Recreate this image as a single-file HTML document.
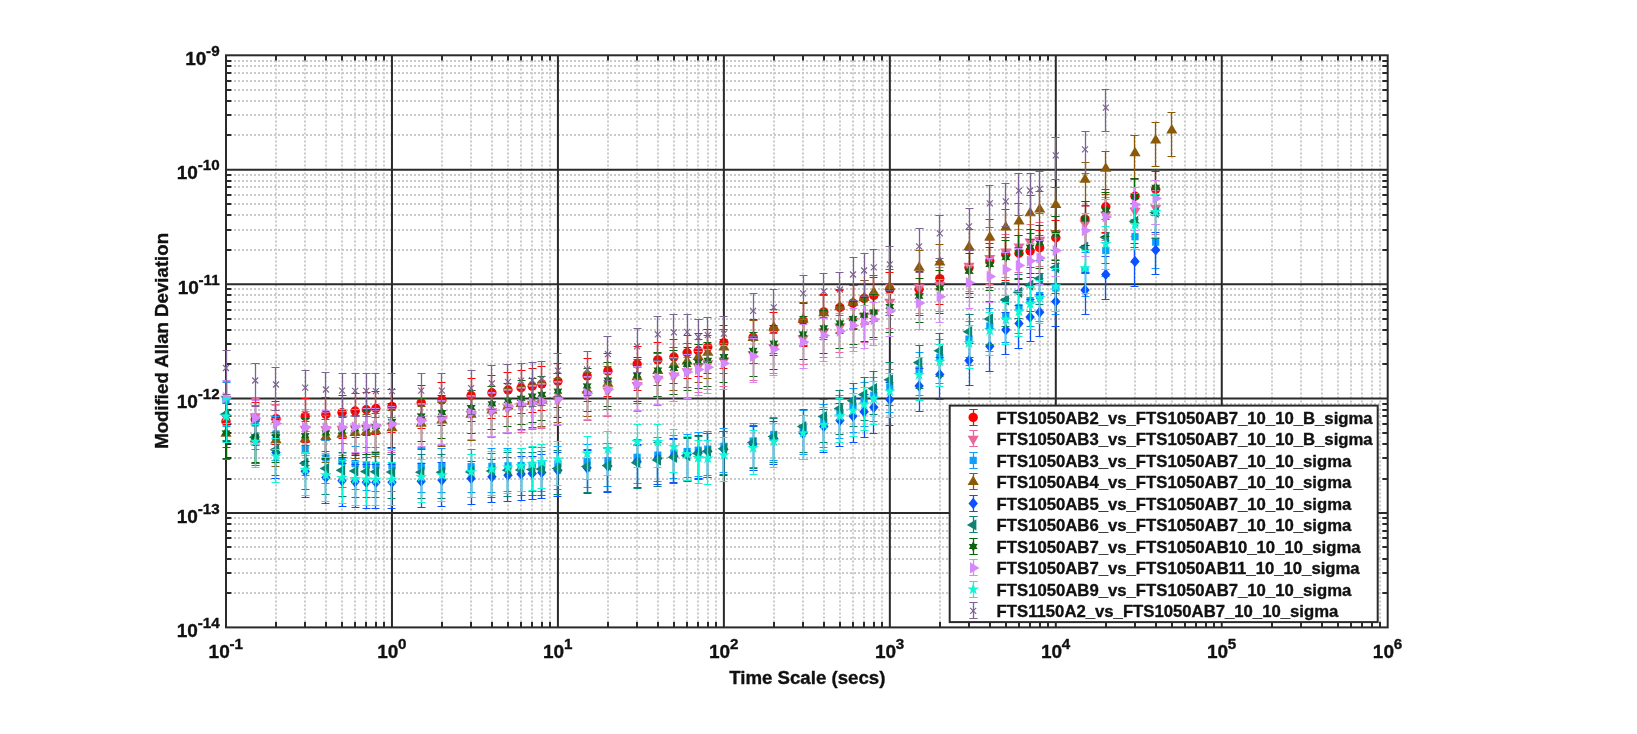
<!DOCTYPE html>
<html><head><meta charset="utf-8"><title>Modified Allan Deviation</title>
<style>html,body{margin:0;padding:0;background:#fff;width:1637px;height:734px;overflow:hidden}
svg text{font-family:"Liberation Sans",sans-serif;stroke:#111;stroke-width:0.35px;stroke-linejoin:round}</style></head>
<body>
<svg width="1637" height="734" viewBox="0 0 1637 734" style="position:absolute;left:0;top:0;will-change:transform">
<rect width="1637" height="734" fill="#fff"/>
<path d="M276.0 626.4V55.3M305.0 626.4V55.3M326.0 626.4V55.3M342.0 626.4V55.3M355.0 626.4V55.3M366.0 626.4V55.3M376.0 626.4V55.3M384.0 626.4V55.3M442.0 626.4V55.3M471.0 626.4V55.3M492.0 626.4V55.3M508.0 626.4V55.3M521.0 626.4V55.3M532.0 626.4V55.3M542.0 626.4V55.3M550.0 626.4V55.3M608.0 626.4V55.3M637.0 626.4V55.3M658.0 626.4V55.3M674.0 626.4V55.3M687.0 626.4V55.3M698.0 626.4V55.3M708.0 626.4V55.3M716.0 626.4V55.3M774.0 626.4V55.3M803.0 626.4V55.3M824.0 626.4V55.3M840.0 626.4V55.3M853.0 626.4V55.3M864.0 626.4V55.3M874.0 626.4V55.3M882.0 626.4V55.3M940.0 626.4V55.3M969.0 626.4V55.3M990.0 626.4V55.3M1006.0 626.4V55.3M1019.0 626.4V55.3M1030.0 626.4V55.3M1040.0 626.4V55.3M1048.0 626.4V55.3M1106.0 626.4V55.3M1135.0 626.4V55.3M1156.0 626.4V55.3M1172.0 626.4V55.3M1185.0 626.4V55.3M1196.0 626.4V55.3M1206.0 626.4V55.3M1214.0 626.4V55.3M1272.0 626.4V55.3M1301.0 626.4V55.3M1322.0 626.4V55.3M1338.0 626.4V55.3M1351.0 626.4V55.3M1362.0 626.4V55.3M1372.0 626.4V55.3M1380.0 626.4V55.3M226.0 593.0H1387.7M226.0 573.0H1387.7M226.0 559.0H1387.7M226.0 547.0H1387.7M226.0 538.0H1387.7M226.0 531.0H1387.7M226.0 524.0H1387.7M226.0 518.0H1387.7M226.0 479.0H1387.7M226.0 458.0H1387.7M226.0 444.0H1387.7M226.0 433.0H1387.7M226.0 424.0H1387.7M226.0 416.0H1387.7M226.0 410.0H1387.7M226.0 404.0H1387.7M226.0 364.0H1387.7M226.0 344.0H1387.7M226.0 330.0H1387.7M226.0 319.0H1387.7M226.0 310.0H1387.7M226.0 302.0H1387.7M226.0 295.0H1387.7M226.0 289.0H1387.7M226.0 250.0H1387.7M226.0 230.0H1387.7M226.0 215.0H1387.7M226.0 204.0H1387.7M226.0 195.0H1387.7M226.0 187.0H1387.7M226.0 181.0H1387.7M226.0 175.0H1387.7M226.0 135.0H1387.7M226.0 115.0H1387.7M226.0 101.0H1387.7M226.0 90.0H1387.7M226.0 81.0H1387.7M226.0 73.0H1387.7M226.0 66.0H1387.7M226.0 61.0H1387.7" stroke="#cacaca" stroke-width="2" stroke-dasharray="2 2" fill="none"/>
<path d="M391.96 55.3V627.4M557.92 55.3V627.4M723.88 55.3V627.4M889.84 55.3V627.4M1055.80 55.3V627.4M1221.76 55.3V627.4M226.0 169.72H1387.7M226.0 284.14H1387.7M226.0 398.56H1387.7M226.0 512.98H1387.7" stroke="#2a2a2a" stroke-width="2" fill="none"/>
<path d="M276.0 55.3v5.3M276.0 627.4v-5.3M305.0 55.3v5.3M305.0 627.4v-5.3M326.0 55.3v5.3M326.0 627.4v-5.3M342.0 55.3v5.3M342.0 627.4v-5.3M355.0 55.3v5.3M355.0 627.4v-5.3M366.0 55.3v5.3M366.0 627.4v-5.3M376.0 55.3v5.3M376.0 627.4v-5.3M384.0 55.3v5.3M384.0 627.4v-5.3M442.0 55.3v5.3M442.0 627.4v-5.3M471.0 55.3v5.3M471.0 627.4v-5.3M492.0 55.3v5.3M492.0 627.4v-5.3M508.0 55.3v5.3M508.0 627.4v-5.3M521.0 55.3v5.3M521.0 627.4v-5.3M532.0 55.3v5.3M532.0 627.4v-5.3M542.0 55.3v5.3M542.0 627.4v-5.3M550.0 55.3v5.3M550.0 627.4v-5.3M608.0 55.3v5.3M608.0 627.4v-5.3M637.0 55.3v5.3M637.0 627.4v-5.3M658.0 55.3v5.3M658.0 627.4v-5.3M674.0 55.3v5.3M674.0 627.4v-5.3M687.0 55.3v5.3M687.0 627.4v-5.3M698.0 55.3v5.3M698.0 627.4v-5.3M708.0 55.3v5.3M708.0 627.4v-5.3M716.0 55.3v5.3M716.0 627.4v-5.3M774.0 55.3v5.3M774.0 627.4v-5.3M803.0 55.3v5.3M803.0 627.4v-5.3M824.0 55.3v5.3M824.0 627.4v-5.3M840.0 55.3v5.3M840.0 627.4v-5.3M853.0 55.3v5.3M853.0 627.4v-5.3M864.0 55.3v5.3M864.0 627.4v-5.3M874.0 55.3v5.3M874.0 627.4v-5.3M882.0 55.3v5.3M882.0 627.4v-5.3M940.0 55.3v5.3M940.0 627.4v-5.3M969.0 55.3v5.3M969.0 627.4v-5.3M990.0 55.3v5.3M990.0 627.4v-5.3M1006.0 55.3v5.3M1006.0 627.4v-5.3M1019.0 55.3v5.3M1019.0 627.4v-5.3M1030.0 55.3v5.3M1030.0 627.4v-5.3M1040.0 55.3v5.3M1040.0 627.4v-5.3M1048.0 55.3v5.3M1048.0 627.4v-5.3M1106.0 55.3v5.3M1106.0 627.4v-5.3M1135.0 55.3v5.3M1135.0 627.4v-5.3M1156.0 55.3v5.3M1156.0 627.4v-5.3M1172.0 55.3v5.3M1172.0 627.4v-5.3M1185.0 55.3v5.3M1185.0 627.4v-5.3M1196.0 55.3v5.3M1196.0 627.4v-5.3M1206.0 55.3v5.3M1206.0 627.4v-5.3M1214.0 55.3v5.3M1214.0 627.4v-5.3M1272.0 55.3v5.3M1272.0 627.4v-5.3M1301.0 55.3v5.3M1301.0 627.4v-5.3M1322.0 55.3v5.3M1322.0 627.4v-5.3M1338.0 55.3v5.3M1338.0 627.4v-5.3M1351.0 55.3v5.3M1351.0 627.4v-5.3M1362.0 55.3v5.3M1362.0 627.4v-5.3M1372.0 55.3v5.3M1372.0 627.4v-5.3M1380.0 55.3v5.3M1380.0 627.4v-5.3M226.0 593.0h5.3M1387.7 593.0h-5.3M226.0 573.0h5.3M1387.7 573.0h-5.3M226.0 559.0h5.3M1387.7 559.0h-5.3M226.0 547.0h5.3M1387.7 547.0h-5.3M226.0 538.0h5.3M1387.7 538.0h-5.3M226.0 531.0h5.3M1387.7 531.0h-5.3M226.0 524.0h5.3M1387.7 524.0h-5.3M226.0 518.0h5.3M1387.7 518.0h-5.3M226.0 479.0h5.3M1387.7 479.0h-5.3M226.0 458.0h5.3M1387.7 458.0h-5.3M226.0 444.0h5.3M1387.7 444.0h-5.3M226.0 433.0h5.3M1387.7 433.0h-5.3M226.0 424.0h5.3M1387.7 424.0h-5.3M226.0 416.0h5.3M1387.7 416.0h-5.3M226.0 410.0h5.3M1387.7 410.0h-5.3M226.0 404.0h5.3M1387.7 404.0h-5.3M226.0 364.0h5.3M1387.7 364.0h-5.3M226.0 344.0h5.3M1387.7 344.0h-5.3M226.0 330.0h5.3M1387.7 330.0h-5.3M226.0 319.0h5.3M1387.7 319.0h-5.3M226.0 310.0h5.3M1387.7 310.0h-5.3M226.0 302.0h5.3M1387.7 302.0h-5.3M226.0 295.0h5.3M1387.7 295.0h-5.3M226.0 289.0h5.3M1387.7 289.0h-5.3M226.0 250.0h5.3M1387.7 250.0h-5.3M226.0 230.0h5.3M1387.7 230.0h-5.3M226.0 215.0h5.3M1387.7 215.0h-5.3M226.0 204.0h5.3M1387.7 204.0h-5.3M226.0 195.0h5.3M1387.7 195.0h-5.3M226.0 187.0h5.3M1387.7 187.0h-5.3M226.0 181.0h5.3M1387.7 181.0h-5.3M226.0 175.0h5.3M1387.7 175.0h-5.3M226.0 135.0h5.3M1387.7 135.0h-5.3M226.0 115.0h5.3M1387.7 115.0h-5.3M226.0 101.0h5.3M1387.7 101.0h-5.3M226.0 90.0h5.3M1387.7 90.0h-5.3M226.0 81.0h5.3M1387.7 81.0h-5.3M226.0 73.0h5.3M1387.7 73.0h-5.3M226.0 66.0h5.3M1387.7 66.0h-5.3M226.0 61.0h5.3M1387.7 61.0h-5.3" stroke="#2a2a2a" stroke-width="2" fill="none"/>
<rect x="226.0" y="55.3" width="1161.7" height="572.1" fill="none" stroke="#2a2a2a" stroke-width="2"/>
<g>
<path d="M226.50 403.0V448.0" stroke="#ff0000" stroke-width="1.3" fill="none"/><path d="M222.50 403.5H230.50M222.50 447.5H230.50" stroke="#ff0000" stroke-width="1.2" fill="none"/>
<path d="M255.50 402.0V446.0" stroke="#ff0000" stroke-width="1.3" fill="none"/><path d="M251.50 402.5H259.50M251.50 445.5H259.50" stroke="#ff0000" stroke-width="1.2" fill="none"/>
<path d="M275.50 401.0V445.0" stroke="#ff0000" stroke-width="1.3" fill="none"/><path d="M271.50 401.5H279.50M271.50 444.5H279.50" stroke="#ff0000" stroke-width="1.2" fill="none"/>
<path d="M305.50 398.0V443.0" stroke="#ff0000" stroke-width="1.3" fill="none"/><path d="M301.50 398.5H309.50M301.50 442.5H309.50" stroke="#ff0000" stroke-width="1.2" fill="none"/>
<path d="M325.50 397.0V441.0" stroke="#ff0000" stroke-width="1.3" fill="none"/><path d="M321.50 397.5H329.50M321.50 440.5H329.50" stroke="#ff0000" stroke-width="1.2" fill="none"/>
<path d="M342.50 395.0V439.0" stroke="#ff0000" stroke-width="1.3" fill="none"/><path d="M338.50 395.5H346.50M338.50 438.5H346.50" stroke="#ff0000" stroke-width="1.2" fill="none"/>
<path d="M355.50 393.0V438.0" stroke="#ff0000" stroke-width="1.3" fill="none"/><path d="M351.50 393.5H359.50M351.50 437.5H359.50" stroke="#ff0000" stroke-width="1.2" fill="none"/>
<path d="M366.50 392.0V436.0" stroke="#ff0000" stroke-width="1.3" fill="none"/><path d="M362.50 392.5H370.50M362.50 435.5H370.50" stroke="#ff0000" stroke-width="1.2" fill="none"/>
<path d="M375.50 391.0V435.0" stroke="#ff0000" stroke-width="1.3" fill="none"/><path d="M371.50 391.5H379.50M371.50 434.5H379.50" stroke="#ff0000" stroke-width="1.2" fill="none"/>
<path d="M391.50 389.0V433.0" stroke="#ff0000" stroke-width="1.3" fill="none"/><path d="M387.50 389.5H395.50M387.50 432.5H395.50" stroke="#ff0000" stroke-width="1.2" fill="none"/>
<path d="M421.50 385.0V429.0" stroke="#ff0000" stroke-width="1.3" fill="none"/><path d="M417.50 385.5H425.50M417.50 428.5H425.50" stroke="#ff0000" stroke-width="1.2" fill="none"/>
<path d="M441.50 382.0V426.0" stroke="#ff0000" stroke-width="1.3" fill="none"/><path d="M437.50 382.5H445.50M437.50 425.5H445.50" stroke="#ff0000" stroke-width="1.2" fill="none"/>
<path d="M471.50 378.0V422.0" stroke="#ff0000" stroke-width="1.3" fill="none"/><path d="M467.50 378.5H475.50M467.50 421.5H475.50" stroke="#ff0000" stroke-width="1.2" fill="none"/>
<path d="M491.50 375.0V419.0" stroke="#ff0000" stroke-width="1.3" fill="none"/><path d="M487.50 375.5H495.50M487.50 418.5H495.50" stroke="#ff0000" stroke-width="1.2" fill="none"/>
<path d="M507.50 372.0V417.0" stroke="#ff0000" stroke-width="1.3" fill="none"/><path d="M503.50 372.5H511.50M503.50 416.5H511.50" stroke="#ff0000" stroke-width="1.2" fill="none"/>
<path d="M521.50 370.0V414.0" stroke="#ff0000" stroke-width="1.3" fill="none"/><path d="M517.50 370.5H525.50M517.50 413.5H525.50" stroke="#ff0000" stroke-width="1.2" fill="none"/>
<path d="M532.50 368.0V413.0" stroke="#ff0000" stroke-width="1.3" fill="none"/><path d="M528.50 368.5H536.50M528.50 412.5H536.50" stroke="#ff0000" stroke-width="1.2" fill="none"/>
<path d="M541.50 366.0V411.0" stroke="#ff0000" stroke-width="1.3" fill="none"/><path d="M537.50 366.5H545.50M537.50 410.5H545.50" stroke="#ff0000" stroke-width="1.2" fill="none"/>
<path d="M557.50 363.0V408.0" stroke="#ff0000" stroke-width="1.3" fill="none"/><path d="M553.50 363.5H561.50M553.50 407.5H561.50" stroke="#ff0000" stroke-width="1.2" fill="none"/>
<path d="M587.50 358.0V402.0" stroke="#ff0000" stroke-width="1.3" fill="none"/><path d="M583.50 358.5H591.50M583.50 401.5H591.50" stroke="#ff0000" stroke-width="1.2" fill="none"/>
<path d="M607.50 353.0V397.0" stroke="#ff0000" stroke-width="1.3" fill="none"/><path d="M603.50 353.5H611.50M603.50 396.5H611.50" stroke="#ff0000" stroke-width="1.2" fill="none"/>
<path d="M637.50 346.0V391.0" stroke="#ff0000" stroke-width="1.3" fill="none"/><path d="M633.50 346.5H641.50M633.50 390.5H641.50" stroke="#ff0000" stroke-width="1.2" fill="none"/>
<path d="M657.50 342.0V386.0" stroke="#ff0000" stroke-width="1.3" fill="none"/><path d="M653.50 342.5H661.50M653.50 385.5H661.50" stroke="#ff0000" stroke-width="1.2" fill="none"/>
<path d="M673.50 339.0V384.0" stroke="#ff0000" stroke-width="1.3" fill="none"/><path d="M669.50 339.5H677.50M669.50 383.5H677.50" stroke="#ff0000" stroke-width="1.2" fill="none"/>
<path d="M687.50 335.0V379.0" stroke="#ff0000" stroke-width="1.3" fill="none"/><path d="M683.50 335.5H691.50M683.50 378.5H691.50" stroke="#ff0000" stroke-width="1.2" fill="none"/>
<path d="M698.50 333.0V377.0" stroke="#ff0000" stroke-width="1.3" fill="none"/><path d="M694.50 333.5H702.50M694.50 376.5H702.50" stroke="#ff0000" stroke-width="1.2" fill="none"/>
<path d="M707.50 329.0V374.0" stroke="#ff0000" stroke-width="1.3" fill="none"/><path d="M703.50 329.5H711.50M703.50 373.5H711.50" stroke="#ff0000" stroke-width="1.2" fill="none"/>
<path d="M723.50 325.0V369.0" stroke="#ff0000" stroke-width="1.3" fill="none"/><path d="M719.50 325.5H727.50M719.50 368.5H727.50" stroke="#ff0000" stroke-width="1.2" fill="none"/>
<path d="M753.50 319.0V364.0" stroke="#ff0000" stroke-width="1.3" fill="none"/><path d="M749.50 319.5H757.50M749.50 363.5H757.50" stroke="#ff0000" stroke-width="1.2" fill="none"/>
<path d="M773.50 312.0V356.0" stroke="#ff0000" stroke-width="1.3" fill="none"/><path d="M769.50 312.5H777.50M769.50 355.5H777.50" stroke="#ff0000" stroke-width="1.2" fill="none"/>
<path d="M803.50 303.0V347.0" stroke="#ff0000" stroke-width="1.3" fill="none"/><path d="M799.50 303.5H807.50M799.50 346.5H807.50" stroke="#ff0000" stroke-width="1.2" fill="none"/>
<path d="M823.50 294.0V338.0" stroke="#ff0000" stroke-width="1.3" fill="none"/><path d="M819.50 294.5H827.50M819.50 337.5H827.50" stroke="#ff0000" stroke-width="1.2" fill="none"/>
<path d="M839.50 290.0V334.0" stroke="#ff0000" stroke-width="1.3" fill="none"/><path d="M835.50 290.5H843.50M835.50 333.5H843.50" stroke="#ff0000" stroke-width="1.2" fill="none"/>
<path d="M853.50 285.0V330.0" stroke="#ff0000" stroke-width="1.3" fill="none"/><path d="M849.50 285.5H857.50M849.50 329.5H857.50" stroke="#ff0000" stroke-width="1.2" fill="none"/>
<path d="M864.50 280.0V325.0" stroke="#ff0000" stroke-width="1.3" fill="none"/><path d="M860.50 280.5H868.50M860.50 324.5H868.50" stroke="#ff0000" stroke-width="1.2" fill="none"/>
<path d="M873.50 277.0V322.0" stroke="#ff0000" stroke-width="1.3" fill="none"/><path d="M869.50 277.5H877.50M869.50 321.5H877.50" stroke="#ff0000" stroke-width="1.2" fill="none"/>
<path d="M889.50 272.0V316.0" stroke="#ff0000" stroke-width="1.3" fill="none"/><path d="M885.50 272.5H893.50M885.50 315.5H893.50" stroke="#ff0000" stroke-width="1.2" fill="none"/>
<path d="M919.50 271.0V316.0" stroke="#ff0000" stroke-width="1.3" fill="none"/><path d="M915.50 271.5H923.50M915.50 315.5H923.50" stroke="#ff0000" stroke-width="1.2" fill="none"/>
<path d="M939.50 261.0V305.0" stroke="#ff0000" stroke-width="1.3" fill="none"/><path d="M935.50 261.5H943.50M935.50 304.5H943.50" stroke="#ff0000" stroke-width="1.2" fill="none"/>
<path d="M969.50 250.0V294.0" stroke="#ff0000" stroke-width="1.3" fill="none"/><path d="M965.50 250.5H973.50M965.50 293.5H973.50" stroke="#ff0000" stroke-width="1.2" fill="none"/>
<path d="M989.50 243.0V288.0" stroke="#ff0000" stroke-width="1.3" fill="none"/><path d="M985.50 243.5H993.50M985.50 287.5H993.50" stroke="#ff0000" stroke-width="1.2" fill="none"/>
<path d="M1005.50 237.0V281.0" stroke="#ff0000" stroke-width="1.3" fill="none"/><path d="M1001.50 237.5H1009.50M1001.50 280.5H1009.50" stroke="#ff0000" stroke-width="1.2" fill="none"/>
<path d="M1018.50 235.0V280.0" stroke="#ff0000" stroke-width="1.3" fill="none"/><path d="M1014.50 235.5H1022.50M1014.50 279.5H1022.50" stroke="#ff0000" stroke-width="1.2" fill="none"/>
<path d="M1030.50 233.0V278.0" stroke="#ff0000" stroke-width="1.3" fill="none"/><path d="M1026.50 233.5H1034.50M1026.50 277.5H1034.50" stroke="#ff0000" stroke-width="1.2" fill="none"/>
<path d="M1039.50 230.0V274.0" stroke="#ff0000" stroke-width="1.3" fill="none"/><path d="M1035.50 230.5H1043.50M1035.50 273.5H1043.50" stroke="#ff0000" stroke-width="1.2" fill="none"/>
<path d="M1055.50 220.0V264.0" stroke="#ff0000" stroke-width="1.3" fill="none"/><path d="M1051.50 220.5H1059.50M1051.50 263.5H1059.50" stroke="#ff0000" stroke-width="1.2" fill="none"/>
<path d="M1085.50 201.0V246.0" stroke="#ff0000" stroke-width="1.3" fill="none"/><path d="M1081.50 201.5H1089.50M1081.50 245.5H1089.50" stroke="#ff0000" stroke-width="1.2" fill="none"/>
<path d="M1105.50 189.0V233.0" stroke="#ff0000" stroke-width="1.3" fill="none"/><path d="M1101.50 189.5H1109.50M1101.50 232.5H1109.50" stroke="#ff0000" stroke-width="1.2" fill="none"/>
<path d="M1134.50 178.0V223.0" stroke="#ff0000" stroke-width="1.3" fill="none"/><path d="M1130.50 178.5H1138.50M1130.50 222.5H1138.50" stroke="#ff0000" stroke-width="1.2" fill="none"/>
<path d="M1155.50 171.0V216.0" stroke="#ff0000" stroke-width="1.3" fill="none"/><path d="M1151.50 171.5H1159.50M1151.50 215.5H1159.50" stroke="#ff0000" stroke-width="1.2" fill="none"/>
<circle cx="226.0" cy="421.4" r="4.7" fill="#ff0000"/>
<circle cx="255.2" cy="419.5" r="4.7" fill="#ff0000"/>
<circle cx="276.0" cy="418.6" r="4.7" fill="#ff0000"/>
<circle cx="305.2" cy="416.4" r="4.7" fill="#ff0000"/>
<circle cx="325.9" cy="414.5" r="4.7" fill="#ff0000"/>
<circle cx="342.0" cy="412.6" r="4.7" fill="#ff0000"/>
<circle cx="355.1" cy="411.0" r="4.7" fill="#ff0000"/>
<circle cx="366.3" cy="409.7" r="4.7" fill="#ff0000"/>
<circle cx="375.9" cy="408.5" r="4.7" fill="#ff0000"/>
<circle cx="392.0" cy="406.5" r="4.7" fill="#ff0000"/>
<circle cx="421.2" cy="402.7" r="4.7" fill="#ff0000"/>
<circle cx="441.9" cy="399.9" r="4.7" fill="#ff0000"/>
<circle cx="471.1" cy="395.5" r="4.7" fill="#ff0000"/>
<circle cx="491.9" cy="392.8" r="4.7" fill="#ff0000"/>
<circle cx="508.0" cy="390.0" r="4.7" fill="#ff0000"/>
<circle cx="521.1" cy="387.8" r="4.7" fill="#ff0000"/>
<circle cx="532.2" cy="386.2" r="4.7" fill="#ff0000"/>
<circle cx="541.8" cy="384.0" r="4.7" fill="#ff0000"/>
<circle cx="557.9" cy="381.3" r="4.7" fill="#ff0000"/>
<circle cx="587.1" cy="375.9" r="4.7" fill="#ff0000"/>
<circle cx="607.9" cy="370.9" r="4.7" fill="#ff0000"/>
<circle cx="637.1" cy="364.0" r="4.7" fill="#ff0000"/>
<circle cx="657.8" cy="359.9" r="4.7" fill="#ff0000"/>
<circle cx="673.9" cy="357.0" r="4.7" fill="#ff0000"/>
<circle cx="687.1" cy="352.8" r="4.7" fill="#ff0000"/>
<circle cx="698.2" cy="350.8" r="4.7" fill="#ff0000"/>
<circle cx="707.8" cy="347.1" r="4.7" fill="#ff0000"/>
<circle cx="723.9" cy="342.7" r="4.7" fill="#ff0000"/>
<circle cx="753.1" cy="337.2" r="4.7" fill="#ff0000"/>
<circle cx="773.8" cy="329.5" r="4.7" fill="#ff0000"/>
<circle cx="803.1" cy="320.7" r="4.7" fill="#ff0000"/>
<circle cx="823.8" cy="311.9" r="4.7" fill="#ff0000"/>
<circle cx="839.9" cy="307.5" r="4.7" fill="#ff0000"/>
<circle cx="853.0" cy="303.1" r="4.7" fill="#ff0000"/>
<circle cx="864.1" cy="298.4" r="4.7" fill="#ff0000"/>
<circle cx="873.8" cy="295.4" r="4.7" fill="#ff0000"/>
<circle cx="889.8" cy="289.5" r="4.7" fill="#ff0000"/>
<circle cx="919.1" cy="289.3" r="4.7" fill="#ff0000"/>
<circle cx="939.8" cy="278.6" r="4.7" fill="#ff0000"/>
<circle cx="969.0" cy="267.6" r="4.7" fill="#ff0000"/>
<circle cx="989.8" cy="261.0" r="4.7" fill="#ff0000"/>
<circle cx="1005.8" cy="254.5" r="4.7" fill="#ff0000"/>
<circle cx="1019.0" cy="253.2" r="4.7" fill="#ff0000"/>
<circle cx="1030.1" cy="251.0" r="4.7" fill="#ff0000"/>
<circle cx="1039.7" cy="247.7" r="4.7" fill="#ff0000"/>
<circle cx="1055.8" cy="237.8" r="4.7" fill="#ff0000"/>
<circle cx="1085.0" cy="219.1" r="4.7" fill="#ff0000"/>
<circle cx="1105.8" cy="206.7" r="4.7" fill="#ff0000"/>
<circle cx="1135.0" cy="196.2" r="4.7" fill="#ff0000"/>
<circle cx="1155.7" cy="189.2" r="4.7" fill="#ff0000"/>
</g>
<g>
<path d="M226.50 381.0V426.0" stroke="#e8689c" stroke-width="1.3" fill="none"/><path d="M222.50 381.5H230.50M222.50 425.5H230.50" stroke="#e8689c" stroke-width="1.2" fill="none"/>
<path d="M255.50 398.0V443.0" stroke="#e8689c" stroke-width="1.3" fill="none"/><path d="M251.50 398.5H259.50M251.50 442.5H259.50" stroke="#e8689c" stroke-width="1.2" fill="none"/>
<path d="M275.50 404.0V449.0" stroke="#e8689c" stroke-width="1.3" fill="none"/><path d="M271.50 404.5H279.50M271.50 448.5H279.50" stroke="#e8689c" stroke-width="1.2" fill="none"/>
<path d="M305.50 411.0V456.0" stroke="#e8689c" stroke-width="1.3" fill="none"/><path d="M301.50 411.5H309.50M301.50 455.5H309.50" stroke="#e8689c" stroke-width="1.2" fill="none"/>
<path d="M325.50 412.0V456.0" stroke="#e8689c" stroke-width="1.3" fill="none"/><path d="M321.50 412.5H329.50M321.50 455.5H329.50" stroke="#e8689c" stroke-width="1.2" fill="none"/>
<path d="M342.50 411.0V456.0" stroke="#e8689c" stroke-width="1.3" fill="none"/><path d="M338.50 411.5H346.50M338.50 455.5H346.50" stroke="#e8689c" stroke-width="1.2" fill="none"/>
<path d="M355.50 411.0V455.0" stroke="#e8689c" stroke-width="1.3" fill="none"/><path d="M351.50 411.5H359.50M351.50 454.5H359.50" stroke="#e8689c" stroke-width="1.2" fill="none"/>
<path d="M366.50 410.0V455.0" stroke="#e8689c" stroke-width="1.3" fill="none"/><path d="M362.50 410.5H370.50M362.50 454.5H370.50" stroke="#e8689c" stroke-width="1.2" fill="none"/>
<path d="M375.50 410.0V454.0" stroke="#e8689c" stroke-width="1.3" fill="none"/><path d="M371.50 410.5H379.50M371.50 453.5H379.50" stroke="#e8689c" stroke-width="1.2" fill="none"/>
<path d="M391.50 408.0V453.0" stroke="#e8689c" stroke-width="1.3" fill="none"/><path d="M387.50 408.5H395.50M387.50 452.5H395.50" stroke="#e8689c" stroke-width="1.2" fill="none"/>
<path d="M421.50 404.0V448.0" stroke="#e8689c" stroke-width="1.3" fill="none"/><path d="M417.50 404.5H425.50M417.50 447.5H425.50" stroke="#e8689c" stroke-width="1.2" fill="none"/>
<path d="M441.50 401.0V446.0" stroke="#e8689c" stroke-width="1.3" fill="none"/><path d="M437.50 401.5H445.50M437.50 445.5H445.50" stroke="#e8689c" stroke-width="1.2" fill="none"/>
<path d="M471.50 396.0V441.0" stroke="#e8689c" stroke-width="1.3" fill="none"/><path d="M467.50 396.5H475.50M467.50 440.5H475.50" stroke="#e8689c" stroke-width="1.2" fill="none"/>
<path d="M491.50 393.0V438.0" stroke="#e8689c" stroke-width="1.3" fill="none"/><path d="M487.50 393.5H495.50M487.50 437.5H495.50" stroke="#e8689c" stroke-width="1.2" fill="none"/>
<path d="M507.50 390.0V434.0" stroke="#e8689c" stroke-width="1.3" fill="none"/><path d="M503.50 390.5H511.50M503.50 433.5H511.50" stroke="#e8689c" stroke-width="1.2" fill="none"/>
<path d="M521.50 388.0V433.0" stroke="#e8689c" stroke-width="1.3" fill="none"/><path d="M517.50 388.5H525.50M517.50 432.5H525.50" stroke="#e8689c" stroke-width="1.2" fill="none"/>
<path d="M532.50 386.0V430.0" stroke="#e8689c" stroke-width="1.3" fill="none"/><path d="M528.50 386.5H536.50M528.50 429.5H536.50" stroke="#e8689c" stroke-width="1.2" fill="none"/>
<path d="M541.50 384.0V429.0" stroke="#e8689c" stroke-width="1.3" fill="none"/><path d="M537.50 384.5H545.50M537.50 428.5H545.50" stroke="#e8689c" stroke-width="1.2" fill="none"/>
<path d="M557.50 382.0V426.0" stroke="#e8689c" stroke-width="1.3" fill="none"/><path d="M553.50 382.5H561.50M553.50 425.5H561.50" stroke="#e8689c" stroke-width="1.2" fill="none"/>
<path d="M587.50 377.0V421.0" stroke="#e8689c" stroke-width="1.3" fill="none"/><path d="M583.50 377.5H591.50M583.50 420.5H591.50" stroke="#e8689c" stroke-width="1.2" fill="none"/>
<path d="M607.50 373.0V417.0" stroke="#e8689c" stroke-width="1.3" fill="none"/><path d="M603.50 373.5H611.50M603.50 416.5H611.50" stroke="#e8689c" stroke-width="1.2" fill="none"/>
<path d="M637.50 367.0V412.0" stroke="#e8689c" stroke-width="1.3" fill="none"/><path d="M633.50 367.5H641.50M633.50 411.5H641.50" stroke="#e8689c" stroke-width="1.2" fill="none"/>
<path d="M657.50 361.0V406.0" stroke="#e8689c" stroke-width="1.3" fill="none"/><path d="M653.50 361.5H661.50M653.50 405.5H661.50" stroke="#e8689c" stroke-width="1.2" fill="none"/>
<path d="M673.50 358.0V402.0" stroke="#e8689c" stroke-width="1.3" fill="none"/><path d="M669.50 358.5H677.50M669.50 401.5H677.50" stroke="#e8689c" stroke-width="1.2" fill="none"/>
<path d="M687.50 354.0V398.0" stroke="#e8689c" stroke-width="1.3" fill="none"/><path d="M683.50 354.5H691.50M683.50 397.5H691.50" stroke="#e8689c" stroke-width="1.2" fill="none"/>
<path d="M698.50 348.0V393.0" stroke="#e8689c" stroke-width="1.3" fill="none"/><path d="M694.50 348.5H702.50M694.50 392.5H702.50" stroke="#e8689c" stroke-width="1.2" fill="none"/>
<path d="M707.50 345.0V390.0" stroke="#e8689c" stroke-width="1.3" fill="none"/><path d="M703.50 345.5H711.50M703.50 389.5H711.50" stroke="#e8689c" stroke-width="1.2" fill="none"/>
<path d="M723.50 343.0V387.0" stroke="#e8689c" stroke-width="1.3" fill="none"/><path d="M719.50 343.5H727.50M719.50 386.5H727.50" stroke="#e8689c" stroke-width="1.2" fill="none"/>
<path d="M753.50 336.0V381.0" stroke="#e8689c" stroke-width="1.3" fill="none"/><path d="M749.50 336.5H757.50M749.50 380.5H757.50" stroke="#e8689c" stroke-width="1.2" fill="none"/>
<path d="M773.50 329.0V374.0" stroke="#e8689c" stroke-width="1.3" fill="none"/><path d="M769.50 329.5H777.50M769.50 373.5H777.50" stroke="#e8689c" stroke-width="1.2" fill="none"/>
<path d="M803.50 320.0V365.0" stroke="#e8689c" stroke-width="1.3" fill="none"/><path d="M799.50 320.5H807.50M799.50 364.5H807.50" stroke="#e8689c" stroke-width="1.2" fill="none"/>
<path d="M823.50 314.0V358.0" stroke="#e8689c" stroke-width="1.3" fill="none"/><path d="M819.50 314.5H827.50M819.50 357.5H827.50" stroke="#e8689c" stroke-width="1.2" fill="none"/>
<path d="M839.50 309.0V353.0" stroke="#e8689c" stroke-width="1.3" fill="none"/><path d="M835.50 309.5H843.50M835.50 352.5H843.50" stroke="#e8689c" stroke-width="1.2" fill="none"/>
<path d="M853.50 303.0V348.0" stroke="#e8689c" stroke-width="1.3" fill="none"/><path d="M849.50 303.5H857.50M849.50 347.5H857.50" stroke="#e8689c" stroke-width="1.2" fill="none"/>
<path d="M864.50 298.0V343.0" stroke="#e8689c" stroke-width="1.3" fill="none"/><path d="M860.50 298.5H868.50M860.50 342.5H868.50" stroke="#e8689c" stroke-width="1.2" fill="none"/>
<path d="M873.50 295.0V340.0" stroke="#e8689c" stroke-width="1.3" fill="none"/><path d="M869.50 295.5H877.50M869.50 339.5H877.50" stroke="#e8689c" stroke-width="1.2" fill="none"/>
<path d="M889.50 284.0V329.0" stroke="#e8689c" stroke-width="1.3" fill="none"/><path d="M885.50 284.5H893.50M885.50 328.5H893.50" stroke="#e8689c" stroke-width="1.2" fill="none"/>
<path d="M919.50 269.0V314.0" stroke="#e8689c" stroke-width="1.3" fill="none"/><path d="M915.50 269.5H923.50M915.50 313.5H923.50" stroke="#e8689c" stroke-width="1.2" fill="none"/>
<path d="M939.50 267.0V312.0" stroke="#e8689c" stroke-width="1.3" fill="none"/><path d="M935.50 267.5H943.50M935.50 311.5H943.50" stroke="#e8689c" stroke-width="1.2" fill="none"/>
<path d="M969.50 248.0V292.0" stroke="#e8689c" stroke-width="1.3" fill="none"/><path d="M965.50 248.5H973.50M965.50 291.5H973.50" stroke="#e8689c" stroke-width="1.2" fill="none"/>
<path d="M989.50 240.0V285.0" stroke="#e8689c" stroke-width="1.3" fill="none"/><path d="M985.50 240.5H993.50M985.50 284.5H993.50" stroke="#e8689c" stroke-width="1.2" fill="none"/>
<path d="M1005.50 234.0V278.0" stroke="#e8689c" stroke-width="1.3" fill="none"/><path d="M1001.50 234.5H1009.50M1001.50 277.5H1009.50" stroke="#e8689c" stroke-width="1.2" fill="none"/>
<path d="M1018.50 229.0V273.0" stroke="#e8689c" stroke-width="1.3" fill="none"/><path d="M1014.50 229.5H1022.50M1014.50 272.5H1022.50" stroke="#e8689c" stroke-width="1.2" fill="none"/>
<path d="M1030.50 224.0V268.0" stroke="#e8689c" stroke-width="1.3" fill="none"/><path d="M1026.50 224.5H1034.50M1026.50 267.5H1034.50" stroke="#e8689c" stroke-width="1.2" fill="none"/>
<path d="M1039.50 222.0V267.0" stroke="#e8689c" stroke-width="1.3" fill="none"/><path d="M1035.50 222.5H1043.50M1035.50 266.5H1043.50" stroke="#e8689c" stroke-width="1.2" fill="none"/>
<path d="M1055.50 216.0V260.0" stroke="#e8689c" stroke-width="1.3" fill="none"/><path d="M1051.50 216.5H1059.50M1051.50 259.5H1059.50" stroke="#e8689c" stroke-width="1.2" fill="none"/>
<path d="M1085.50 206.0V250.0" stroke="#e8689c" stroke-width="1.3" fill="none"/><path d="M1081.50 206.5H1089.50M1081.50 249.5H1089.50" stroke="#e8689c" stroke-width="1.2" fill="none"/>
<path d="M1105.50 197.0V241.0" stroke="#e8689c" stroke-width="1.3" fill="none"/><path d="M1101.50 197.5H1109.50M1101.50 240.5H1109.50" stroke="#e8689c" stroke-width="1.2" fill="none"/>
<path d="M1134.50 193.0V237.0" stroke="#e8689c" stroke-width="1.3" fill="none"/><path d="M1130.50 193.5H1138.50M1130.50 236.5H1138.50" stroke="#e8689c" stroke-width="1.2" fill="none"/>
<path d="M1155.50 190.0V235.0" stroke="#e8689c" stroke-width="1.3" fill="none"/><path d="M1151.50 190.5H1159.50M1151.50 234.5H1159.50" stroke="#e8689c" stroke-width="1.2" fill="none"/>
<polygon points="220.4,395.8 231.6,395.8 226.0,405.3" fill="#e8689c"/>
<polygon points="249.6,413.2 260.8,413.2 255.2,422.7" fill="#e8689c"/>
<polygon points="270.4,418.8 281.6,418.8 276.0,428.3" fill="#e8689c"/>
<polygon points="299.6,425.8 310.8,425.8 305.2,435.3" fill="#e8689c"/>
<polygon points="320.3,426.3 331.5,426.3 325.9,435.8" fill="#e8689c"/>
<polygon points="336.4,425.8 347.6,425.8 342.0,435.3" fill="#e8689c"/>
<polygon points="349.5,425.3 360.7,425.3 355.1,434.8" fill="#e8689c"/>
<polygon points="360.7,424.8 371.9,424.8 366.3,434.3" fill="#e8689c"/>
<polygon points="370.3,424.3 381.5,424.3 375.9,433.8" fill="#e8689c"/>
<polygon points="386.4,422.8 397.6,422.8 392.0,432.3" fill="#e8689c"/>
<polygon points="415.6,418.6 426.8,418.6 421.2,428.1" fill="#e8689c"/>
<polygon points="436.3,415.9 447.5,415.9 441.9,425.4" fill="#e8689c"/>
<polygon points="465.5,410.9 476.7,410.9 471.1,420.4" fill="#e8689c"/>
<polygon points="486.3,408.2 497.5,408.2 491.9,417.7" fill="#e8689c"/>
<polygon points="502.4,404.6 513.6,404.6 508.0,414.1" fill="#e8689c"/>
<polygon points="515.5,402.8 526.7,402.8 521.1,412.3" fill="#e8689c"/>
<polygon points="526.6,400.7 537.8,400.7 532.2,410.2" fill="#e8689c"/>
<polygon points="536.2,399.1 547.4,399.1 541.8,408.6" fill="#e8689c"/>
<polygon points="552.3,396.7 563.5,396.7 557.9,406.2" fill="#e8689c"/>
<polygon points="581.5,391.3 592.7,391.3 587.1,400.8" fill="#e8689c"/>
<polygon points="602.3,387.4 613.5,387.4 607.9,396.9" fill="#e8689c"/>
<polygon points="631.5,381.9 642.7,381.9 637.1,391.4" fill="#e8689c"/>
<polygon points="652.2,375.8 663.4,375.8 657.8,385.3" fill="#e8689c"/>
<polygon points="668.3,372.4 679.5,372.4 673.9,381.9" fill="#e8689c"/>
<polygon points="681.5,368.3 692.7,368.3 687.1,377.8" fill="#e8689c"/>
<polygon points="692.6,363.2 703.8,363.2 698.2,372.7" fill="#e8689c"/>
<polygon points="702.2,360.2 713.4,360.2 707.8,369.7" fill="#e8689c"/>
<polygon points="718.3,357.4 729.5,357.4 723.9,366.9" fill="#e8689c"/>
<polygon points="747.5,351.1 758.7,351.1 753.1,360.6" fill="#e8689c"/>
<polygon points="768.2,344.2 779.4,344.2 773.8,353.7" fill="#e8689c"/>
<polygon points="797.5,335.2 808.7,335.2 803.1,344.7" fill="#e8689c"/>
<polygon points="818.2,328.3 829.4,328.3 823.8,337.8" fill="#e8689c"/>
<polygon points="834.3,323.3 845.5,323.3 839.9,332.8" fill="#e8689c"/>
<polygon points="847.4,317.8 858.6,317.8 853.0,327.3" fill="#e8689c"/>
<polygon points="858.5,312.9 869.7,312.9 864.1,322.4" fill="#e8689c"/>
<polygon points="868.2,310.2 879.4,310.2 873.8,319.7" fill="#e8689c"/>
<polygon points="884.2,298.8 895.4,298.8 889.8,308.3" fill="#e8689c"/>
<polygon points="913.5,284.2 924.7,284.2 919.1,293.7" fill="#e8689c"/>
<polygon points="934.2,281.8 945.4,281.8 939.8,291.3" fill="#e8689c"/>
<polygon points="963.4,262.7 974.6,262.7 969.0,272.2" fill="#e8689c"/>
<polygon points="984.2,255.0 995.4,255.0 989.8,264.5" fill="#e8689c"/>
<polygon points="1000.2,248.4 1011.4,248.4 1005.8,257.9" fill="#e8689c"/>
<polygon points="1013.4,243.4 1024.6,243.4 1019.0,252.9" fill="#e8689c"/>
<polygon points="1024.5,238.5 1035.7,238.5 1030.1,248.0" fill="#e8689c"/>
<polygon points="1034.1,236.8 1045.3,236.8 1039.7,246.3" fill="#e8689c"/>
<polygon points="1050.2,230.5 1061.4,230.5 1055.8,240.0" fill="#e8689c"/>
<polygon points="1079.4,220.3 1090.6,220.3 1085.0,229.8" fill="#e8689c"/>
<polygon points="1100.2,211.5 1111.4,211.5 1105.8,221.0" fill="#e8689c"/>
<polygon points="1129.4,207.7 1140.6,207.7 1135.0,217.2" fill="#e8689c"/>
<polygon points="1150.1,204.8 1161.3,204.8 1155.7,214.3" fill="#e8689c"/>
</g>
<g>
<path d="M226.50 382.0V427.0" stroke="#0d9eff" stroke-width="1.3" fill="none"/><path d="M222.50 382.5H230.50M222.50 426.5H230.50" stroke="#0d9eff" stroke-width="1.2" fill="none"/>
<path d="M255.50 405.0V450.0" stroke="#0d9eff" stroke-width="1.3" fill="none"/><path d="M251.50 405.5H259.50M251.50 449.5H259.50" stroke="#0d9eff" stroke-width="1.2" fill="none"/>
<path d="M275.50 416.0V461.0" stroke="#0d9eff" stroke-width="1.3" fill="none"/><path d="M271.50 416.5H279.50M271.50 460.5H279.50" stroke="#0d9eff" stroke-width="1.2" fill="none"/>
<path d="M305.50 431.0V476.0" stroke="#0d9eff" stroke-width="1.3" fill="none"/><path d="M301.50 431.5H309.50M301.50 475.5H309.50" stroke="#0d9eff" stroke-width="1.2" fill="none"/>
<path d="M325.50 440.0V484.0" stroke="#0d9eff" stroke-width="1.3" fill="none"/><path d="M321.50 440.5H329.50M321.50 483.5H329.50" stroke="#0d9eff" stroke-width="1.2" fill="none"/>
<path d="M342.50 443.0V488.0" stroke="#0d9eff" stroke-width="1.3" fill="none"/><path d="M338.50 443.5H346.50M338.50 487.5H346.50" stroke="#0d9eff" stroke-width="1.2" fill="none"/>
<path d="M355.50 446.0V490.0" stroke="#0d9eff" stroke-width="1.3" fill="none"/><path d="M351.50 446.5H359.50M351.50 489.5H359.50" stroke="#0d9eff" stroke-width="1.2" fill="none"/>
<path d="M366.50 447.0V491.0" stroke="#0d9eff" stroke-width="1.3" fill="none"/><path d="M362.50 447.5H370.50M362.50 490.5H370.50" stroke="#0d9eff" stroke-width="1.2" fill="none"/>
<path d="M375.50 447.0V492.0" stroke="#0d9eff" stroke-width="1.3" fill="none"/><path d="M371.50 447.5H379.50M371.50 491.5H379.50" stroke="#0d9eff" stroke-width="1.2" fill="none"/>
<path d="M391.50 448.0V492.0" stroke="#0d9eff" stroke-width="1.3" fill="none"/><path d="M387.50 448.5H395.50M387.50 491.5H395.50" stroke="#0d9eff" stroke-width="1.2" fill="none"/>
<path d="M421.50 448.0V493.0" stroke="#0d9eff" stroke-width="1.3" fill="none"/><path d="M417.50 448.5H425.50M417.50 492.5H425.50" stroke="#0d9eff" stroke-width="1.2" fill="none"/>
<path d="M441.50 448.0V493.0" stroke="#0d9eff" stroke-width="1.3" fill="none"/><path d="M437.50 448.5H445.50M437.50 492.5H445.50" stroke="#0d9eff" stroke-width="1.2" fill="none"/>
<path d="M471.50 449.0V493.0" stroke="#0d9eff" stroke-width="1.3" fill="none"/><path d="M467.50 449.5H475.50M467.50 492.5H475.50" stroke="#0d9eff" stroke-width="1.2" fill="none"/>
<path d="M491.50 448.0V493.0" stroke="#0d9eff" stroke-width="1.3" fill="none"/><path d="M487.50 448.5H495.50M487.50 492.5H495.50" stroke="#0d9eff" stroke-width="1.2" fill="none"/>
<path d="M507.50 448.0V492.0" stroke="#0d9eff" stroke-width="1.3" fill="none"/><path d="M503.50 448.5H511.50M503.50 491.5H511.50" stroke="#0d9eff" stroke-width="1.2" fill="none"/>
<path d="M521.50 448.0V492.0" stroke="#0d9eff" stroke-width="1.3" fill="none"/><path d="M517.50 448.5H525.50M517.50 491.5H525.50" stroke="#0d9eff" stroke-width="1.2" fill="none"/>
<path d="M532.50 447.0V492.0" stroke="#0d9eff" stroke-width="1.3" fill="none"/><path d="M528.50 447.5H536.50M528.50 491.5H536.50" stroke="#0d9eff" stroke-width="1.2" fill="none"/>
<path d="M541.50 447.0V492.0" stroke="#0d9eff" stroke-width="1.3" fill="none"/><path d="M537.50 447.5H545.50M537.50 491.5H545.50" stroke="#0d9eff" stroke-width="1.2" fill="none"/>
<path d="M557.50 446.0V490.0" stroke="#0d9eff" stroke-width="1.3" fill="none"/><path d="M553.50 446.5H561.50M553.50 489.5H561.50" stroke="#0d9eff" stroke-width="1.2" fill="none"/>
<path d="M587.50 444.0V488.0" stroke="#0d9eff" stroke-width="1.3" fill="none"/><path d="M583.50 444.5H591.50M583.50 487.5H591.50" stroke="#0d9eff" stroke-width="1.2" fill="none"/>
<path d="M607.50 443.0V487.0" stroke="#0d9eff" stroke-width="1.3" fill="none"/><path d="M603.50 443.5H611.50M603.50 486.5H611.50" stroke="#0d9eff" stroke-width="1.2" fill="none"/>
<path d="M637.50 439.0V484.0" stroke="#0d9eff" stroke-width="1.3" fill="none"/><path d="M633.50 439.5H641.50M633.50 483.5H641.50" stroke="#0d9eff" stroke-width="1.2" fill="none"/>
<path d="M657.50 437.0V482.0" stroke="#0d9eff" stroke-width="1.3" fill="none"/><path d="M653.50 437.5H661.50M653.50 481.5H661.50" stroke="#0d9eff" stroke-width="1.2" fill="none"/>
<path d="M673.50 435.0V479.0" stroke="#0d9eff" stroke-width="1.3" fill="none"/><path d="M669.50 435.5H677.50M669.50 478.5H677.50" stroke="#0d9eff" stroke-width="1.2" fill="none"/>
<path d="M687.50 434.0V478.0" stroke="#0d9eff" stroke-width="1.3" fill="none"/><path d="M683.50 434.5H691.50M683.50 477.5H691.50" stroke="#0d9eff" stroke-width="1.2" fill="none"/>
<path d="M698.50 432.0V477.0" stroke="#0d9eff" stroke-width="1.3" fill="none"/><path d="M694.50 432.5H702.50M694.50 476.5H702.50" stroke="#0d9eff" stroke-width="1.2" fill="none"/>
<path d="M707.50 431.0V476.0" stroke="#0d9eff" stroke-width="1.3" fill="none"/><path d="M703.50 431.5H711.50M703.50 475.5H711.50" stroke="#0d9eff" stroke-width="1.2" fill="none"/>
<path d="M723.50 428.0V473.0" stroke="#0d9eff" stroke-width="1.3" fill="none"/><path d="M719.50 428.5H727.50M719.50 472.5H727.50" stroke="#0d9eff" stroke-width="1.2" fill="none"/>
<path d="M753.50 423.0V468.0" stroke="#0d9eff" stroke-width="1.3" fill="none"/><path d="M749.50 423.5H757.50M749.50 467.5H757.50" stroke="#0d9eff" stroke-width="1.2" fill="none"/>
<path d="M773.50 417.0V461.0" stroke="#0d9eff" stroke-width="1.3" fill="none"/><path d="M769.50 417.5H777.50M769.50 460.5H777.50" stroke="#0d9eff" stroke-width="1.2" fill="none"/>
<path d="M803.50 410.0V455.0" stroke="#0d9eff" stroke-width="1.3" fill="none"/><path d="M799.50 410.5H807.50M799.50 454.5H807.50" stroke="#0d9eff" stroke-width="1.2" fill="none"/>
<path d="M823.50 404.0V448.0" stroke="#0d9eff" stroke-width="1.3" fill="none"/><path d="M819.50 404.5H827.50M819.50 447.5H827.50" stroke="#0d9eff" stroke-width="1.2" fill="none"/>
<path d="M839.50 395.0V439.0" stroke="#0d9eff" stroke-width="1.3" fill="none"/><path d="M835.50 395.5H843.50M835.50 438.5H843.50" stroke="#0d9eff" stroke-width="1.2" fill="none"/>
<path d="M853.50 388.0V433.0" stroke="#0d9eff" stroke-width="1.3" fill="none"/><path d="M849.50 388.5H857.50M849.50 432.5H857.50" stroke="#0d9eff" stroke-width="1.2" fill="none"/>
<path d="M864.50 382.0V427.0" stroke="#0d9eff" stroke-width="1.3" fill="none"/><path d="M860.50 382.5H868.50M860.50 426.5H868.50" stroke="#0d9eff" stroke-width="1.2" fill="none"/>
<path d="M873.50 377.0V422.0" stroke="#0d9eff" stroke-width="1.3" fill="none"/><path d="M869.50 377.5H877.50M869.50 421.5H877.50" stroke="#0d9eff" stroke-width="1.2" fill="none"/>
<path d="M889.50 369.0V413.0" stroke="#0d9eff" stroke-width="1.3" fill="none"/><path d="M885.50 369.5H893.50M885.50 412.5H893.50" stroke="#0d9eff" stroke-width="1.2" fill="none"/>
<path d="M919.50 352.0V396.0" stroke="#0d9eff" stroke-width="1.3" fill="none"/><path d="M915.50 352.5H923.50M915.50 395.5H923.50" stroke="#0d9eff" stroke-width="1.2" fill="none"/>
<path d="M939.50 339.0V384.0" stroke="#0d9eff" stroke-width="1.3" fill="none"/><path d="M935.50 339.5H943.50M935.50 383.5H943.50" stroke="#0d9eff" stroke-width="1.2" fill="none"/>
<path d="M969.50 321.0V366.0" stroke="#0d9eff" stroke-width="1.3" fill="none"/><path d="M965.50 321.5H973.50M965.50 365.5H973.50" stroke="#0d9eff" stroke-width="1.2" fill="none"/>
<path d="M989.50 308.0V352.0" stroke="#0d9eff" stroke-width="1.3" fill="none"/><path d="M985.50 308.5H993.50M985.50 351.5H993.50" stroke="#0d9eff" stroke-width="1.2" fill="none"/>
<path d="M1005.50 298.0V343.0" stroke="#0d9eff" stroke-width="1.3" fill="none"/><path d="M1001.50 298.5H1009.50M1001.50 342.5H1009.50" stroke="#0d9eff" stroke-width="1.2" fill="none"/>
<path d="M1018.50 290.0V334.0" stroke="#0d9eff" stroke-width="1.3" fill="none"/><path d="M1014.50 290.5H1022.50M1014.50 333.5H1022.50" stroke="#0d9eff" stroke-width="1.2" fill="none"/>
<path d="M1030.50 283.0V327.0" stroke="#0d9eff" stroke-width="1.3" fill="none"/><path d="M1026.50 283.5H1034.50M1026.50 326.5H1034.50" stroke="#0d9eff" stroke-width="1.2" fill="none"/>
<path d="M1039.50 278.0V322.0" stroke="#0d9eff" stroke-width="1.3" fill="none"/><path d="M1035.50 278.5H1043.50M1035.50 321.5H1043.50" stroke="#0d9eff" stroke-width="1.2" fill="none"/>
<path d="M1055.50 270.0V315.0" stroke="#0d9eff" stroke-width="1.3" fill="none"/><path d="M1051.50 270.5H1059.50M1051.50 314.5H1059.50" stroke="#0d9eff" stroke-width="1.2" fill="none"/>
<path d="M1085.50 252.0V297.0" stroke="#0d9eff" stroke-width="1.3" fill="none"/><path d="M1081.50 252.5H1089.50M1081.50 296.5H1089.50" stroke="#0d9eff" stroke-width="1.2" fill="none"/>
<path d="M1105.50 233.0V277.0" stroke="#0d9eff" stroke-width="1.3" fill="none"/><path d="M1101.50 233.5H1109.50M1101.50 276.5H1109.50" stroke="#0d9eff" stroke-width="1.2" fill="none"/>
<path d="M1134.50 219.0V263.0" stroke="#0d9eff" stroke-width="1.3" fill="none"/><path d="M1130.50 219.5H1138.50M1130.50 262.5H1138.50" stroke="#0d9eff" stroke-width="1.2" fill="none"/>
<path d="M1155.50 224.0V269.0" stroke="#0d9eff" stroke-width="1.3" fill="none"/><path d="M1151.50 224.5H1159.50M1151.50 268.5H1159.50" stroke="#0d9eff" stroke-width="1.2" fill="none"/>
<rect x="222.4" y="396.4" width="7.2" height="7.2" fill="#0d9eff"/>
<rect x="251.6" y="419.4" width="7.2" height="7.2" fill="#0d9eff"/>
<rect x="272.4" y="430.4" width="7.2" height="7.2" fill="#0d9eff"/>
<rect x="301.6" y="445.8" width="7.2" height="7.2" fill="#0d9eff"/>
<rect x="322.3" y="454.3" width="7.2" height="7.2" fill="#0d9eff"/>
<rect x="338.4" y="457.8" width="7.2" height="7.2" fill="#0d9eff"/>
<rect x="351.5" y="460.0" width="7.2" height="7.2" fill="#0d9eff"/>
<rect x="362.7" y="461.1" width="7.2" height="7.2" fill="#0d9eff"/>
<rect x="372.3" y="461.7" width="7.2" height="7.2" fill="#0d9eff"/>
<rect x="388.4" y="462.2" width="7.2" height="7.2" fill="#0d9eff"/>
<rect x="417.6" y="462.6" width="7.2" height="7.2" fill="#0d9eff"/>
<rect x="438.3" y="462.8" width="7.2" height="7.2" fill="#0d9eff"/>
<rect x="467.5" y="463.1" width="7.2" height="7.2" fill="#0d9eff"/>
<rect x="488.3" y="462.8" width="7.2" height="7.2" fill="#0d9eff"/>
<rect x="504.4" y="462.2" width="7.2" height="7.2" fill="#0d9eff"/>
<rect x="517.5" y="461.9" width="7.2" height="7.2" fill="#0d9eff"/>
<rect x="528.6" y="461.7" width="7.2" height="7.2" fill="#0d9eff"/>
<rect x="538.2" y="461.4" width="7.2" height="7.2" fill="#0d9eff"/>
<rect x="554.3" y="460.2" width="7.2" height="7.2" fill="#0d9eff"/>
<rect x="583.5" y="458.1" width="7.2" height="7.2" fill="#0d9eff"/>
<rect x="604.3" y="457.0" width="7.2" height="7.2" fill="#0d9eff"/>
<rect x="633.5" y="453.7" width="7.2" height="7.2" fill="#0d9eff"/>
<rect x="654.2" y="451.5" width="7.2" height="7.2" fill="#0d9eff"/>
<rect x="670.3" y="449.3" width="7.2" height="7.2" fill="#0d9eff"/>
<rect x="683.5" y="447.9" width="7.2" height="7.2" fill="#0d9eff"/>
<rect x="694.6" y="446.6" width="7.2" height="7.2" fill="#0d9eff"/>
<rect x="704.2" y="445.5" width="7.2" height="7.2" fill="#0d9eff"/>
<rect x="720.3" y="442.7" width="7.2" height="7.2" fill="#0d9eff"/>
<rect x="749.5" y="437.4" width="7.2" height="7.2" fill="#0d9eff"/>
<rect x="770.2" y="430.9" width="7.2" height="7.2" fill="#0d9eff"/>
<rect x="799.5" y="424.4" width="7.2" height="7.2" fill="#0d9eff"/>
<rect x="820.2" y="418.0" width="7.2" height="7.2" fill="#0d9eff"/>
<rect x="836.3" y="409.2" width="7.2" height="7.2" fill="#0d9eff"/>
<rect x="849.4" y="402.6" width="7.2" height="7.2" fill="#0d9eff"/>
<rect x="860.5" y="396.5" width="7.2" height="7.2" fill="#0d9eff"/>
<rect x="870.2" y="391.6" width="7.2" height="7.2" fill="#0d9eff"/>
<rect x="886.2" y="383.3" width="7.2" height="7.2" fill="#0d9eff"/>
<rect x="915.5" y="366.3" width="7.2" height="7.2" fill="#0d9eff"/>
<rect x="936.2" y="353.7" width="7.2" height="7.2" fill="#0d9eff"/>
<rect x="965.4" y="335.5" width="7.2" height="7.2" fill="#0d9eff"/>
<rect x="986.2" y="322.3" width="7.2" height="7.2" fill="#0d9eff"/>
<rect x="1002.2" y="312.4" width="7.2" height="7.2" fill="#0d9eff"/>
<rect x="1015.4" y="304.1" width="7.2" height="7.2" fill="#0d9eff"/>
<rect x="1026.5" y="297.0" width="7.2" height="7.2" fill="#0d9eff"/>
<rect x="1036.1" y="292.0" width="7.2" height="7.2" fill="#0d9eff"/>
<rect x="1052.2" y="284.4" width="7.2" height="7.2" fill="#0d9eff"/>
<rect x="1081.4" y="266.7" width="7.2" height="7.2" fill="#0d9eff"/>
<rect x="1102.2" y="246.9" width="7.2" height="7.2" fill="#0d9eff"/>
<rect x="1131.4" y="233.1" width="7.2" height="7.2" fill="#0d9eff"/>
<rect x="1152.1" y="238.6" width="7.2" height="7.2" fill="#0d9eff"/>
</g>
<g>
<path d="M226.50 416.0V460.0" stroke="#8b5a09" stroke-width="1.3" fill="none"/><path d="M222.50 416.5H230.50M222.50 459.5H230.50" stroke="#8b5a09" stroke-width="1.2" fill="none"/>
<path d="M255.50 421.0V466.0" stroke="#8b5a09" stroke-width="1.3" fill="none"/><path d="M251.50 421.5H259.50M251.50 465.5H259.50" stroke="#8b5a09" stroke-width="1.2" fill="none"/>
<path d="M275.50 422.0V467.0" stroke="#8b5a09" stroke-width="1.3" fill="none"/><path d="M271.50 422.5H279.50M271.50 466.5H279.50" stroke="#8b5a09" stroke-width="1.2" fill="none"/>
<path d="M305.50 421.0V466.0" stroke="#8b5a09" stroke-width="1.3" fill="none"/><path d="M301.50 421.5H309.50M301.50 465.5H309.50" stroke="#8b5a09" stroke-width="1.2" fill="none"/>
<path d="M325.50 419.0V463.0" stroke="#8b5a09" stroke-width="1.3" fill="none"/><path d="M321.50 419.5H329.50M321.50 462.5H329.50" stroke="#8b5a09" stroke-width="1.2" fill="none"/>
<path d="M342.50 417.0V461.0" stroke="#8b5a09" stroke-width="1.3" fill="none"/><path d="M338.50 417.5H346.50M338.50 460.5H346.50" stroke="#8b5a09" stroke-width="1.2" fill="none"/>
<path d="M355.50 415.0V459.0" stroke="#8b5a09" stroke-width="1.3" fill="none"/><path d="M351.50 415.5H359.50M351.50 458.5H359.50" stroke="#8b5a09" stroke-width="1.2" fill="none"/>
<path d="M366.50 414.0V458.0" stroke="#8b5a09" stroke-width="1.3" fill="none"/><path d="M362.50 414.5H370.50M362.50 457.5H370.50" stroke="#8b5a09" stroke-width="1.2" fill="none"/>
<path d="M375.50 413.0V457.0" stroke="#8b5a09" stroke-width="1.3" fill="none"/><path d="M371.50 413.5H379.50M371.50 456.5H379.50" stroke="#8b5a09" stroke-width="1.2" fill="none"/>
<path d="M391.50 410.0V455.0" stroke="#8b5a09" stroke-width="1.3" fill="none"/><path d="M387.50 410.5H395.50M387.50 454.5H395.50" stroke="#8b5a09" stroke-width="1.2" fill="none"/>
<path d="M421.50 406.0V450.0" stroke="#8b5a09" stroke-width="1.3" fill="none"/><path d="M417.50 406.5H425.50M417.50 449.5H425.50" stroke="#8b5a09" stroke-width="1.2" fill="none"/>
<path d="M441.50 402.0V447.0" stroke="#8b5a09" stroke-width="1.3" fill="none"/><path d="M437.50 402.5H445.50M437.50 446.5H445.50" stroke="#8b5a09" stroke-width="1.2" fill="none"/>
<path d="M471.50 397.0V441.0" stroke="#8b5a09" stroke-width="1.3" fill="none"/><path d="M467.50 397.5H475.50M467.50 440.5H475.50" stroke="#8b5a09" stroke-width="1.2" fill="none"/>
<path d="M491.50 392.0V437.0" stroke="#8b5a09" stroke-width="1.3" fill="none"/><path d="M487.50 392.5H495.50M487.50 436.5H495.50" stroke="#8b5a09" stroke-width="1.2" fill="none"/>
<path d="M507.50 388.0V433.0" stroke="#8b5a09" stroke-width="1.3" fill="none"/><path d="M503.50 388.5H511.50M503.50 432.5H511.50" stroke="#8b5a09" stroke-width="1.2" fill="none"/>
<path d="M521.50 386.0V430.0" stroke="#8b5a09" stroke-width="1.3" fill="none"/><path d="M517.50 386.5H525.50M517.50 429.5H525.50" stroke="#8b5a09" stroke-width="1.2" fill="none"/>
<path d="M532.50 384.0V428.0" stroke="#8b5a09" stroke-width="1.3" fill="none"/><path d="M528.50 384.5H536.50M528.50 427.5H536.50" stroke="#8b5a09" stroke-width="1.2" fill="none"/>
<path d="M541.50 382.0V427.0" stroke="#8b5a09" stroke-width="1.3" fill="none"/><path d="M537.50 382.5H545.50M537.50 426.5H545.50" stroke="#8b5a09" stroke-width="1.2" fill="none"/>
<path d="M557.50 378.0V423.0" stroke="#8b5a09" stroke-width="1.3" fill="none"/><path d="M553.50 378.5H561.50M553.50 422.5H561.50" stroke="#8b5a09" stroke-width="1.2" fill="none"/>
<path d="M587.50 372.0V417.0" stroke="#8b5a09" stroke-width="1.3" fill="none"/><path d="M583.50 372.5H591.50M583.50 416.5H591.50" stroke="#8b5a09" stroke-width="1.2" fill="none"/>
<path d="M607.50 366.0V410.0" stroke="#8b5a09" stroke-width="1.3" fill="none"/><path d="M603.50 366.5H611.50M603.50 409.5H611.50" stroke="#8b5a09" stroke-width="1.2" fill="none"/>
<path d="M637.50 359.0V404.0" stroke="#8b5a09" stroke-width="1.3" fill="none"/><path d="M633.50 359.5H641.50M633.50 403.5H641.50" stroke="#8b5a09" stroke-width="1.2" fill="none"/>
<path d="M657.50 353.0V397.0" stroke="#8b5a09" stroke-width="1.3" fill="none"/><path d="M653.50 353.5H661.50M653.50 396.5H661.50" stroke="#8b5a09" stroke-width="1.2" fill="none"/>
<path d="M673.50 347.0V391.0" stroke="#8b5a09" stroke-width="1.3" fill="none"/><path d="M669.50 347.5H677.50M669.50 390.5H677.50" stroke="#8b5a09" stroke-width="1.2" fill="none"/>
<path d="M687.50 343.0V388.0" stroke="#8b5a09" stroke-width="1.3" fill="none"/><path d="M683.50 343.5H691.50M683.50 387.5H691.50" stroke="#8b5a09" stroke-width="1.2" fill="none"/>
<path d="M698.50 339.0V383.0" stroke="#8b5a09" stroke-width="1.3" fill="none"/><path d="M694.50 339.5H702.50M694.50 382.5H702.50" stroke="#8b5a09" stroke-width="1.2" fill="none"/>
<path d="M707.50 335.0V379.0" stroke="#8b5a09" stroke-width="1.3" fill="none"/><path d="M703.50 335.5H711.50M703.50 378.5H711.50" stroke="#8b5a09" stroke-width="1.2" fill="none"/>
<path d="M723.50 329.0V374.0" stroke="#8b5a09" stroke-width="1.3" fill="none"/><path d="M719.50 329.5H727.50M719.50 373.5H727.50" stroke="#8b5a09" stroke-width="1.2" fill="none"/>
<path d="M753.50 320.0V364.0" stroke="#8b5a09" stroke-width="1.3" fill="none"/><path d="M749.50 320.5H757.50M749.50 363.5H757.50" stroke="#8b5a09" stroke-width="1.2" fill="none"/>
<path d="M773.50 309.0V354.0" stroke="#8b5a09" stroke-width="1.3" fill="none"/><path d="M769.50 309.5H777.50M769.50 353.5H777.50" stroke="#8b5a09" stroke-width="1.2" fill="none"/>
<path d="M803.50 302.0V346.0" stroke="#8b5a09" stroke-width="1.3" fill="none"/><path d="M799.50 302.5H807.50M799.50 345.5H807.50" stroke="#8b5a09" stroke-width="1.2" fill="none"/>
<path d="M823.50 295.0V340.0" stroke="#8b5a09" stroke-width="1.3" fill="none"/><path d="M819.50 295.5H827.50M819.50 339.5H827.50" stroke="#8b5a09" stroke-width="1.2" fill="none"/>
<path d="M839.50 289.0V333.0" stroke="#8b5a09" stroke-width="1.3" fill="none"/><path d="M835.50 289.5H843.50M835.50 332.5H843.50" stroke="#8b5a09" stroke-width="1.2" fill="none"/>
<path d="M853.50 285.0V329.0" stroke="#8b5a09" stroke-width="1.3" fill="none"/><path d="M849.50 285.5H857.50M849.50 328.5H857.50" stroke="#8b5a09" stroke-width="1.2" fill="none"/>
<path d="M864.50 280.0V324.0" stroke="#8b5a09" stroke-width="1.3" fill="none"/><path d="M860.50 280.5H868.50M860.50 323.5H868.50" stroke="#8b5a09" stroke-width="1.2" fill="none"/>
<path d="M873.50 275.0V319.0" stroke="#8b5a09" stroke-width="1.3" fill="none"/><path d="M869.50 275.5H877.50M869.50 318.5H877.50" stroke="#8b5a09" stroke-width="1.2" fill="none"/>
<path d="M889.50 269.0V313.0" stroke="#8b5a09" stroke-width="1.3" fill="none"/><path d="M885.50 269.5H893.50M885.50 312.5H893.50" stroke="#8b5a09" stroke-width="1.2" fill="none"/>
<path d="M919.50 250.0V294.0" stroke="#8b5a09" stroke-width="1.3" fill="none"/><path d="M915.50 250.5H923.50M915.50 293.5H923.50" stroke="#8b5a09" stroke-width="1.2" fill="none"/>
<path d="M939.50 244.0V289.0" stroke="#8b5a09" stroke-width="1.3" fill="none"/><path d="M935.50 244.5H943.50M935.50 288.5H943.50" stroke="#8b5a09" stroke-width="1.2" fill="none"/>
<path d="M969.50 229.0V274.0" stroke="#8b5a09" stroke-width="1.3" fill="none"/><path d="M965.50 229.5H973.50M965.50 273.5H973.50" stroke="#8b5a09" stroke-width="1.2" fill="none"/>
<path d="M989.50 219.0V264.0" stroke="#8b5a09" stroke-width="1.3" fill="none"/><path d="M985.50 219.5H993.50M985.50 263.5H993.50" stroke="#8b5a09" stroke-width="1.2" fill="none"/>
<path d="M1005.50 209.0V254.0" stroke="#8b5a09" stroke-width="1.3" fill="none"/><path d="M1001.50 209.5H1009.50M1001.50 253.5H1009.50" stroke="#8b5a09" stroke-width="1.2" fill="none"/>
<path d="M1018.50 203.0V248.0" stroke="#8b5a09" stroke-width="1.3" fill="none"/><path d="M1014.50 203.5H1022.50M1014.50 247.5H1022.50" stroke="#8b5a09" stroke-width="1.2" fill="none"/>
<path d="M1030.50 195.0V240.0" stroke="#8b5a09" stroke-width="1.3" fill="none"/><path d="M1026.50 195.5H1034.50M1026.50 239.5H1034.50" stroke="#8b5a09" stroke-width="1.2" fill="none"/>
<path d="M1039.50 191.0V236.0" stroke="#8b5a09" stroke-width="1.3" fill="none"/><path d="M1035.50 191.5H1043.50M1035.50 235.5H1043.50" stroke="#8b5a09" stroke-width="1.2" fill="none"/>
<path d="M1055.50 187.0V231.0" stroke="#8b5a09" stroke-width="1.3" fill="none"/><path d="M1051.50 187.5H1059.50M1051.50 230.5H1059.50" stroke="#8b5a09" stroke-width="1.2" fill="none"/>
<path d="M1085.50 162.0V206.0" stroke="#8b5a09" stroke-width="1.3" fill="none"/><path d="M1081.50 162.5H1089.50M1081.50 205.5H1089.50" stroke="#8b5a09" stroke-width="1.2" fill="none"/>
<path d="M1105.50 151.0V195.0" stroke="#8b5a09" stroke-width="1.3" fill="none"/><path d="M1101.50 151.5H1109.50M1101.50 194.5H1109.50" stroke="#8b5a09" stroke-width="1.2" fill="none"/>
<path d="M1134.50 135.0V180.0" stroke="#8b5a09" stroke-width="1.3" fill="none"/><path d="M1130.50 135.5H1138.50M1130.50 179.5H1138.50" stroke="#8b5a09" stroke-width="1.2" fill="none"/>
<path d="M1155.50 122.0V167.0" stroke="#8b5a09" stroke-width="1.3" fill="none"/><path d="M1151.50 122.5H1159.50M1151.50 166.5H1159.50" stroke="#8b5a09" stroke-width="1.2" fill="none"/>
<path d="M1171.50 112.0V157.0" stroke="#8b5a09" stroke-width="1.3" fill="none"/><path d="M1167.50 112.5H1175.50M1167.50 156.5H1175.50" stroke="#8b5a09" stroke-width="1.2" fill="none"/>
<polygon points="220.4,436.7 231.6,436.7 226.0,427.2" fill="#8b5a09"/>
<polygon points="249.6,442.2 260.8,442.2 255.2,432.7" fill="#8b5a09"/>
<polygon points="270.4,443.2 281.6,443.2 276.0,433.7" fill="#8b5a09"/>
<polygon points="299.6,442.2 310.8,442.2 305.2,432.7" fill="#8b5a09"/>
<polygon points="320.3,440.0 331.5,440.0 325.9,430.5" fill="#8b5a09"/>
<polygon points="336.4,437.8 347.6,437.8 342.0,428.3" fill="#8b5a09"/>
<polygon points="349.5,436.1 360.7,436.1 355.1,426.6" fill="#8b5a09"/>
<polygon points="360.7,435.0 371.9,435.0 366.3,425.5" fill="#8b5a09"/>
<polygon points="370.3,433.9 381.5,433.9 375.9,424.4" fill="#8b5a09"/>
<polygon points="386.4,431.2 397.6,431.2 392.0,421.7" fill="#8b5a09"/>
<polygon points="415.6,426.8 426.8,426.8 421.2,417.3" fill="#8b5a09"/>
<polygon points="436.3,423.5 447.5,423.5 441.9,414.0" fill="#8b5a09"/>
<polygon points="465.5,417.7 476.7,417.7 471.1,408.2" fill="#8b5a09"/>
<polygon points="486.3,413.6 497.5,413.6 491.9,404.1" fill="#8b5a09"/>
<polygon points="502.4,409.5 513.6,409.5 508.0,400.0" fill="#8b5a09"/>
<polygon points="515.5,407.0 526.7,407.0 521.1,397.5" fill="#8b5a09"/>
<polygon points="526.6,404.7 537.8,404.7 532.2,395.2" fill="#8b5a09"/>
<polygon points="536.2,403.4 547.4,403.4 541.8,393.9" fill="#8b5a09"/>
<polygon points="552.3,399.4 563.5,399.4 557.9,389.9" fill="#8b5a09"/>
<polygon points="581.5,393.4 592.7,393.4 587.1,383.9" fill="#8b5a09"/>
<polygon points="602.3,386.8 613.5,386.8 607.9,377.3" fill="#8b5a09"/>
<polygon points="631.5,380.2 642.7,380.2 637.1,370.7" fill="#8b5a09"/>
<polygon points="652.2,373.9 663.4,373.9 657.8,364.4" fill="#8b5a09"/>
<polygon points="668.3,368.1 679.5,368.1 673.9,358.6" fill="#8b5a09"/>
<polygon points="681.5,364.4 692.7,364.4 687.1,354.9" fill="#8b5a09"/>
<polygon points="692.6,360.1 703.8,360.1 698.2,350.6" fill="#8b5a09"/>
<polygon points="702.2,355.8 713.4,355.8 707.8,346.3" fill="#8b5a09"/>
<polygon points="718.3,350.4 729.5,350.4 723.9,340.9" fill="#8b5a09"/>
<polygon points="747.5,340.9 758.7,340.9 753.1,331.4" fill="#8b5a09"/>
<polygon points="768.2,330.5 779.4,330.5 773.8,321.0" fill="#8b5a09"/>
<polygon points="797.5,322.8 808.7,322.8 803.1,313.3" fill="#8b5a09"/>
<polygon points="818.2,316.2 829.4,316.2 823.8,306.7" fill="#8b5a09"/>
<polygon points="834.3,309.9 845.5,309.9 839.9,300.4" fill="#8b5a09"/>
<polygon points="847.4,305.7 858.6,305.7 853.0,296.2" fill="#8b5a09"/>
<polygon points="858.5,301.1 869.7,301.1 864.1,291.6" fill="#8b5a09"/>
<polygon points="868.2,295.8 879.4,295.8 873.8,286.3" fill="#8b5a09"/>
<polygon points="884.2,289.7 895.4,289.7 889.8,280.2" fill="#8b5a09"/>
<polygon points="913.5,270.7 924.7,270.7 919.1,261.2" fill="#8b5a09"/>
<polygon points="934.2,265.5 945.4,265.5 939.8,256.0" fill="#8b5a09"/>
<polygon points="963.4,250.3 974.6,250.3 969.0,240.8" fill="#8b5a09"/>
<polygon points="984.2,240.5 995.4,240.5 989.8,231.0" fill="#8b5a09"/>
<polygon points="1000.2,230.6 1011.4,230.6 1005.8,221.1" fill="#8b5a09"/>
<polygon points="1013.4,224.5 1024.6,224.5 1019.0,215.0" fill="#8b5a09"/>
<polygon points="1024.5,216.3 1035.7,216.3 1030.1,206.8" fill="#8b5a09"/>
<polygon points="1034.1,212.4 1045.3,212.4 1039.7,202.9" fill="#8b5a09"/>
<polygon points="1050.2,208.0 1061.4,208.0 1055.8,198.5" fill="#8b5a09"/>
<polygon points="1079.4,182.7 1090.6,182.7 1085.0,173.2" fill="#8b5a09"/>
<polygon points="1100.2,171.7 1111.4,171.7 1105.8,162.2" fill="#8b5a09"/>
<polygon points="1129.4,156.3 1140.6,156.3 1135.0,146.8" fill="#8b5a09"/>
<polygon points="1150.1,143.6 1161.3,143.6 1155.7,134.1" fill="#8b5a09"/>
<polygon points="1166.2,133.4 1177.4,133.4 1171.8,123.9" fill="#8b5a09"/>
</g>
<g>
<path d="M226.50 397.0V442.0" stroke="#0d50ff" stroke-width="1.3" fill="none"/><path d="M222.50 397.5H230.50M222.50 441.5H230.50" stroke="#0d50ff" stroke-width="1.2" fill="none"/>
<path d="M255.50 419.0V464.0" stroke="#0d50ff" stroke-width="1.3" fill="none"/><path d="M251.50 419.5H259.50M251.50 463.5H259.50" stroke="#0d50ff" stroke-width="1.2" fill="none"/>
<path d="M275.50 435.0V479.0" stroke="#0d50ff" stroke-width="1.3" fill="none"/><path d="M271.50 435.5H279.50M271.50 478.5H279.50" stroke="#0d50ff" stroke-width="1.2" fill="none"/>
<path d="M305.50 453.0V498.0" stroke="#0d50ff" stroke-width="1.3" fill="none"/><path d="M301.50 453.5H309.50M301.50 497.5H309.50" stroke="#0d50ff" stroke-width="1.2" fill="none"/>
<path d="M325.50 459.0V504.0" stroke="#0d50ff" stroke-width="1.3" fill="none"/><path d="M321.50 459.5H329.50M321.50 503.5H329.50" stroke="#0d50ff" stroke-width="1.2" fill="none"/>
<path d="M342.50 463.0V507.0" stroke="#0d50ff" stroke-width="1.3" fill="none"/><path d="M338.50 463.5H346.50M338.50 506.5H346.50" stroke="#0d50ff" stroke-width="1.2" fill="none"/>
<path d="M355.50 464.0V508.0" stroke="#0d50ff" stroke-width="1.3" fill="none"/><path d="M351.50 464.5H359.50M351.50 507.5H359.50" stroke="#0d50ff" stroke-width="1.2" fill="none"/>
<path d="M366.50 464.0V509.0" stroke="#0d50ff" stroke-width="1.3" fill="none"/><path d="M362.50 464.5H370.50M362.50 508.5H370.50" stroke="#0d50ff" stroke-width="1.2" fill="none"/>
<path d="M375.50 464.0V509.0" stroke="#0d50ff" stroke-width="1.3" fill="none"/><path d="M371.50 464.5H379.50M371.50 508.5H379.50" stroke="#0d50ff" stroke-width="1.2" fill="none"/>
<path d="M391.50 464.0V509.0" stroke="#0d50ff" stroke-width="1.3" fill="none"/><path d="M387.50 464.5H395.50M387.50 508.5H395.50" stroke="#0d50ff" stroke-width="1.2" fill="none"/>
<path d="M421.50 463.0V508.0" stroke="#0d50ff" stroke-width="1.3" fill="none"/><path d="M417.50 463.5H425.50M417.50 507.5H425.50" stroke="#0d50ff" stroke-width="1.2" fill="none"/>
<path d="M441.50 462.0V507.0" stroke="#0d50ff" stroke-width="1.3" fill="none"/><path d="M437.50 462.5H445.50M437.50 506.5H445.50" stroke="#0d50ff" stroke-width="1.2" fill="none"/>
<path d="M471.50 461.0V505.0" stroke="#0d50ff" stroke-width="1.3" fill="none"/><path d="M467.50 461.5H475.50M467.50 504.5H475.50" stroke="#0d50ff" stroke-width="1.2" fill="none"/>
<path d="M491.50 459.0V503.0" stroke="#0d50ff" stroke-width="1.3" fill="none"/><path d="M487.50 459.5H495.50M487.50 502.5H495.50" stroke="#0d50ff" stroke-width="1.2" fill="none"/>
<path d="M507.50 457.0V502.0" stroke="#0d50ff" stroke-width="1.3" fill="none"/><path d="M503.50 457.5H511.50M503.50 501.5H511.50" stroke="#0d50ff" stroke-width="1.2" fill="none"/>
<path d="M521.50 456.0V501.0" stroke="#0d50ff" stroke-width="1.3" fill="none"/><path d="M517.50 456.5H525.50M517.50 500.5H525.50" stroke="#0d50ff" stroke-width="1.2" fill="none"/>
<path d="M532.50 456.0V500.0" stroke="#0d50ff" stroke-width="1.3" fill="none"/><path d="M528.50 456.5H536.50M528.50 499.5H536.50" stroke="#0d50ff" stroke-width="1.2" fill="none"/>
<path d="M541.50 454.0V499.0" stroke="#0d50ff" stroke-width="1.3" fill="none"/><path d="M537.50 454.5H545.50M537.50 498.5H545.50" stroke="#0d50ff" stroke-width="1.2" fill="none"/>
<path d="M557.50 452.0V497.0" stroke="#0d50ff" stroke-width="1.3" fill="none"/><path d="M553.50 452.5H561.50M553.50 496.5H561.50" stroke="#0d50ff" stroke-width="1.2" fill="none"/>
<path d="M587.50 450.0V494.0" stroke="#0d50ff" stroke-width="1.3" fill="none"/><path d="M583.50 450.5H591.50M583.50 493.5H591.50" stroke="#0d50ff" stroke-width="1.2" fill="none"/>
<path d="M607.50 448.0V493.0" stroke="#0d50ff" stroke-width="1.3" fill="none"/><path d="M603.50 448.5H611.50M603.50 492.5H611.50" stroke="#0d50ff" stroke-width="1.2" fill="none"/>
<path d="M637.50 444.0V488.0" stroke="#0d50ff" stroke-width="1.3" fill="none"/><path d="M633.50 444.5H641.50M633.50 487.5H641.50" stroke="#0d50ff" stroke-width="1.2" fill="none"/>
<path d="M657.50 440.0V485.0" stroke="#0d50ff" stroke-width="1.3" fill="none"/><path d="M653.50 440.5H661.50M653.50 484.5H661.50" stroke="#0d50ff" stroke-width="1.2" fill="none"/>
<path d="M673.50 438.0V483.0" stroke="#0d50ff" stroke-width="1.3" fill="none"/><path d="M669.50 438.5H677.50M669.50 482.5H677.50" stroke="#0d50ff" stroke-width="1.2" fill="none"/>
<path d="M687.50 437.0V481.0" stroke="#0d50ff" stroke-width="1.3" fill="none"/><path d="M683.50 437.5H691.50M683.50 480.5H691.50" stroke="#0d50ff" stroke-width="1.2" fill="none"/>
<path d="M698.50 435.0V479.0" stroke="#0d50ff" stroke-width="1.3" fill="none"/><path d="M694.50 435.5H702.50M694.50 478.5H702.50" stroke="#0d50ff" stroke-width="1.2" fill="none"/>
<path d="M707.50 433.0V478.0" stroke="#0d50ff" stroke-width="1.3" fill="none"/><path d="M703.50 433.5H711.50M703.50 477.5H711.50" stroke="#0d50ff" stroke-width="1.2" fill="none"/>
<path d="M723.50 431.0V476.0" stroke="#0d50ff" stroke-width="1.3" fill="none"/><path d="M719.50 431.5H727.50M719.50 475.5H727.50" stroke="#0d50ff" stroke-width="1.2" fill="none"/>
<path d="M753.50 426.0V471.0" stroke="#0d50ff" stroke-width="1.3" fill="none"/><path d="M749.50 426.5H757.50M749.50 470.5H757.50" stroke="#0d50ff" stroke-width="1.2" fill="none"/>
<path d="M773.50 421.0V465.0" stroke="#0d50ff" stroke-width="1.3" fill="none"/><path d="M769.50 421.5H777.50M769.50 464.5H777.50" stroke="#0d50ff" stroke-width="1.2" fill="none"/>
<path d="M803.50 415.0V460.0" stroke="#0d50ff" stroke-width="1.3" fill="none"/><path d="M799.50 415.5H807.50M799.50 459.5H807.50" stroke="#0d50ff" stroke-width="1.2" fill="none"/>
<path d="M823.50 409.0V453.0" stroke="#0d50ff" stroke-width="1.3" fill="none"/><path d="M819.50 409.5H827.50M819.50 452.5H827.50" stroke="#0d50ff" stroke-width="1.2" fill="none"/>
<path d="M839.50 403.0V447.0" stroke="#0d50ff" stroke-width="1.3" fill="none"/><path d="M835.50 403.5H843.50M835.50 446.5H843.50" stroke="#0d50ff" stroke-width="1.2" fill="none"/>
<path d="M853.50 398.0V443.0" stroke="#0d50ff" stroke-width="1.3" fill="none"/><path d="M849.50 398.5H857.50M849.50 442.5H857.50" stroke="#0d50ff" stroke-width="1.2" fill="none"/>
<path d="M864.50 394.0V438.0" stroke="#0d50ff" stroke-width="1.3" fill="none"/><path d="M860.50 394.5H868.50M860.50 437.5H868.50" stroke="#0d50ff" stroke-width="1.2" fill="none"/>
<path d="M873.50 389.0V434.0" stroke="#0d50ff" stroke-width="1.3" fill="none"/><path d="M869.50 389.5H877.50M869.50 433.5H877.50" stroke="#0d50ff" stroke-width="1.2" fill="none"/>
<path d="M889.50 382.0V426.0" stroke="#0d50ff" stroke-width="1.3" fill="none"/><path d="M885.50 382.5H893.50M885.50 425.5H893.50" stroke="#0d50ff" stroke-width="1.2" fill="none"/>
<path d="M919.50 368.0V412.0" stroke="#0d50ff" stroke-width="1.3" fill="none"/><path d="M915.50 368.5H923.50M915.50 411.5H923.50" stroke="#0d50ff" stroke-width="1.2" fill="none"/>
<path d="M939.50 357.0V400.0" stroke="#0d50ff" stroke-width="1.3" fill="none"/><path d="M935.50 357.5H943.50M935.50 399.5H943.50" stroke="#0d50ff" stroke-width="1.2" fill="none"/>
<path d="M969.50 343.0V386.0" stroke="#0d50ff" stroke-width="1.3" fill="none"/><path d="M965.50 343.5H973.50M965.50 385.5H973.50" stroke="#0d50ff" stroke-width="1.2" fill="none"/>
<path d="M989.50 328.0V372.0" stroke="#0d50ff" stroke-width="1.3" fill="none"/><path d="M985.50 328.5H993.50M985.50 371.5H993.50" stroke="#0d50ff" stroke-width="1.2" fill="none"/>
<path d="M1005.50 312.0V355.0" stroke="#0d50ff" stroke-width="1.3" fill="none"/><path d="M1001.50 312.5H1009.50M1001.50 354.5H1009.50" stroke="#0d50ff" stroke-width="1.2" fill="none"/>
<path d="M1018.50 305.0V349.0" stroke="#0d50ff" stroke-width="1.3" fill="none"/><path d="M1014.50 305.5H1022.50M1014.50 348.5H1022.50" stroke="#0d50ff" stroke-width="1.2" fill="none"/>
<path d="M1030.50 299.0V342.0" stroke="#0d50ff" stroke-width="1.3" fill="none"/><path d="M1026.50 299.5H1034.50M1026.50 341.5H1034.50" stroke="#0d50ff" stroke-width="1.2" fill="none"/>
<path d="M1039.50 294.0V337.0" stroke="#0d50ff" stroke-width="1.3" fill="none"/><path d="M1035.50 294.5H1043.50M1035.50 336.5H1043.50" stroke="#0d50ff" stroke-width="1.2" fill="none"/>
<path d="M1055.50 284.0V327.0" stroke="#0d50ff" stroke-width="1.3" fill="none"/><path d="M1051.50 284.5H1059.50M1051.50 326.5H1059.50" stroke="#0d50ff" stroke-width="1.2" fill="none"/>
<path d="M1085.50 272.0V315.0" stroke="#0d50ff" stroke-width="1.3" fill="none"/><path d="M1081.50 272.5H1089.50M1081.50 314.5H1089.50" stroke="#0d50ff" stroke-width="1.2" fill="none"/>
<path d="M1105.50 256.0V300.0" stroke="#0d50ff" stroke-width="1.3" fill="none"/><path d="M1101.50 256.5H1109.50M1101.50 299.5H1109.50" stroke="#0d50ff" stroke-width="1.2" fill="none"/>
<path d="M1134.50 243.0V287.0" stroke="#0d50ff" stroke-width="1.3" fill="none"/><path d="M1130.50 243.5H1138.50M1130.50 286.5H1138.50" stroke="#0d50ff" stroke-width="1.2" fill="none"/>
<path d="M1155.50 232.0V275.0" stroke="#0d50ff" stroke-width="1.3" fill="none"/><path d="M1151.50 232.5H1159.50M1151.50 274.5H1159.50" stroke="#0d50ff" stroke-width="1.2" fill="none"/>
<polygon points="226.0,409.4 230.7,415.0 226.0,420.6 221.3,415.0" fill="#0d50ff"/>
<polygon points="255.2,431.4 259.9,437.0 255.2,442.6 250.5,437.0" fill="#0d50ff"/>
<polygon points="276.0,447.0 280.7,452.6 276.0,458.2 271.3,452.6" fill="#0d50ff"/>
<polygon points="305.2,465.7 309.9,471.3 305.2,476.9 300.5,471.3" fill="#0d50ff"/>
<polygon points="325.9,471.8 330.6,477.4 325.9,483.0 321.2,477.4" fill="#0d50ff"/>
<polygon points="342.0,475.1 346.7,480.7 342.0,486.3 337.3,480.7" fill="#0d50ff"/>
<polygon points="355.1,476.2 359.8,481.8 355.1,487.4 350.4,481.8" fill="#0d50ff"/>
<polygon points="366.3,476.7 371.0,482.3 366.3,487.9 361.6,482.3" fill="#0d50ff"/>
<polygon points="375.9,476.7 380.6,482.3 375.9,487.9 371.2,482.3" fill="#0d50ff"/>
<polygon points="392.0,476.7 396.7,482.3 392.0,487.9 387.3,482.3" fill="#0d50ff"/>
<polygon points="421.2,475.6 425.9,481.2 421.2,486.8 416.5,481.2" fill="#0d50ff"/>
<polygon points="441.9,474.5 446.6,480.1 441.9,485.7 437.2,480.1" fill="#0d50ff"/>
<polygon points="471.1,472.9 475.8,478.5 471.1,484.1 466.4,478.5" fill="#0d50ff"/>
<polygon points="491.9,471.2 496.6,476.8 491.9,482.4 487.2,476.8" fill="#0d50ff"/>
<polygon points="508.0,469.6 512.7,475.2 508.0,480.8 503.3,475.2" fill="#0d50ff"/>
<polygon points="521.1,468.5 525.8,474.1 521.1,479.7 516.4,474.1" fill="#0d50ff"/>
<polygon points="532.2,467.9 536.9,473.5 532.2,479.1 527.5,473.5" fill="#0d50ff"/>
<polygon points="541.8,466.8 546.5,472.4 541.8,478.0 537.1,472.4" fill="#0d50ff"/>
<polygon points="557.9,464.7 562.6,470.3 557.9,475.9 553.2,470.3" fill="#0d50ff"/>
<polygon points="587.1,462.2 591.8,467.8 587.1,473.4 582.4,467.8" fill="#0d50ff"/>
<polygon points="607.9,460.5 612.6,466.1 607.9,471.7 603.2,466.1" fill="#0d50ff"/>
<polygon points="637.1,456.1 641.8,461.7 637.1,467.3 632.4,461.7" fill="#0d50ff"/>
<polygon points="657.8,452.8 662.5,458.4 657.8,464.0 653.1,458.4" fill="#0d50ff"/>
<polygon points="673.9,450.6 678.6,456.2 673.9,461.8 669.2,456.2" fill="#0d50ff"/>
<polygon points="687.1,449.0 691.8,454.6 687.1,460.2 682.4,454.6" fill="#0d50ff"/>
<polygon points="698.2,447.3 702.9,452.9 698.2,458.5 693.5,452.9" fill="#0d50ff"/>
<polygon points="707.8,445.7 712.5,451.3 707.8,456.9 703.1,451.3" fill="#0d50ff"/>
<polygon points="723.9,443.7 728.6,449.3 723.9,454.9 719.2,449.3" fill="#0d50ff"/>
<polygon points="753.1,438.5 757.8,444.1 753.1,449.7 748.4,444.1" fill="#0d50ff"/>
<polygon points="773.8,433.0 778.5,438.6 773.8,444.2 769.1,438.6" fill="#0d50ff"/>
<polygon points="803.1,427.5 807.8,433.1 803.1,438.7 798.4,433.1" fill="#0d50ff"/>
<polygon points="823.8,420.9 828.5,426.5 823.8,432.1 819.1,426.5" fill="#0d50ff"/>
<polygon points="839.9,414.9 844.6,420.5 839.9,426.1 835.2,420.5" fill="#0d50ff"/>
<polygon points="853.0,410.5 857.7,416.1 853.0,421.7 848.3,416.1" fill="#0d50ff"/>
<polygon points="864.1,406.1 868.8,411.7 864.1,417.3 859.4,411.7" fill="#0d50ff"/>
<polygon points="873.8,401.7 878.5,407.3 873.8,412.9 869.1,407.3" fill="#0d50ff"/>
<polygon points="889.8,394.0 894.5,399.6 889.8,405.2 885.1,399.6" fill="#0d50ff"/>
<polygon points="919.1,380.3 923.8,385.9 919.1,391.5 914.4,385.9" fill="#0d50ff"/>
<polygon points="939.8,368.9 944.5,374.5 939.8,380.1 935.1,374.5" fill="#0d50ff"/>
<polygon points="969.0,355.0 973.7,360.6 969.0,366.2 964.3,360.6" fill="#0d50ff"/>
<polygon points="989.8,340.7 994.5,346.3 989.8,351.9 985.1,346.3" fill="#0d50ff"/>
<polygon points="1005.8,324.2 1010.5,329.8 1005.8,335.4 1001.1,329.8" fill="#0d50ff"/>
<polygon points="1019.0,317.8 1023.7,323.4 1019.0,329.0 1014.3,323.4" fill="#0d50ff"/>
<polygon points="1030.1,311.5 1034.8,317.1 1030.1,322.7 1025.4,317.1" fill="#0d50ff"/>
<polygon points="1039.7,306.6 1044.4,312.2 1039.7,317.8 1035.0,312.2" fill="#0d50ff"/>
<polygon points="1055.8,295.9 1060.5,301.5 1055.8,307.1 1051.1,301.5" fill="#0d50ff"/>
<polygon points="1085.0,284.5 1089.7,290.1 1085.0,295.7 1080.3,290.1" fill="#0d50ff"/>
<polygon points="1105.8,268.8 1110.5,274.4 1105.8,280.0 1101.1,274.4" fill="#0d50ff"/>
<polygon points="1135.0,255.8 1139.7,261.4 1135.0,267.0 1130.3,261.4" fill="#0d50ff"/>
<polygon points="1155.7,244.4 1160.4,250.0 1155.7,255.6 1151.0,250.0" fill="#0d50ff"/>
</g>
<g>
<path d="M226.50 396.0V441.0" stroke="#0f8273" stroke-width="1.3" fill="none"/><path d="M222.50 396.5H230.50M222.50 440.5H230.50" stroke="#0f8273" stroke-width="1.2" fill="none"/>
<path d="M255.50 419.0V464.0" stroke="#0f8273" stroke-width="1.3" fill="none"/><path d="M251.50 419.5H259.50M251.50 463.5H259.50" stroke="#0f8273" stroke-width="1.2" fill="none"/>
<path d="M275.50 432.0V476.0" stroke="#0f8273" stroke-width="1.3" fill="none"/><path d="M271.50 432.5H279.50M271.50 475.5H279.50" stroke="#0f8273" stroke-width="1.2" fill="none"/>
<path d="M305.50 445.0V490.0" stroke="#0f8273" stroke-width="1.3" fill="none"/><path d="M301.50 445.5H309.50M301.50 489.5H309.50" stroke="#0f8273" stroke-width="1.2" fill="none"/>
<path d="M325.50 451.0V495.0" stroke="#0f8273" stroke-width="1.3" fill="none"/><path d="M321.50 451.5H329.50M321.50 494.5H329.50" stroke="#0f8273" stroke-width="1.2" fill="none"/>
<path d="M342.50 452.0V497.0" stroke="#0f8273" stroke-width="1.3" fill="none"/><path d="M338.50 452.5H346.50M338.50 496.5H346.50" stroke="#0f8273" stroke-width="1.2" fill="none"/>
<path d="M355.50 453.0V498.0" stroke="#0f8273" stroke-width="1.3" fill="none"/><path d="M351.50 453.5H359.50M351.50 497.5H359.50" stroke="#0f8273" stroke-width="1.2" fill="none"/>
<path d="M366.50 454.0V498.0" stroke="#0f8273" stroke-width="1.3" fill="none"/><path d="M362.50 454.5H370.50M362.50 497.5H370.50" stroke="#0f8273" stroke-width="1.2" fill="none"/>
<path d="M375.50 454.0V498.0" stroke="#0f8273" stroke-width="1.3" fill="none"/><path d="M371.50 454.5H379.50M371.50 497.5H379.50" stroke="#0f8273" stroke-width="1.2" fill="none"/>
<path d="M391.50 454.0V499.0" stroke="#0f8273" stroke-width="1.3" fill="none"/><path d="M387.50 454.5H395.50M387.50 498.5H395.50" stroke="#0f8273" stroke-width="1.2" fill="none"/>
<path d="M421.50 454.0V499.0" stroke="#0f8273" stroke-width="1.3" fill="none"/><path d="M417.50 454.5H425.50M417.50 498.5H425.50" stroke="#0f8273" stroke-width="1.2" fill="none"/>
<path d="M441.50 454.0V499.0" stroke="#0f8273" stroke-width="1.3" fill="none"/><path d="M437.50 454.5H445.50M437.50 498.5H445.50" stroke="#0f8273" stroke-width="1.2" fill="none"/>
<path d="M471.50 454.0V498.0" stroke="#0f8273" stroke-width="1.3" fill="none"/><path d="M467.50 454.5H475.50M467.50 497.5H475.50" stroke="#0f8273" stroke-width="1.2" fill="none"/>
<path d="M491.50 453.0V498.0" stroke="#0f8273" stroke-width="1.3" fill="none"/><path d="M487.50 453.5H495.50M487.50 497.5H495.50" stroke="#0f8273" stroke-width="1.2" fill="none"/>
<path d="M507.50 452.0V497.0" stroke="#0f8273" stroke-width="1.3" fill="none"/><path d="M503.50 452.5H511.50M503.50 496.5H511.50" stroke="#0f8273" stroke-width="1.2" fill="none"/>
<path d="M521.50 452.0V496.0" stroke="#0f8273" stroke-width="1.3" fill="none"/><path d="M517.50 452.5H525.50M517.50 495.5H525.50" stroke="#0f8273" stroke-width="1.2" fill="none"/>
<path d="M532.50 452.0V496.0" stroke="#0f8273" stroke-width="1.3" fill="none"/><path d="M528.50 452.5H536.50M528.50 495.5H536.50" stroke="#0f8273" stroke-width="1.2" fill="none"/>
<path d="M541.50 451.0V496.0" stroke="#0f8273" stroke-width="1.3" fill="none"/><path d="M537.50 451.5H545.50M537.50 495.5H545.50" stroke="#0f8273" stroke-width="1.2" fill="none"/>
<path d="M557.50 450.0V495.0" stroke="#0f8273" stroke-width="1.3" fill="none"/><path d="M553.50 450.5H561.50M553.50 494.5H561.50" stroke="#0f8273" stroke-width="1.2" fill="none"/>
<path d="M587.50 449.0V493.0" stroke="#0f8273" stroke-width="1.3" fill="none"/><path d="M583.50 449.5H591.50M583.50 492.5H591.50" stroke="#0f8273" stroke-width="1.2" fill="none"/>
<path d="M607.50 447.0V492.0" stroke="#0f8273" stroke-width="1.3" fill="none"/><path d="M603.50 447.5H611.50M603.50 491.5H611.50" stroke="#0f8273" stroke-width="1.2" fill="none"/>
<path d="M637.50 445.0V489.0" stroke="#0f8273" stroke-width="1.3" fill="none"/><path d="M633.50 445.5H641.50M633.50 488.5H641.50" stroke="#0f8273" stroke-width="1.2" fill="none"/>
<path d="M657.50 442.0V487.0" stroke="#0f8273" stroke-width="1.3" fill="none"/><path d="M653.50 442.5H661.50M653.50 486.5H661.50" stroke="#0f8273" stroke-width="1.2" fill="none"/>
<path d="M673.50 439.0V484.0" stroke="#0f8273" stroke-width="1.3" fill="none"/><path d="M669.50 439.5H677.50M669.50 483.5H677.50" stroke="#0f8273" stroke-width="1.2" fill="none"/>
<path d="M687.50 438.0V482.0" stroke="#0f8273" stroke-width="1.3" fill="none"/><path d="M683.50 438.5H691.50M683.50 481.5H691.50" stroke="#0f8273" stroke-width="1.2" fill="none"/>
<path d="M698.50 436.0V480.0" stroke="#0f8273" stroke-width="1.3" fill="none"/><path d="M694.50 436.5H702.50M694.50 479.5H702.50" stroke="#0f8273" stroke-width="1.2" fill="none"/>
<path d="M707.50 433.0V478.0" stroke="#0f8273" stroke-width="1.3" fill="none"/><path d="M703.50 433.5H711.50M703.50 477.5H711.50" stroke="#0f8273" stroke-width="1.2" fill="none"/>
<path d="M723.50 431.0V475.0" stroke="#0f8273" stroke-width="1.3" fill="none"/><path d="M719.50 431.5H727.50M719.50 474.5H727.50" stroke="#0f8273" stroke-width="1.2" fill="none"/>
<path d="M753.50 425.0V469.0" stroke="#0f8273" stroke-width="1.3" fill="none"/><path d="M749.50 425.5H757.50M749.50 468.5H757.50" stroke="#0f8273" stroke-width="1.2" fill="none"/>
<path d="M773.50 418.0V463.0" stroke="#0f8273" stroke-width="1.3" fill="none"/><path d="M769.50 418.5H777.50M769.50 462.5H777.50" stroke="#0f8273" stroke-width="1.2" fill="none"/>
<path d="M803.50 409.0V453.0" stroke="#0f8273" stroke-width="1.3" fill="none"/><path d="M799.50 409.5H807.50M799.50 452.5H807.50" stroke="#0f8273" stroke-width="1.2" fill="none"/>
<path d="M823.50 399.0V443.0" stroke="#0f8273" stroke-width="1.3" fill="none"/><path d="M819.50 399.5H827.50M819.50 442.5H827.50" stroke="#0f8273" stroke-width="1.2" fill="none"/>
<path d="M839.50 390.0V435.0" stroke="#0f8273" stroke-width="1.3" fill="none"/><path d="M835.50 390.5H843.50M835.50 434.5H843.50" stroke="#0f8273" stroke-width="1.2" fill="none"/>
<path d="M853.50 383.0V427.0" stroke="#0f8273" stroke-width="1.3" fill="none"/><path d="M849.50 383.5H857.50M849.50 426.5H857.50" stroke="#0f8273" stroke-width="1.2" fill="none"/>
<path d="M864.50 377.0V421.0" stroke="#0f8273" stroke-width="1.3" fill="none"/><path d="M860.50 377.5H868.50M860.50 420.5H868.50" stroke="#0f8273" stroke-width="1.2" fill="none"/>
<path d="M873.50 371.0V415.0" stroke="#0f8273" stroke-width="1.3" fill="none"/><path d="M869.50 371.5H877.50M869.50 414.5H877.50" stroke="#0f8273" stroke-width="1.2" fill="none"/>
<path d="M889.50 362.0V406.0" stroke="#0f8273" stroke-width="1.3" fill="none"/><path d="M885.50 362.5H893.50M885.50 405.5H893.50" stroke="#0f8273" stroke-width="1.2" fill="none"/>
<path d="M919.50 345.0V389.0" stroke="#0f8273" stroke-width="1.3" fill="none"/><path d="M915.50 345.5H923.50M915.50 388.5H923.50" stroke="#0f8273" stroke-width="1.2" fill="none"/>
<path d="M939.50 333.0V377.0" stroke="#0f8273" stroke-width="1.3" fill="none"/><path d="M935.50 333.5H943.50M935.50 376.5H943.50" stroke="#0f8273" stroke-width="1.2" fill="none"/>
<path d="M969.50 314.0V358.0" stroke="#0f8273" stroke-width="1.3" fill="none"/><path d="M965.50 314.5H973.50M965.50 357.5H973.50" stroke="#0f8273" stroke-width="1.2" fill="none"/>
<path d="M989.50 301.0V345.0" stroke="#0f8273" stroke-width="1.3" fill="none"/><path d="M985.50 301.5H993.50M985.50 344.5H993.50" stroke="#0f8273" stroke-width="1.2" fill="none"/>
<path d="M1005.50 282.0V327.0" stroke="#0f8273" stroke-width="1.3" fill="none"/><path d="M1001.50 282.5H1009.50M1001.50 326.5H1009.50" stroke="#0f8273" stroke-width="1.2" fill="none"/>
<path d="M1018.50 274.0V319.0" stroke="#0f8273" stroke-width="1.3" fill="none"/><path d="M1014.50 274.5H1022.50M1014.50 318.5H1022.50" stroke="#0f8273" stroke-width="1.2" fill="none"/>
<path d="M1030.50 267.0V312.0" stroke="#0f8273" stroke-width="1.3" fill="none"/><path d="M1026.50 267.5H1034.50M1026.50 311.5H1034.50" stroke="#0f8273" stroke-width="1.2" fill="none"/>
<path d="M1039.50 260.0V305.0" stroke="#0f8273" stroke-width="1.3" fill="none"/><path d="M1035.50 260.5H1043.50M1035.50 304.5H1043.50" stroke="#0f8273" stroke-width="1.2" fill="none"/>
<path d="M1055.50 250.0V294.0" stroke="#0f8273" stroke-width="1.3" fill="none"/><path d="M1051.50 250.5H1059.50M1051.50 293.5H1059.50" stroke="#0f8273" stroke-width="1.2" fill="none"/>
<path d="M1085.50 229.0V274.0" stroke="#0f8273" stroke-width="1.3" fill="none"/><path d="M1081.50 229.5H1089.50M1081.50 273.5H1089.50" stroke="#0f8273" stroke-width="1.2" fill="none"/>
<path d="M1105.50 219.0V264.0" stroke="#0f8273" stroke-width="1.3" fill="none"/><path d="M1101.50 219.5H1109.50M1101.50 263.5H1109.50" stroke="#0f8273" stroke-width="1.2" fill="none"/>
<path d="M1134.50 203.0V248.0" stroke="#0f8273" stroke-width="1.3" fill="none"/><path d="M1130.50 203.5H1138.50M1130.50 247.5H1138.50" stroke="#0f8273" stroke-width="1.2" fill="none"/>
<path d="M1155.50 195.0V239.0" stroke="#0f8273" stroke-width="1.3" fill="none"/><path d="M1151.50 195.5H1159.50M1151.50 238.5H1159.50" stroke="#0f8273" stroke-width="1.2" fill="none"/>
<polygon points="229.2,408.6 229.2,419.8 219.7,414.2" fill="#0f8273"/>
<polygon points="258.4,431.7 258.4,442.9 248.9,437.3" fill="#0f8273"/>
<polygon points="279.2,444.1 279.2,455.3 269.7,449.7" fill="#0f8273"/>
<polygon points="308.4,457.6 308.4,468.8 298.9,463.2" fill="#0f8273"/>
<polygon points="329.1,462.9 329.1,474.1 319.6,468.5" fill="#0f8273"/>
<polygon points="345.2,464.7 345.2,475.9 335.7,470.3" fill="#0f8273"/>
<polygon points="358.3,465.4 358.3,476.6 348.8,471.0" fill="#0f8273"/>
<polygon points="369.5,465.9 369.5,477.1 360.0,471.5" fill="#0f8273"/>
<polygon points="379.1,466.2 379.1,477.4 369.6,471.8" fill="#0f8273"/>
<polygon points="395.2,466.5 395.2,477.7 385.7,472.1" fill="#0f8273"/>
<polygon points="424.4,466.6 424.4,477.8 414.9,472.2" fill="#0f8273"/>
<polygon points="445.1,466.6 445.1,477.8 435.6,472.2" fill="#0f8273"/>
<polygon points="474.3,466.3 474.3,477.5 464.8,471.9" fill="#0f8273"/>
<polygon points="495.1,465.5 495.1,476.7 485.6,471.1" fill="#0f8273"/>
<polygon points="511.2,464.6 511.2,475.8 501.7,470.2" fill="#0f8273"/>
<polygon points="524.3,464.3 524.3,475.5 514.8,469.9" fill="#0f8273"/>
<polygon points="535.4,463.9 535.4,475.1 525.9,469.5" fill="#0f8273"/>
<polygon points="545.0,463.5 545.0,474.7 535.5,469.1" fill="#0f8273"/>
<polygon points="561.1,462.8 561.1,474.0 551.6,468.4" fill="#0f8273"/>
<polygon points="590.3,460.9 590.3,472.1 580.8,466.5" fill="#0f8273"/>
<polygon points="611.1,459.8 611.1,471.0 601.6,465.4" fill="#0f8273"/>
<polygon points="640.3,457.2 640.3,468.4 630.8,462.8" fill="#0f8273"/>
<polygon points="661.0,454.5 661.0,465.7 651.5,460.1" fill="#0f8273"/>
<polygon points="677.1,451.7 677.1,462.9 667.6,457.3" fill="#0f8273"/>
<polygon points="690.3,450.1 690.3,461.3 680.8,455.7" fill="#0f8273"/>
<polygon points="701.4,447.9 701.4,459.1 691.9,453.5" fill="#0f8273"/>
<polygon points="711.0,445.7 711.0,456.9 701.5,451.3" fill="#0f8273"/>
<polygon points="727.1,443.1 727.1,454.3 717.6,448.7" fill="#0f8273"/>
<polygon points="756.3,436.9 756.3,448.1 746.8,442.5" fill="#0f8273"/>
<polygon points="777.0,430.8 777.0,442.0 767.5,436.4" fill="#0f8273"/>
<polygon points="806.3,420.9 806.3,432.1 796.8,426.5" fill="#0f8273"/>
<polygon points="827.0,411.0 827.0,422.2 817.5,416.6" fill="#0f8273"/>
<polygon points="843.1,402.8 843.1,414.0 833.6,408.4" fill="#0f8273"/>
<polygon points="856.2,395.1 856.2,406.3 846.7,400.7" fill="#0f8273"/>
<polygon points="867.3,389.0 867.3,400.2 857.8,394.6" fill="#0f8273"/>
<polygon points="877.0,383.0 877.0,394.2 867.5,388.6" fill="#0f8273"/>
<polygon points="893.0,374.2 893.0,385.4 883.5,379.8" fill="#0f8273"/>
<polygon points="922.3,357.0 922.3,368.2 912.8,362.6" fill="#0f8273"/>
<polygon points="943.0,345.1 943.0,356.3 933.5,350.7" fill="#0f8273"/>
<polygon points="972.2,326.1 972.2,337.3 962.7,331.7" fill="#0f8273"/>
<polygon points="993.0,313.3 993.0,324.5 983.5,318.9" fill="#0f8273"/>
<polygon points="1009.0,294.4 1009.0,305.6 999.5,300.0" fill="#0f8273"/>
<polygon points="1022.2,286.7 1022.2,297.9 1012.7,292.3" fill="#0f8273"/>
<polygon points="1033.3,279.6 1033.3,290.8 1023.8,285.2" fill="#0f8273"/>
<polygon points="1042.9,272.8 1042.9,284.0 1033.4,278.4" fill="#0f8273"/>
<polygon points="1059.0,262.0 1059.0,273.2 1049.5,267.6" fill="#0f8273"/>
<polygon points="1088.2,241.6 1088.2,252.8 1078.7,247.2" fill="#0f8273"/>
<polygon points="1109.0,231.7 1109.0,242.9 1099.5,237.3" fill="#0f8273"/>
<polygon points="1138.2,215.7 1138.2,226.9 1128.7,221.3" fill="#0f8273"/>
<polygon points="1158.9,206.9 1158.9,218.1 1149.4,212.5" fill="#0f8273"/>
</g>
<g>
<path d="M226.50 415.0V459.0" stroke="#0a640a" stroke-width="1.3" fill="none"/><path d="M222.50 415.5H230.50M222.50 458.5H230.50" stroke="#0a640a" stroke-width="1.2" fill="none"/>
<path d="M255.50 419.0V463.0" stroke="#0a640a" stroke-width="1.3" fill="none"/><path d="M251.50 419.5H259.50M251.50 462.5H259.50" stroke="#0a640a" stroke-width="1.2" fill="none"/>
<path d="M275.50 419.0V463.0" stroke="#0a640a" stroke-width="1.3" fill="none"/><path d="M271.50 419.5H279.50M271.50 462.5H279.50" stroke="#0a640a" stroke-width="1.2" fill="none"/>
<path d="M305.50 418.0V462.0" stroke="#0a640a" stroke-width="1.3" fill="none"/><path d="M301.50 418.5H309.50M301.50 461.5H309.50" stroke="#0a640a" stroke-width="1.2" fill="none"/>
<path d="M325.50 415.0V459.0" stroke="#0a640a" stroke-width="1.3" fill="none"/><path d="M321.50 415.5H329.50M321.50 458.5H329.50" stroke="#0a640a" stroke-width="1.2" fill="none"/>
<path d="M342.50 413.0V458.0" stroke="#0a640a" stroke-width="1.3" fill="none"/><path d="M338.50 413.5H346.50M338.50 457.5H346.50" stroke="#0a640a" stroke-width="1.2" fill="none"/>
<path d="M355.50 411.0V456.0" stroke="#0a640a" stroke-width="1.3" fill="none"/><path d="M351.50 411.5H359.50M351.50 455.5H359.50" stroke="#0a640a" stroke-width="1.2" fill="none"/>
<path d="M366.50 410.0V455.0" stroke="#0a640a" stroke-width="1.3" fill="none"/><path d="M362.50 410.5H370.50M362.50 454.5H370.50" stroke="#0a640a" stroke-width="1.2" fill="none"/>
<path d="M375.50 409.0V453.0" stroke="#0a640a" stroke-width="1.3" fill="none"/><path d="M371.50 409.5H379.50M371.50 452.5H379.50" stroke="#0a640a" stroke-width="1.2" fill="none"/>
<path d="M391.50 403.0V448.0" stroke="#0a640a" stroke-width="1.3" fill="none"/><path d="M387.50 403.5H395.50M387.50 447.5H395.50" stroke="#0a640a" stroke-width="1.2" fill="none"/>
<path d="M421.50 398.0V442.0" stroke="#0a640a" stroke-width="1.3" fill="none"/><path d="M417.50 398.5H425.50M417.50 441.5H425.50" stroke="#0a640a" stroke-width="1.2" fill="none"/>
<path d="M441.50 395.0V439.0" stroke="#0a640a" stroke-width="1.3" fill="none"/><path d="M437.50 395.5H445.50M437.50 438.5H445.50" stroke="#0a640a" stroke-width="1.2" fill="none"/>
<path d="M471.50 390.0V434.0" stroke="#0a640a" stroke-width="1.3" fill="none"/><path d="M467.50 390.5H475.50M467.50 433.5H475.50" stroke="#0a640a" stroke-width="1.2" fill="none"/>
<path d="M491.50 386.0V430.0" stroke="#0a640a" stroke-width="1.3" fill="none"/><path d="M487.50 386.5H495.50M487.50 429.5H495.50" stroke="#0a640a" stroke-width="1.2" fill="none"/>
<path d="M507.50 383.0V427.0" stroke="#0a640a" stroke-width="1.3" fill="none"/><path d="M503.50 383.5H511.50M503.50 426.5H511.50" stroke="#0a640a" stroke-width="1.2" fill="none"/>
<path d="M521.50 380.0V425.0" stroke="#0a640a" stroke-width="1.3" fill="none"/><path d="M517.50 380.5H525.50M517.50 424.5H525.50" stroke="#0a640a" stroke-width="1.2" fill="none"/>
<path d="M532.50 378.0V423.0" stroke="#0a640a" stroke-width="1.3" fill="none"/><path d="M528.50 378.5H536.50M528.50 422.5H536.50" stroke="#0a640a" stroke-width="1.2" fill="none"/>
<path d="M541.50 376.0V421.0" stroke="#0a640a" stroke-width="1.3" fill="none"/><path d="M537.50 376.5H545.50M537.50 420.5H545.50" stroke="#0a640a" stroke-width="1.2" fill="none"/>
<path d="M557.50 373.0V418.0" stroke="#0a640a" stroke-width="1.3" fill="none"/><path d="M553.50 373.5H561.50M553.50 417.5H561.50" stroke="#0a640a" stroke-width="1.2" fill="none"/>
<path d="M587.50 368.0V412.0" stroke="#0a640a" stroke-width="1.3" fill="none"/><path d="M583.50 368.5H591.50M583.50 411.5H591.50" stroke="#0a640a" stroke-width="1.2" fill="none"/>
<path d="M607.50 362.0V407.0" stroke="#0a640a" stroke-width="1.3" fill="none"/><path d="M603.50 362.5H611.50M603.50 406.5H611.50" stroke="#0a640a" stroke-width="1.2" fill="none"/>
<path d="M637.50 357.0V402.0" stroke="#0a640a" stroke-width="1.3" fill="none"/><path d="M633.50 357.5H641.50M633.50 401.5H641.50" stroke="#0a640a" stroke-width="1.2" fill="none"/>
<path d="M657.50 352.0V397.0" stroke="#0a640a" stroke-width="1.3" fill="none"/><path d="M653.50 352.5H661.50M653.50 396.5H661.50" stroke="#0a640a" stroke-width="1.2" fill="none"/>
<path d="M673.50 350.0V395.0" stroke="#0a640a" stroke-width="1.3" fill="none"/><path d="M669.50 350.5H677.50M669.50 394.5H677.50" stroke="#0a640a" stroke-width="1.2" fill="none"/>
<path d="M687.50 347.0V391.0" stroke="#0a640a" stroke-width="1.3" fill="none"/><path d="M683.50 347.5H691.50M683.50 390.5H691.50" stroke="#0a640a" stroke-width="1.2" fill="none"/>
<path d="M698.50 344.0V389.0" stroke="#0a640a" stroke-width="1.3" fill="none"/><path d="M694.50 344.5H702.50M694.50 388.5H702.50" stroke="#0a640a" stroke-width="1.2" fill="none"/>
<path d="M707.50 342.0V387.0" stroke="#0a640a" stroke-width="1.3" fill="none"/><path d="M703.50 342.5H711.50M703.50 386.5H711.50" stroke="#0a640a" stroke-width="1.2" fill="none"/>
<path d="M723.50 339.0V383.0" stroke="#0a640a" stroke-width="1.3" fill="none"/><path d="M719.50 339.5H727.50M719.50 382.5H727.50" stroke="#0a640a" stroke-width="1.2" fill="none"/>
<path d="M753.50 332.0V377.0" stroke="#0a640a" stroke-width="1.3" fill="none"/><path d="M749.50 332.5H757.50M749.50 376.5H757.50" stroke="#0a640a" stroke-width="1.2" fill="none"/>
<path d="M773.50 325.0V370.0" stroke="#0a640a" stroke-width="1.3" fill="none"/><path d="M769.50 325.5H777.50M769.50 369.5H777.50" stroke="#0a640a" stroke-width="1.2" fill="none"/>
<path d="M803.50 316.0V360.0" stroke="#0a640a" stroke-width="1.3" fill="none"/><path d="M799.50 316.5H807.50M799.50 359.5H807.50" stroke="#0a640a" stroke-width="1.2" fill="none"/>
<path d="M823.50 310.0V354.0" stroke="#0a640a" stroke-width="1.3" fill="none"/><path d="M819.50 310.5H827.50M819.50 353.5H827.50" stroke="#0a640a" stroke-width="1.2" fill="none"/>
<path d="M839.50 305.0V349.0" stroke="#0a640a" stroke-width="1.3" fill="none"/><path d="M835.50 305.5H843.50M835.50 348.5H843.50" stroke="#0a640a" stroke-width="1.2" fill="none"/>
<path d="M853.50 301.0V345.0" stroke="#0a640a" stroke-width="1.3" fill="none"/><path d="M849.50 301.5H857.50M849.50 344.5H857.50" stroke="#0a640a" stroke-width="1.2" fill="none"/>
<path d="M864.50 297.0V342.0" stroke="#0a640a" stroke-width="1.3" fill="none"/><path d="M860.50 297.5H868.50M860.50 341.5H868.50" stroke="#0a640a" stroke-width="1.2" fill="none"/>
<path d="M873.50 294.0V338.0" stroke="#0a640a" stroke-width="1.3" fill="none"/><path d="M869.50 294.5H877.50M869.50 337.5H877.50" stroke="#0a640a" stroke-width="1.2" fill="none"/>
<path d="M889.50 289.0V333.0" stroke="#0a640a" stroke-width="1.3" fill="none"/><path d="M885.50 289.5H893.50M885.50 332.5H893.50" stroke="#0a640a" stroke-width="1.2" fill="none"/>
<path d="M919.50 278.0V323.0" stroke="#0a640a" stroke-width="1.3" fill="none"/><path d="M915.50 278.5H923.50M915.50 322.5H923.50" stroke="#0a640a" stroke-width="1.2" fill="none"/>
<path d="M939.50 270.0V314.0" stroke="#0a640a" stroke-width="1.3" fill="none"/><path d="M935.50 270.5H943.50M935.50 313.5H943.50" stroke="#0a640a" stroke-width="1.2" fill="none"/>
<path d="M969.50 253.0V298.0" stroke="#0a640a" stroke-width="1.3" fill="none"/><path d="M965.50 253.5H973.50M965.50 297.5H973.50" stroke="#0a640a" stroke-width="1.2" fill="none"/>
<path d="M989.50 247.0V291.0" stroke="#0a640a" stroke-width="1.3" fill="none"/><path d="M985.50 247.5H993.50M985.50 290.5H993.50" stroke="#0a640a" stroke-width="1.2" fill="none"/>
<path d="M1005.50 240.0V284.0" stroke="#0a640a" stroke-width="1.3" fill="none"/><path d="M1001.50 240.5H1009.50M1001.50 283.5H1009.50" stroke="#0a640a" stroke-width="1.2" fill="none"/>
<path d="M1018.50 235.0V279.0" stroke="#0a640a" stroke-width="1.3" fill="none"/><path d="M1014.50 235.5H1022.50M1014.50 278.5H1022.50" stroke="#0a640a" stroke-width="1.2" fill="none"/>
<path d="M1030.50 229.0V274.0" stroke="#0a640a" stroke-width="1.3" fill="none"/><path d="M1026.50 229.5H1034.50M1026.50 273.5H1034.50" stroke="#0a640a" stroke-width="1.2" fill="none"/>
<path d="M1039.50 225.0V269.0" stroke="#0a640a" stroke-width="1.3" fill="none"/><path d="M1035.50 225.5H1043.50M1035.50 268.5H1043.50" stroke="#0a640a" stroke-width="1.2" fill="none"/>
<path d="M1055.50 216.0V261.0" stroke="#0a640a" stroke-width="1.3" fill="none"/><path d="M1051.50 216.5H1059.50M1051.50 260.5H1059.50" stroke="#0a640a" stroke-width="1.2" fill="none"/>
<path d="M1085.50 201.0V246.0" stroke="#0a640a" stroke-width="1.3" fill="none"/><path d="M1081.50 201.5H1089.50M1081.50 245.5H1089.50" stroke="#0a640a" stroke-width="1.2" fill="none"/>
<path d="M1105.50 192.0V237.0" stroke="#0a640a" stroke-width="1.3" fill="none"/><path d="M1101.50 192.5H1109.50M1101.50 236.5H1109.50" stroke="#0a640a" stroke-width="1.2" fill="none"/>
<path d="M1134.50 178.0V223.0" stroke="#0a640a" stroke-width="1.3" fill="none"/><path d="M1130.50 178.5H1138.50M1130.50 222.5H1138.50" stroke="#0a640a" stroke-width="1.2" fill="none"/>
<path d="M1155.50 169.0V214.0" stroke="#0a640a" stroke-width="1.3" fill="none"/><path d="M1151.50 169.5H1159.50M1151.50 213.5H1159.50" stroke="#0a640a" stroke-width="1.2" fill="none"/>
<polygon points="226.0,427.8 227.4,430.4 230.4,430.3 228.9,432.9 230.4,435.4 227.4,435.4 226.0,438.0 224.6,435.4 221.6,435.4 223.1,432.9 221.6,430.3 224.6,430.4" fill="#0a640a"/>
<polygon points="255.2,431.7 256.7,434.3 259.6,434.2 258.1,436.8 259.6,439.4 256.7,439.3 255.2,441.9 253.8,439.3 250.8,439.4 252.3,436.8 250.8,434.2 253.8,434.3" fill="#0a640a"/>
<polygon points="276.0,431.7 277.4,434.3 280.4,434.2 278.9,436.8 280.4,439.4 277.4,439.3 276.0,441.9 274.5,439.3 271.5,439.4 273.1,436.8 271.5,434.2 274.5,434.3" fill="#0a640a"/>
<polygon points="305.2,430.6 306.6,433.2 309.6,433.1 308.1,435.7 309.6,438.2 306.6,438.2 305.2,440.8 303.7,438.2 300.8,438.2 302.3,435.7 300.8,433.1 303.7,433.2" fill="#0a640a"/>
<polygon points="325.9,427.8 327.4,430.4 330.3,430.3 328.8,432.9 330.3,435.4 327.4,435.4 325.9,438.0 324.5,435.4 321.5,435.4 323.0,432.9 321.5,430.3 324.5,430.4" fill="#0a640a"/>
<polygon points="342.0,426.2 343.5,428.8 346.4,428.8 344.9,431.3 346.4,433.9 343.5,433.8 342.0,436.4 340.6,433.8 337.6,433.9 339.1,431.3 337.6,428.8 340.6,428.8" fill="#0a640a"/>
<polygon points="355.1,423.9 356.6,426.5 359.6,426.4 358.0,429.0 359.6,431.6 356.6,431.5 355.1,434.1 353.7,431.5 350.7,431.6 352.2,429.0 350.7,426.4 353.7,426.5" fill="#0a640a"/>
<polygon points="366.3,422.9 367.7,425.5 370.7,425.4 369.2,428.0 370.7,430.6 367.7,430.5 366.3,433.1 364.8,430.5 361.8,430.6 363.4,428.0 361.8,425.4 364.8,425.5" fill="#0a640a"/>
<polygon points="375.9,421.4 377.3,424.0 380.3,423.9 378.8,426.5 380.3,429.1 377.3,429.0 375.9,431.6 374.4,429.0 371.5,429.1 373.0,426.5 371.5,423.9 374.4,424.0" fill="#0a640a"/>
<polygon points="392.0,416.3 393.4,418.9 396.4,418.8 394.9,421.4 396.4,423.9 393.4,423.9 392.0,426.5 390.5,423.9 387.5,423.9 389.1,421.4 387.5,418.8 390.5,418.9" fill="#0a640a"/>
<polygon points="421.2,410.8 422.6,413.4 425.6,413.3 424.1,415.9 425.6,418.4 422.6,418.4 421.2,421.0 419.7,418.4 416.8,418.4 418.3,415.9 416.8,413.3 419.7,413.4" fill="#0a640a"/>
<polygon points="441.9,407.5 443.4,410.1 446.3,410.1 444.8,412.6 446.3,415.2 443.4,415.1 441.9,417.7 440.5,415.1 437.5,415.2 439.0,412.6 437.5,410.1 440.5,410.1" fill="#0a640a"/>
<polygon points="471.1,402.5 472.6,405.1 475.6,405.1 474.0,407.6 475.6,410.2 472.6,410.1 471.1,412.7 469.7,410.1 466.7,410.2 468.2,407.6 466.7,405.1 469.7,405.1" fill="#0a640a"/>
<polygon points="491.9,398.7 493.3,401.3 496.3,401.2 494.8,403.8 496.3,406.4 493.3,406.3 491.9,408.9 490.4,406.3 487.5,406.4 489.0,403.8 487.5,401.2 490.4,401.3" fill="#0a640a"/>
<polygon points="508.0,395.6 509.4,398.2 512.4,398.1 510.9,400.7 512.4,403.2 509.4,403.2 508.0,405.8 506.5,403.2 503.5,403.2 505.1,400.7 503.5,398.1 506.5,398.2" fill="#0a640a"/>
<polygon points="521.1,393.2 522.6,395.8 525.5,395.8 524.0,398.3 525.5,400.9 522.6,400.8 521.1,403.4 519.7,400.8 516.7,400.9 518.2,398.3 516.7,395.8 519.7,395.8" fill="#0a640a"/>
<polygon points="532.2,391.0 533.7,393.6 536.6,393.6 535.1,396.1 536.6,398.7 533.7,398.6 532.2,401.2 530.8,398.6 527.8,398.7 529.3,396.1 527.8,393.6 530.8,393.6" fill="#0a640a"/>
<polygon points="541.8,389.3 543.3,391.9 546.3,391.8 544.7,394.4 546.3,396.9 543.3,396.9 541.8,399.5 540.4,396.9 537.4,396.9 538.9,394.4 537.4,391.8 540.4,391.9" fill="#0a640a"/>
<polygon points="557.9,386.1 559.4,388.7 562.3,388.6 560.8,391.2 562.3,393.8 559.4,393.7 557.9,396.3 556.5,393.7 553.5,393.8 555.0,391.2 553.5,388.6 556.5,388.7" fill="#0a640a"/>
<polygon points="587.1,380.8 588.6,383.4 591.6,383.3 590.0,385.9 591.6,388.4 588.6,388.4 587.1,391.0 585.7,388.4 582.7,388.4 584.2,385.9 582.7,383.3 585.7,383.4" fill="#0a640a"/>
<polygon points="607.9,374.9 609.3,377.5 612.3,377.4 610.8,380.0 612.3,382.6 609.3,382.5 607.9,385.1 606.4,382.5 603.5,382.6 605.0,380.0 603.5,377.4 606.4,377.5" fill="#0a640a"/>
<polygon points="637.1,370.1 638.6,372.7 641.5,372.6 640.0,375.2 641.5,377.8 638.6,377.7 637.1,380.3 635.7,377.7 632.7,377.8 634.2,375.2 632.7,372.6 635.7,372.7" fill="#0a640a"/>
<polygon points="657.8,364.9 659.3,367.5 662.3,367.4 660.7,370.0 662.3,372.6 659.3,372.5 657.8,375.1 656.4,372.5 653.4,372.6 654.9,370.0 653.4,367.4 656.4,367.5" fill="#0a640a"/>
<polygon points="673.9,363.3 675.4,365.9 678.3,365.8 676.8,368.4 678.3,370.9 675.4,370.9 673.9,373.5 672.5,370.9 669.5,370.9 671.0,368.4 669.5,365.8 672.5,365.9" fill="#0a640a"/>
<polygon points="687.1,359.4 688.5,362.0 691.5,361.9 690.0,364.5 691.5,367.1 688.5,367.0 687.1,369.6 685.6,367.0 682.6,367.1 684.2,364.5 682.6,361.9 685.6,362.0" fill="#0a640a"/>
<polygon points="698.2,356.9 699.6,359.5 702.6,359.4 701.1,362.0 702.6,364.6 699.6,364.5 698.2,367.1 696.7,364.5 693.8,364.6 695.3,362.0 693.8,359.4 696.7,359.5" fill="#0a640a"/>
<polygon points="707.8,355.2 709.2,357.8 712.2,357.8 710.7,360.3 712.2,362.9 709.2,362.8 707.8,365.4 706.3,362.8 703.4,362.9 704.9,360.3 703.4,357.8 706.3,357.8" fill="#0a640a"/>
<polygon points="723.9,351.5 725.3,354.1 728.3,354.1 726.8,356.6 728.3,359.2 725.3,359.1 723.9,361.7 722.4,359.1 719.5,359.2 721.0,356.6 719.5,354.1 722.4,354.1" fill="#0a640a"/>
<polygon points="753.1,345.3 754.6,347.9 757.5,347.8 756.0,350.4 757.5,352.9 754.6,352.9 753.1,355.5 751.7,352.9 748.7,352.9 750.2,350.4 748.7,347.8 751.7,347.9" fill="#0a640a"/>
<polygon points="773.8,338.1 775.3,340.7 778.3,340.6 776.7,343.2 778.3,345.8 775.3,345.7 773.8,348.3 772.4,345.7 769.4,345.8 770.9,343.2 769.4,340.6 772.4,340.7" fill="#0a640a"/>
<polygon points="803.1,328.8 804.5,331.4 807.5,331.3 806.0,333.9 807.5,336.4 804.5,336.4 803.1,339.0 801.6,336.4 798.6,336.4 800.2,333.9 798.6,331.3 801.6,331.4" fill="#0a640a"/>
<polygon points="823.8,322.7 825.2,325.3 828.2,325.2 826.7,327.8 828.2,330.4 825.2,330.3 823.8,332.9 822.3,330.3 819.4,330.4 820.9,327.8 819.4,325.2 822.3,325.3" fill="#0a640a"/>
<polygon points="839.9,317.8 841.3,320.4 844.3,320.3 842.8,322.9 844.3,325.4 841.3,325.4 839.9,328.0 838.4,325.4 835.5,325.4 837.0,322.9 835.5,320.3 838.4,320.4" fill="#0a640a"/>
<polygon points="853.0,313.4 854.5,316.0 857.4,315.9 855.9,318.5 857.4,321.1 854.5,321.0 853.0,323.6 851.6,321.0 848.6,321.1 850.1,318.5 848.6,315.9 851.6,316.0" fill="#0a640a"/>
<polygon points="864.1,310.1 865.6,312.7 868.5,312.6 867.0,315.2 868.5,317.8 865.6,317.7 864.1,320.3 862.7,317.7 859.7,317.8 861.2,315.2 859.7,312.6 862.7,312.7" fill="#0a640a"/>
<polygon points="873.8,306.8 875.2,309.4 878.2,309.3 876.7,311.9 878.2,314.4 875.2,314.4 873.8,317.0 872.3,314.4 869.3,314.4 870.9,311.9 869.3,309.3 872.3,309.4" fill="#0a640a"/>
<polygon points="889.8,301.4 891.3,304.0 894.3,303.9 892.7,306.5 894.3,309.1 891.3,309.0 889.8,311.6 888.4,309.0 885.4,309.1 886.9,306.5 885.4,303.9 888.4,304.0" fill="#0a640a"/>
<polygon points="919.1,291.1 920.5,293.7 923.5,293.6 922.0,296.2 923.5,298.8 920.5,298.7 919.1,301.3 917.6,298.7 914.6,298.8 916.2,296.2 914.6,293.6 917.6,293.7" fill="#0a640a"/>
<polygon points="939.8,282.8 941.2,285.4 944.2,285.3 942.7,287.9 944.2,290.4 941.2,290.4 939.8,293.0 938.3,290.4 935.4,290.4 936.9,287.9 935.4,285.3 938.3,285.4" fill="#0a640a"/>
<polygon points="969.0,265.9 970.5,268.5 973.4,268.4 971.9,271.0 973.4,273.6 970.5,273.5 969.0,276.1 967.6,273.5 964.6,273.6 966.1,271.0 964.6,268.4 967.6,268.5" fill="#0a640a"/>
<polygon points="989.8,259.4 991.2,262.0 994.2,261.9 992.7,264.5 994.2,267.1 991.2,267.0 989.8,269.6 988.3,267.0 985.3,267.1 986.9,264.5 985.3,261.9 988.3,262.0" fill="#0a640a"/>
<polygon points="1005.8,252.5 1007.3,255.1 1010.3,255.1 1008.7,257.6 1010.3,260.2 1007.3,260.1 1005.8,262.7 1004.4,260.1 1001.4,260.2 1002.9,257.6 1001.4,255.1 1004.4,255.1" fill="#0a640a"/>
<polygon points="1019.0,247.6 1020.4,250.2 1023.4,250.1 1021.9,252.7 1023.4,255.2 1020.4,255.2 1019.0,257.8 1017.5,255.2 1014.6,255.2 1016.1,252.7 1014.6,250.1 1017.5,250.2" fill="#0a640a"/>
<polygon points="1030.1,242.1 1031.5,244.7 1034.5,244.6 1033.0,247.2 1034.5,249.8 1031.5,249.7 1030.1,252.3 1028.6,249.7 1025.7,249.8 1027.2,247.2 1025.7,244.6 1028.6,244.7" fill="#0a640a"/>
<polygon points="1039.7,237.7 1041.2,240.3 1044.1,240.2 1042.6,242.8 1044.1,245.4 1041.2,245.3 1039.7,247.9 1038.3,245.3 1035.3,245.4 1036.8,242.8 1035.3,240.2 1038.3,240.3" fill="#0a640a"/>
<polygon points="1055.8,229.1 1057.3,231.7 1060.2,231.6 1058.7,234.2 1060.2,236.8 1057.3,236.7 1055.8,239.3 1054.4,236.7 1051.4,236.8 1052.9,234.2 1051.4,231.6 1054.4,231.7" fill="#0a640a"/>
<polygon points="1085.0,214.0 1086.5,216.6 1089.4,216.5 1087.9,219.1 1089.4,221.7 1086.5,221.6 1085.0,224.2 1083.6,221.6 1080.6,221.7 1082.1,219.1 1080.6,216.5 1083.6,216.6" fill="#0a640a"/>
<polygon points="1105.8,204.9 1107.2,207.5 1110.2,207.4 1108.7,210.0 1110.2,212.6 1107.2,212.5 1105.8,215.1 1104.3,212.5 1101.3,212.6 1102.9,210.0 1101.3,207.4 1104.3,207.5" fill="#0a640a"/>
<polygon points="1135.0,191.3 1136.4,193.9 1139.4,193.8 1137.9,196.4 1139.4,199.0 1136.4,198.9 1135.0,201.5 1133.5,198.9 1130.6,199.0 1132.1,196.4 1130.6,193.8 1133.5,193.9" fill="#0a640a"/>
<polygon points="1155.7,182.2 1157.2,184.8 1160.1,184.8 1158.6,187.3 1160.1,189.9 1157.2,189.8 1155.7,192.4 1154.3,189.8 1151.3,189.9 1152.8,187.3 1151.3,184.8 1154.3,184.8" fill="#0a640a"/>
</g>
<g>
<path d="M226.50 380.0V424.0" stroke="#d488fb" stroke-width="1.3" fill="none"/><path d="M222.50 380.5H230.50M222.50 423.5H230.50" stroke="#d488fb" stroke-width="1.2" fill="none"/>
<path d="M255.50 400.0V445.0" stroke="#d488fb" stroke-width="1.3" fill="none"/><path d="M251.50 400.5H259.50M251.50 444.5H259.50" stroke="#d488fb" stroke-width="1.2" fill="none"/>
<path d="M275.50 405.0V450.0" stroke="#d488fb" stroke-width="1.3" fill="none"/><path d="M271.50 405.5H279.50M271.50 449.5H279.50" stroke="#d488fb" stroke-width="1.2" fill="none"/>
<path d="M305.50 409.0V454.0" stroke="#d488fb" stroke-width="1.3" fill="none"/><path d="M301.50 409.5H309.50M301.50 453.5H309.50" stroke="#d488fb" stroke-width="1.2" fill="none"/>
<path d="M325.50 410.0V454.0" stroke="#d488fb" stroke-width="1.3" fill="none"/><path d="M321.50 410.5H329.50M321.50 453.5H329.50" stroke="#d488fb" stroke-width="1.2" fill="none"/>
<path d="M342.50 409.0V454.0" stroke="#d488fb" stroke-width="1.3" fill="none"/><path d="M338.50 409.5H346.50M338.50 453.5H346.50" stroke="#d488fb" stroke-width="1.2" fill="none"/>
<path d="M355.50 409.0V453.0" stroke="#d488fb" stroke-width="1.3" fill="none"/><path d="M351.50 409.5H359.50M351.50 452.5H359.50" stroke="#d488fb" stroke-width="1.2" fill="none"/>
<path d="M366.50 408.0V453.0" stroke="#d488fb" stroke-width="1.3" fill="none"/><path d="M362.50 408.5H370.50M362.50 452.5H370.50" stroke="#d488fb" stroke-width="1.2" fill="none"/>
<path d="M375.50 408.0V452.0" stroke="#d488fb" stroke-width="1.3" fill="none"/><path d="M371.50 408.5H379.50M371.50 451.5H379.50" stroke="#d488fb" stroke-width="1.2" fill="none"/>
<path d="M391.50 406.0V451.0" stroke="#d488fb" stroke-width="1.3" fill="none"/><path d="M387.50 406.5H395.50M387.50 450.5H395.50" stroke="#d488fb" stroke-width="1.2" fill="none"/>
<path d="M421.50 403.0V447.0" stroke="#d488fb" stroke-width="1.3" fill="none"/><path d="M417.50 403.5H425.50M417.50 446.5H425.50" stroke="#d488fb" stroke-width="1.2" fill="none"/>
<path d="M441.50 400.0V445.0" stroke="#d488fb" stroke-width="1.3" fill="none"/><path d="M437.50 400.5H445.50M437.50 444.5H445.50" stroke="#d488fb" stroke-width="1.2" fill="none"/>
<path d="M471.50 395.0V440.0" stroke="#d488fb" stroke-width="1.3" fill="none"/><path d="M467.50 395.5H475.50M467.50 439.5H475.50" stroke="#d488fb" stroke-width="1.2" fill="none"/>
<path d="M491.50 392.0V437.0" stroke="#d488fb" stroke-width="1.3" fill="none"/><path d="M487.50 392.5H495.50M487.50 436.5H495.50" stroke="#d488fb" stroke-width="1.2" fill="none"/>
<path d="M507.50 389.0V433.0" stroke="#d488fb" stroke-width="1.3" fill="none"/><path d="M503.50 389.5H511.50M503.50 432.5H511.50" stroke="#d488fb" stroke-width="1.2" fill="none"/>
<path d="M521.50 387.0V431.0" stroke="#d488fb" stroke-width="1.3" fill="none"/><path d="M517.50 387.5H525.50M517.50 430.5H525.50" stroke="#d488fb" stroke-width="1.2" fill="none"/>
<path d="M532.50 385.0V429.0" stroke="#d488fb" stroke-width="1.3" fill="none"/><path d="M528.50 385.5H536.50M528.50 428.5H536.50" stroke="#d488fb" stroke-width="1.2" fill="none"/>
<path d="M541.50 383.0V428.0" stroke="#d488fb" stroke-width="1.3" fill="none"/><path d="M537.50 383.5H545.50M537.50 427.5H545.50" stroke="#d488fb" stroke-width="1.2" fill="none"/>
<path d="M557.50 381.0V425.0" stroke="#d488fb" stroke-width="1.3" fill="none"/><path d="M553.50 381.5H561.50M553.50 424.5H561.50" stroke="#d488fb" stroke-width="1.2" fill="none"/>
<path d="M587.50 376.0V420.0" stroke="#d488fb" stroke-width="1.3" fill="none"/><path d="M583.50 376.5H591.50M583.50 419.5H591.50" stroke="#d488fb" stroke-width="1.2" fill="none"/>
<path d="M607.50 372.0V416.0" stroke="#d488fb" stroke-width="1.3" fill="none"/><path d="M603.50 372.5H611.50M603.50 415.5H611.50" stroke="#d488fb" stroke-width="1.2" fill="none"/>
<path d="M637.50 366.0V411.0" stroke="#d488fb" stroke-width="1.3" fill="none"/><path d="M633.50 366.5H641.50M633.50 410.5H641.50" stroke="#d488fb" stroke-width="1.2" fill="none"/>
<path d="M657.50 360.0V405.0" stroke="#d488fb" stroke-width="1.3" fill="none"/><path d="M653.50 360.5H661.50M653.50 404.5H661.50" stroke="#d488fb" stroke-width="1.2" fill="none"/>
<path d="M673.50 357.0V402.0" stroke="#d488fb" stroke-width="1.3" fill="none"/><path d="M669.50 357.5H677.50M669.50 401.5H677.50" stroke="#d488fb" stroke-width="1.2" fill="none"/>
<path d="M687.50 354.0V399.0" stroke="#d488fb" stroke-width="1.3" fill="none"/><path d="M683.50 354.5H691.50M683.50 398.5H691.50" stroke="#d488fb" stroke-width="1.2" fill="none"/>
<path d="M698.50 351.0V396.0" stroke="#d488fb" stroke-width="1.3" fill="none"/><path d="M694.50 351.5H702.50M694.50 395.5H702.50" stroke="#d488fb" stroke-width="1.2" fill="none"/>
<path d="M707.50 349.0V394.0" stroke="#d488fb" stroke-width="1.3" fill="none"/><path d="M703.50 349.5H711.50M703.50 393.5H711.50" stroke="#d488fb" stroke-width="1.2" fill="none"/>
<path d="M723.50 345.0V390.0" stroke="#d488fb" stroke-width="1.3" fill="none"/><path d="M719.50 345.5H727.50M719.50 389.5H727.50" stroke="#d488fb" stroke-width="1.2" fill="none"/>
<path d="M753.50 338.0V383.0" stroke="#d488fb" stroke-width="1.3" fill="none"/><path d="M749.50 338.5H757.50M749.50 382.5H757.50" stroke="#d488fb" stroke-width="1.2" fill="none"/>
<path d="M773.50 331.0V376.0" stroke="#d488fb" stroke-width="1.3" fill="none"/><path d="M769.50 331.5H777.50M769.50 375.5H777.50" stroke="#d488fb" stroke-width="1.2" fill="none"/>
<path d="M803.50 324.0V369.0" stroke="#d488fb" stroke-width="1.3" fill="none"/><path d="M799.50 324.5H807.50M799.50 368.5H807.50" stroke="#d488fb" stroke-width="1.2" fill="none"/>
<path d="M823.50 318.0V362.0" stroke="#d488fb" stroke-width="1.3" fill="none"/><path d="M819.50 318.5H827.50M819.50 361.5H827.50" stroke="#d488fb" stroke-width="1.2" fill="none"/>
<path d="M839.50 313.0V358.0" stroke="#d488fb" stroke-width="1.3" fill="none"/><path d="M835.50 313.5H843.50M835.50 357.5H843.50" stroke="#d488fb" stroke-width="1.2" fill="none"/>
<path d="M853.50 308.0V352.0" stroke="#d488fb" stroke-width="1.3" fill="none"/><path d="M849.50 308.5H857.50M849.50 351.5H857.50" stroke="#d488fb" stroke-width="1.2" fill="none"/>
<path d="M864.50 305.0V349.0" stroke="#d488fb" stroke-width="1.3" fill="none"/><path d="M860.50 305.5H868.50M860.50 348.5H868.50" stroke="#d488fb" stroke-width="1.2" fill="none"/>
<path d="M873.50 302.0V346.0" stroke="#d488fb" stroke-width="1.3" fill="none"/><path d="M869.50 302.5H877.50M869.50 345.5H877.50" stroke="#d488fb" stroke-width="1.2" fill="none"/>
<path d="M889.50 293.0V337.0" stroke="#d488fb" stroke-width="1.3" fill="none"/><path d="M885.50 293.5H893.50M885.50 336.5H893.50" stroke="#d488fb" stroke-width="1.2" fill="none"/>
<path d="M919.50 285.0V330.0" stroke="#d488fb" stroke-width="1.3" fill="none"/><path d="M915.50 285.5H923.50M915.50 329.5H923.50" stroke="#d488fb" stroke-width="1.2" fill="none"/>
<path d="M939.50 279.0V323.0" stroke="#d488fb" stroke-width="1.3" fill="none"/><path d="M935.50 279.5H943.50M935.50 322.5H943.50" stroke="#d488fb" stroke-width="1.2" fill="none"/>
<path d="M969.50 265.0V309.0" stroke="#d488fb" stroke-width="1.3" fill="none"/><path d="M965.50 265.5H973.50M965.50 308.5H973.50" stroke="#d488fb" stroke-width="1.2" fill="none"/>
<path d="M989.50 258.0V303.0" stroke="#d488fb" stroke-width="1.3" fill="none"/><path d="M985.50 258.5H993.50M985.50 302.5H993.50" stroke="#d488fb" stroke-width="1.2" fill="none"/>
<path d="M1005.50 252.0V296.0" stroke="#d488fb" stroke-width="1.3" fill="none"/><path d="M1001.50 252.5H1009.50M1001.50 295.5H1009.50" stroke="#d488fb" stroke-width="1.2" fill="none"/>
<path d="M1018.50 248.0V292.0" stroke="#d488fb" stroke-width="1.3" fill="none"/><path d="M1014.50 248.5H1022.50M1014.50 291.5H1022.50" stroke="#d488fb" stroke-width="1.2" fill="none"/>
<path d="M1030.50 243.0V288.0" stroke="#d488fb" stroke-width="1.3" fill="none"/><path d="M1026.50 243.5H1034.50M1026.50 287.5H1034.50" stroke="#d488fb" stroke-width="1.2" fill="none"/>
<path d="M1039.50 240.0V285.0" stroke="#d488fb" stroke-width="1.3" fill="none"/><path d="M1035.50 240.5H1043.50M1035.50 284.5H1043.50" stroke="#d488fb" stroke-width="1.2" fill="none"/>
<path d="M1055.50 233.0V277.0" stroke="#d488fb" stroke-width="1.3" fill="none"/><path d="M1051.50 233.5H1059.50M1051.50 276.5H1059.50" stroke="#d488fb" stroke-width="1.2" fill="none"/>
<path d="M1085.50 213.0V257.0" stroke="#d488fb" stroke-width="1.3" fill="none"/><path d="M1081.50 213.5H1089.50M1081.50 256.5H1089.50" stroke="#d488fb" stroke-width="1.2" fill="none"/>
<path d="M1105.50 199.0V243.0" stroke="#d488fb" stroke-width="1.3" fill="none"/><path d="M1101.50 199.5H1109.50M1101.50 242.5H1109.50" stroke="#d488fb" stroke-width="1.2" fill="none"/>
<path d="M1134.50 187.0V231.0" stroke="#d488fb" stroke-width="1.3" fill="none"/><path d="M1130.50 187.5H1138.50M1130.50 230.5H1138.50" stroke="#d488fb" stroke-width="1.2" fill="none"/>
<path d="M1155.50 180.0V225.0" stroke="#d488fb" stroke-width="1.3" fill="none"/><path d="M1151.50 180.5H1159.50M1151.50 224.5H1159.50" stroke="#d488fb" stroke-width="1.2" fill="none"/>
<polygon points="222.8,392.1 222.8,403.3 232.3,397.7" fill="#d488fb"/>
<polygon points="252.0,412.5 252.0,423.7 261.5,418.1" fill="#d488fb"/>
<polygon points="272.8,417.8 272.8,429.0 282.3,423.4" fill="#d488fb"/>
<polygon points="302.0,421.7 302.0,432.9 311.5,427.3" fill="#d488fb"/>
<polygon points="322.7,422.2 322.7,433.4 332.2,427.8" fill="#d488fb"/>
<polygon points="338.8,421.8 338.8,433.0 348.3,427.4" fill="#d488fb"/>
<polygon points="351.9,421.3 351.9,432.5 361.4,426.9" fill="#d488fb"/>
<polygon points="363.1,420.7 363.1,431.9 372.6,426.3" fill="#d488fb"/>
<polygon points="372.7,420.2 372.7,431.4 382.2,425.8" fill="#d488fb"/>
<polygon points="388.8,418.5 388.8,429.7 398.3,424.1" fill="#d488fb"/>
<polygon points="418.0,415.2 418.0,426.4 427.5,420.8" fill="#d488fb"/>
<polygon points="438.7,412.5 438.7,423.7 448.2,418.1" fill="#d488fb"/>
<polygon points="467.9,407.5 467.9,418.7 477.4,413.1" fill="#d488fb"/>
<polygon points="488.7,404.8 488.7,416.0 498.2,410.4" fill="#d488fb"/>
<polygon points="504.8,401.2 504.8,412.4 514.3,406.8" fill="#d488fb"/>
<polygon points="517.9,399.0 517.9,410.2 527.4,404.6" fill="#d488fb"/>
<polygon points="529.0,397.3 529.0,408.5 538.5,402.9" fill="#d488fb"/>
<polygon points="538.6,395.7 538.6,406.9 548.1,401.3" fill="#d488fb"/>
<polygon points="554.7,393.3 554.7,404.5 564.2,398.9" fill="#d488fb"/>
<polygon points="583.9,387.9 583.9,399.1 593.4,393.5" fill="#d488fb"/>
<polygon points="604.7,384.0 604.7,395.2 614.2,389.6" fill="#d488fb"/>
<polygon points="633.9,378.5 633.9,389.7 643.4,384.1" fill="#d488fb"/>
<polygon points="654.6,372.4 654.6,383.6 664.1,378.0" fill="#d488fb"/>
<polygon points="670.7,369.4 670.7,380.6 680.2,375.0" fill="#d488fb"/>
<polygon points="683.9,366.4 683.9,377.6 693.4,372.0" fill="#d488fb"/>
<polygon points="695.0,363.8 695.0,375.0 704.5,369.4" fill="#d488fb"/>
<polygon points="704.6,361.7 704.6,372.9 714.1,367.3" fill="#d488fb"/>
<polygon points="720.7,357.8 720.7,369.0 730.2,363.4" fill="#d488fb"/>
<polygon points="749.9,350.8 749.9,362.0 759.4,356.4" fill="#d488fb"/>
<polygon points="770.6,343.7 770.6,354.9 780.1,349.3" fill="#d488fb"/>
<polygon points="799.9,336.5 799.9,347.7 809.4,342.1" fill="#d488fb"/>
<polygon points="820.6,329.9 820.6,341.1 830.1,335.5" fill="#d488fb"/>
<polygon points="836.7,325.5 836.7,336.7 846.2,331.1" fill="#d488fb"/>
<polygon points="849.8,320.0 849.8,331.2 859.3,325.6" fill="#d488fb"/>
<polygon points="860.9,317.3 860.9,328.5 870.4,322.9" fill="#d488fb"/>
<polygon points="870.6,314.0 870.6,325.2 880.1,319.6" fill="#d488fb"/>
<polygon points="886.6,305.3 886.6,316.5 896.1,310.9" fill="#d488fb"/>
<polygon points="915.9,297.5 915.9,308.7 925.4,303.1" fill="#d488fb"/>
<polygon points="936.6,291.1 936.6,302.3 946.1,296.7" fill="#d488fb"/>
<polygon points="965.8,277.1 965.8,288.3 975.3,282.7" fill="#d488fb"/>
<polygon points="986.6,270.8 986.6,282.0 996.1,276.4" fill="#d488fb"/>
<polygon points="1002.6,263.9 1002.6,275.1 1012.1,269.5" fill="#d488fb"/>
<polygon points="1015.8,260.0 1015.8,271.2 1025.3,265.6" fill="#d488fb"/>
<polygon points="1026.9,255.4 1026.9,266.6 1036.4,261.0" fill="#d488fb"/>
<polygon points="1036.5,252.4 1036.5,263.6 1046.0,258.0" fill="#d488fb"/>
<polygon points="1052.6,244.9 1052.6,256.1 1062.1,250.5" fill="#d488fb"/>
<polygon points="1081.8,225.1 1081.8,236.3 1091.3,230.7" fill="#d488fb"/>
<polygon points="1102.6,211.3 1102.6,222.5 1112.1,216.9" fill="#d488fb"/>
<polygon points="1131.8,199.2 1131.8,210.4 1141.3,204.8" fill="#d488fb"/>
<polygon points="1152.5,192.8 1152.5,204.0 1162.0,198.4" fill="#d488fb"/>
</g>
<g>
<path d="M226.50 398.0V443.0" stroke="#10f5d5" stroke-width="1.3" fill="none"/><path d="M222.50 398.5H230.50M222.50 442.5H230.50" stroke="#10f5d5" stroke-width="1.2" fill="none"/>
<path d="M255.50 424.0V468.0" stroke="#10f5d5" stroke-width="1.3" fill="none"/><path d="M251.50 424.5H259.50M251.50 467.5H259.50" stroke="#10f5d5" stroke-width="1.2" fill="none"/>
<path d="M275.50 438.0V483.0" stroke="#10f5d5" stroke-width="1.3" fill="none"/><path d="M271.50 438.5H279.50M271.50 482.5H279.50" stroke="#10f5d5" stroke-width="1.2" fill="none"/>
<path d="M305.50 452.0V496.0" stroke="#10f5d5" stroke-width="1.3" fill="none"/><path d="M301.50 452.5H309.50M301.50 495.5H309.50" stroke="#10f5d5" stroke-width="1.2" fill="none"/>
<path d="M325.50 457.0V502.0" stroke="#10f5d5" stroke-width="1.3" fill="none"/><path d="M321.50 457.5H329.50M321.50 501.5H329.50" stroke="#10f5d5" stroke-width="1.2" fill="none"/>
<path d="M342.50 460.0V504.0" stroke="#10f5d5" stroke-width="1.3" fill="none"/><path d="M338.50 460.5H346.50M338.50 503.5H346.50" stroke="#10f5d5" stroke-width="1.2" fill="none"/>
<path d="M355.50 461.0V506.0" stroke="#10f5d5" stroke-width="1.3" fill="none"/><path d="M351.50 461.5H359.50M351.50 505.5H359.50" stroke="#10f5d5" stroke-width="1.2" fill="none"/>
<path d="M366.50 461.0V506.0" stroke="#10f5d5" stroke-width="1.3" fill="none"/><path d="M362.50 461.5H370.50M362.50 505.5H370.50" stroke="#10f5d5" stroke-width="1.2" fill="none"/>
<path d="M375.50 462.0V506.0" stroke="#10f5d5" stroke-width="1.3" fill="none"/><path d="M371.50 462.5H379.50M371.50 505.5H379.50" stroke="#10f5d5" stroke-width="1.2" fill="none"/>
<path d="M391.50 462.0V506.0" stroke="#10f5d5" stroke-width="1.3" fill="none"/><path d="M387.50 462.5H395.50M387.50 505.5H395.50" stroke="#10f5d5" stroke-width="1.2" fill="none"/>
<path d="M421.50 459.0V503.0" stroke="#10f5d5" stroke-width="1.3" fill="none"/><path d="M417.50 459.5H425.50M417.50 502.5H425.50" stroke="#10f5d5" stroke-width="1.2" fill="none"/>
<path d="M441.50 457.0V502.0" stroke="#10f5d5" stroke-width="1.3" fill="none"/><path d="M437.50 457.5H445.50M437.50 501.5H445.50" stroke="#10f5d5" stroke-width="1.2" fill="none"/>
<path d="M471.50 454.0V498.0" stroke="#10f5d5" stroke-width="1.3" fill="none"/><path d="M467.50 454.5H475.50M467.50 497.5H475.50" stroke="#10f5d5" stroke-width="1.2" fill="none"/>
<path d="M491.50 451.0V496.0" stroke="#10f5d5" stroke-width="1.3" fill="none"/><path d="M487.50 451.5H495.50M487.50 495.5H495.50" stroke="#10f5d5" stroke-width="1.2" fill="none"/>
<path d="M507.50 450.0V494.0" stroke="#10f5d5" stroke-width="1.3" fill="none"/><path d="M503.50 450.5H511.50M503.50 493.5H511.50" stroke="#10f5d5" stroke-width="1.2" fill="none"/>
<path d="M521.50 448.0V492.0" stroke="#10f5d5" stroke-width="1.3" fill="none"/><path d="M517.50 448.5H525.50M517.50 491.5H525.50" stroke="#10f5d5" stroke-width="1.2" fill="none"/>
<path d="M532.50 446.0V491.0" stroke="#10f5d5" stroke-width="1.3" fill="none"/><path d="M528.50 446.5H536.50M528.50 490.5H536.50" stroke="#10f5d5" stroke-width="1.2" fill="none"/>
<path d="M541.50 444.0V489.0" stroke="#10f5d5" stroke-width="1.3" fill="none"/><path d="M537.50 444.5H545.50M537.50 488.5H545.50" stroke="#10f5d5" stroke-width="1.2" fill="none"/>
<path d="M557.50 441.0V486.0" stroke="#10f5d5" stroke-width="1.3" fill="none"/><path d="M553.50 441.5H561.50M553.50 485.5H561.50" stroke="#10f5d5" stroke-width="1.2" fill="none"/>
<path d="M587.50 436.0V480.0" stroke="#10f5d5" stroke-width="1.3" fill="none"/><path d="M583.50 436.5H591.50M583.50 479.5H591.50" stroke="#10f5d5" stroke-width="1.2" fill="none"/>
<path d="M607.50 431.0V476.0" stroke="#10f5d5" stroke-width="1.3" fill="none"/><path d="M603.50 431.5H611.50M603.50 475.5H611.50" stroke="#10f5d5" stroke-width="1.2" fill="none"/>
<path d="M637.50 424.0V468.0" stroke="#10f5d5" stroke-width="1.3" fill="none"/><path d="M633.50 424.5H641.50M633.50 467.5H641.50" stroke="#10f5d5" stroke-width="1.2" fill="none"/>
<path d="M657.50 424.0V468.0" stroke="#10f5d5" stroke-width="1.3" fill="none"/><path d="M653.50 424.5H661.50M653.50 467.5H661.50" stroke="#10f5d5" stroke-width="1.2" fill="none"/>
<path d="M673.50 429.0V473.0" stroke="#10f5d5" stroke-width="1.3" fill="none"/><path d="M669.50 429.5H677.50M669.50 472.5H677.50" stroke="#10f5d5" stroke-width="1.2" fill="none"/>
<path d="M687.50 436.0V481.0" stroke="#10f5d5" stroke-width="1.3" fill="none"/><path d="M683.50 436.5H691.50M683.50 480.5H691.50" stroke="#10f5d5" stroke-width="1.2" fill="none"/>
<path d="M698.50 440.0V484.0" stroke="#10f5d5" stroke-width="1.3" fill="none"/><path d="M694.50 440.5H702.50M694.50 483.5H702.50" stroke="#10f5d5" stroke-width="1.2" fill="none"/>
<path d="M707.50 440.0V485.0" stroke="#10f5d5" stroke-width="1.3" fill="none"/><path d="M703.50 440.5H711.50M703.50 484.5H711.50" stroke="#10f5d5" stroke-width="1.2" fill="none"/>
<path d="M723.50 437.0V482.0" stroke="#10f5d5" stroke-width="1.3" fill="none"/><path d="M719.50 437.5H727.50M719.50 481.5H727.50" stroke="#10f5d5" stroke-width="1.2" fill="none"/>
<path d="M753.50 430.0V475.0" stroke="#10f5d5" stroke-width="1.3" fill="none"/><path d="M749.50 430.5H757.50M749.50 474.5H757.50" stroke="#10f5d5" stroke-width="1.2" fill="none"/>
<path d="M773.50 423.0V468.0" stroke="#10f5d5" stroke-width="1.3" fill="none"/><path d="M769.50 423.5H777.50M769.50 467.5H777.50" stroke="#10f5d5" stroke-width="1.2" fill="none"/>
<path d="M803.50 415.0V460.0" stroke="#10f5d5" stroke-width="1.3" fill="none"/><path d="M799.50 415.5H807.50M799.50 459.5H807.50" stroke="#10f5d5" stroke-width="1.2" fill="none"/>
<path d="M823.50 407.0V451.0" stroke="#10f5d5" stroke-width="1.3" fill="none"/><path d="M819.50 407.5H827.50M819.50 450.5H827.50" stroke="#10f5d5" stroke-width="1.2" fill="none"/>
<path d="M839.50 398.0V443.0" stroke="#10f5d5" stroke-width="1.3" fill="none"/><path d="M835.50 398.5H843.50M835.50 442.5H843.50" stroke="#10f5d5" stroke-width="1.2" fill="none"/>
<path d="M853.50 393.0V437.0" stroke="#10f5d5" stroke-width="1.3" fill="none"/><path d="M849.50 393.5H857.50M849.50 436.5H857.50" stroke="#10f5d5" stroke-width="1.2" fill="none"/>
<path d="M864.50 387.0V431.0" stroke="#10f5d5" stroke-width="1.3" fill="none"/><path d="M860.50 387.5H868.50M860.50 430.5H868.50" stroke="#10f5d5" stroke-width="1.2" fill="none"/>
<path d="M873.50 381.0V425.0" stroke="#10f5d5" stroke-width="1.3" fill="none"/><path d="M869.50 381.5H877.50M869.50 424.5H877.50" stroke="#10f5d5" stroke-width="1.2" fill="none"/>
<path d="M889.50 373.0V418.0" stroke="#10f5d5" stroke-width="1.3" fill="none"/><path d="M885.50 373.5H893.50M885.50 417.5H893.50" stroke="#10f5d5" stroke-width="1.2" fill="none"/>
<path d="M919.50 357.0V401.0" stroke="#10f5d5" stroke-width="1.3" fill="none"/><path d="M915.50 357.5H923.50M915.50 400.5H923.50" stroke="#10f5d5" stroke-width="1.2" fill="none"/>
<path d="M939.50 344.0V387.0" stroke="#10f5d5" stroke-width="1.3" fill="none"/><path d="M935.50 344.5H943.50M935.50 386.5H943.50" stroke="#10f5d5" stroke-width="1.2" fill="none"/>
<path d="M969.50 325.0V369.0" stroke="#10f5d5" stroke-width="1.3" fill="none"/><path d="M965.50 325.5H973.50M965.50 368.5H973.50" stroke="#10f5d5" stroke-width="1.2" fill="none"/>
<path d="M989.50 312.0V356.0" stroke="#10f5d5" stroke-width="1.3" fill="none"/><path d="M985.50 312.5H993.50M985.50 355.5H993.50" stroke="#10f5d5" stroke-width="1.2" fill="none"/>
<path d="M1005.50 302.0V345.0" stroke="#10f5d5" stroke-width="1.3" fill="none"/><path d="M1001.50 302.5H1009.50M1001.50 344.5H1009.50" stroke="#10f5d5" stroke-width="1.2" fill="none"/>
<path d="M1018.50 293.0V337.0" stroke="#10f5d5" stroke-width="1.3" fill="none"/><path d="M1014.50 293.5H1022.50M1014.50 336.5H1022.50" stroke="#10f5d5" stroke-width="1.2" fill="none"/>
<path d="M1030.50 286.0V330.0" stroke="#10f5d5" stroke-width="1.3" fill="none"/><path d="M1026.50 286.5H1034.50M1026.50 329.5H1034.50" stroke="#10f5d5" stroke-width="1.2" fill="none"/>
<path d="M1039.50 280.0V324.0" stroke="#10f5d5" stroke-width="1.3" fill="none"/><path d="M1035.50 280.5H1043.50M1035.50 323.5H1043.50" stroke="#10f5d5" stroke-width="1.2" fill="none"/>
<path d="M1055.50 268.0V312.0" stroke="#10f5d5" stroke-width="1.3" fill="none"/><path d="M1051.50 268.5H1059.50M1051.50 311.5H1059.50" stroke="#10f5d5" stroke-width="1.2" fill="none"/>
<path d="M1085.50 250.0V294.0" stroke="#10f5d5" stroke-width="1.3" fill="none"/><path d="M1081.50 250.5H1089.50M1081.50 293.5H1089.50" stroke="#10f5d5" stroke-width="1.2" fill="none"/>
<path d="M1105.50 226.0V270.0" stroke="#10f5d5" stroke-width="1.3" fill="none"/><path d="M1101.50 226.5H1109.50M1101.50 269.5H1109.50" stroke="#10f5d5" stroke-width="1.2" fill="none"/>
<path d="M1134.50 207.0V250.0" stroke="#10f5d5" stroke-width="1.3" fill="none"/><path d="M1130.50 207.5H1138.50M1130.50 249.5H1138.50" stroke="#10f5d5" stroke-width="1.2" fill="none"/>
<path d="M1155.50 194.0V238.0" stroke="#10f5d5" stroke-width="1.3" fill="none"/><path d="M1151.50 194.5H1159.50M1151.50 237.5H1159.50" stroke="#10f5d5" stroke-width="1.2" fill="none"/>
<polygon points="226.0,410.3 227.4,414.5 231.8,414.5 228.3,417.1 229.6,421.3 226.0,418.8 222.4,421.3 223.7,417.1 220.2,414.5 224.6,414.5" fill="#10f5d5"/>
<polygon points="255.2,435.5 256.6,439.7 261.0,439.7 257.5,442.3 258.8,446.5 255.2,444.0 251.6,446.5 252.9,442.3 249.4,439.7 253.8,439.7" fill="#10f5d5"/>
<polygon points="276.0,450.2 277.4,454.4 281.8,454.4 278.2,457.0 279.5,461.2 276.0,458.7 272.4,461.2 273.7,457.0 270.2,454.4 274.5,454.4" fill="#10f5d5"/>
<polygon points="305.2,463.6 306.6,467.8 311.0,467.8 307.5,470.4 308.8,474.6 305.2,472.1 301.6,474.6 302.9,470.4 299.4,467.8 303.8,467.8" fill="#10f5d5"/>
<polygon points="325.9,469.1 327.3,473.3 331.7,473.3 328.2,475.9 329.5,480.1 325.9,477.6 322.3,480.1 323.6,475.9 320.1,473.3 324.5,473.3" fill="#10f5d5"/>
<polygon points="342.0,471.8 343.4,476.0 347.8,476.0 344.3,478.6 345.6,482.8 342.0,480.3 338.4,482.8 339.7,478.6 336.2,476.0 340.6,476.0" fill="#10f5d5"/>
<polygon points="355.1,472.9 356.6,477.1 360.9,477.1 357.4,479.7 358.7,483.9 355.1,481.4 351.6,483.9 352.9,479.7 349.3,477.1 353.7,477.1" fill="#10f5d5"/>
<polygon points="366.3,473.3 367.7,477.5 372.1,477.5 368.5,480.1 369.8,484.3 366.3,481.8 362.7,484.3 364.0,480.1 360.5,477.5 364.8,477.5" fill="#10f5d5"/>
<polygon points="375.9,473.5 377.3,477.7 381.7,477.7 378.2,480.3 379.5,484.5 375.9,482.0 372.3,484.5 373.6,480.3 370.1,477.7 374.5,477.7" fill="#10f5d5"/>
<polygon points="392.0,473.5 393.4,477.7 397.8,477.7 394.2,480.3 395.5,484.5 392.0,482.0 388.4,484.5 389.7,480.3 386.2,477.7 390.5,477.7" fill="#10f5d5"/>
<polygon points="421.2,470.7 422.6,474.9 427.0,474.9 423.5,477.5 424.8,481.7 421.2,479.2 417.6,481.7 418.9,477.5 415.4,474.9 419.8,474.9" fill="#10f5d5"/>
<polygon points="441.9,469.1 443.3,473.3 447.7,473.3 444.2,475.9 445.5,480.1 441.9,477.6 438.3,480.1 439.6,475.9 436.1,473.3 440.5,473.3" fill="#10f5d5"/>
<polygon points="471.1,465.8 472.6,470.0 476.9,470.0 473.4,472.6 474.7,476.8 471.1,474.3 467.6,476.8 468.9,472.6 465.3,470.0 469.7,470.0" fill="#10f5d5"/>
<polygon points="491.9,463.0 493.3,467.2 497.7,467.2 494.2,469.8 495.5,474.0 491.9,471.5 488.3,474.0 489.6,469.8 486.1,467.2 490.5,467.2" fill="#10f5d5"/>
<polygon points="508.0,461.4 509.4,465.6 513.8,465.6 510.2,468.2 511.5,472.4 508.0,469.9 504.4,472.4 505.7,468.2 502.2,465.6 506.6,465.6" fill="#10f5d5"/>
<polygon points="521.1,459.7 522.5,463.9 526.9,463.9 523.4,466.5 524.7,470.7 521.1,468.2 517.5,470.7 518.8,466.5 515.3,463.9 519.7,463.9" fill="#10f5d5"/>
<polygon points="532.2,458.1 533.6,462.3 538.0,462.3 534.5,464.9 535.8,469.1 532.2,466.6 528.6,469.1 529.9,464.9 526.4,462.3 530.8,462.3" fill="#10f5d5"/>
<polygon points="541.8,455.9 543.2,460.1 547.6,460.1 544.1,462.7 545.4,466.9 541.8,464.4 538.3,466.9 539.6,462.7 536.0,460.1 540.4,460.1" fill="#10f5d5"/>
<polygon points="557.9,453.2 559.3,457.4 563.7,457.4 560.2,460.0 561.5,464.2 557.9,461.7 554.3,464.2 555.6,460.0 552.1,457.4 556.5,457.4" fill="#10f5d5"/>
<polygon points="587.1,447.4 588.6,451.6 592.9,451.6 589.4,454.2 590.7,458.4 587.1,455.9 583.6,458.4 584.9,454.2 581.3,451.6 585.7,451.6" fill="#10f5d5"/>
<polygon points="607.9,443.0 609.3,447.2 613.7,447.2 610.2,449.8 611.5,454.0 607.9,451.5 604.3,454.0 605.6,449.8 602.1,447.2 606.5,447.2" fill="#10f5d5"/>
<polygon points="637.1,435.8 638.5,440.0 642.9,440.0 639.4,442.6 640.7,446.8 637.1,444.3 633.5,446.8 634.8,442.6 631.3,440.0 635.7,440.0" fill="#10f5d5"/>
<polygon points="657.8,435.8 659.2,440.0 663.6,440.0 660.1,442.6 661.4,446.8 657.8,444.3 654.3,446.8 655.6,442.6 652.0,440.0 656.4,440.0" fill="#10f5d5"/>
<polygon points="673.9,440.8 675.3,445.0 679.7,445.0 676.2,447.6 677.5,451.8 673.9,449.3 670.3,451.8 671.6,447.6 668.1,445.0 672.5,445.0" fill="#10f5d5"/>
<polygon points="687.1,447.9 688.5,452.1 692.9,452.1 689.3,454.7 690.6,458.9 687.1,456.4 683.5,458.9 684.8,454.7 681.3,452.1 685.7,452.1" fill="#10f5d5"/>
<polygon points="698.2,451.8 699.6,456.0 704.0,456.0 700.5,458.6 701.8,462.8 698.2,460.3 694.6,462.8 695.9,458.6 692.4,456.0 696.8,456.0" fill="#10f5d5"/>
<polygon points="707.8,452.3 709.2,456.5 713.6,456.5 710.1,459.1 711.4,463.3 707.8,460.8 704.2,463.3 705.5,459.1 702.0,456.5 706.4,456.5" fill="#10f5d5"/>
<polygon points="723.9,449.0 725.3,453.2 729.7,453.2 726.2,455.8 727.5,460.0 723.9,457.5 720.3,460.0 721.6,455.8 718.1,453.2 722.5,453.2" fill="#10f5d5"/>
<polygon points="753.1,441.9 754.5,446.1 758.9,446.1 755.4,448.7 756.7,452.9 753.1,450.4 749.5,452.9 750.8,448.7 747.3,446.1 751.7,446.1" fill="#10f5d5"/>
<polygon points="773.8,435.3 775.2,439.5 779.6,439.5 776.1,442.1 777.4,446.3 773.8,443.8 770.3,446.3 771.6,442.1 768.0,439.5 772.4,439.5" fill="#10f5d5"/>
<polygon points="803.1,427.0 804.5,431.2 808.9,431.2 805.3,433.8 806.6,438.0 803.1,435.5 799.5,438.0 800.8,433.8 797.3,431.2 801.7,431.2" fill="#10f5d5"/>
<polygon points="823.8,418.8 825.2,423.0 829.6,423.0 826.1,425.6 827.4,429.8 823.8,427.3 820.2,429.8 821.5,425.6 818.0,423.0 822.4,423.0" fill="#10f5d5"/>
<polygon points="839.9,410.0 841.3,414.2 845.7,414.2 842.2,416.8 843.5,421.0 839.9,418.5 836.3,421.0 837.6,416.8 834.1,414.2 838.5,414.2" fill="#10f5d5"/>
<polygon points="853.0,404.5 854.4,408.7 858.8,408.7 855.3,411.3 856.6,415.5 853.0,413.0 849.4,415.5 850.7,411.3 847.2,408.7 851.6,408.7" fill="#10f5d5"/>
<polygon points="864.1,398.4 865.5,402.6 869.9,402.6 866.4,405.2 867.7,409.4 864.1,406.9 860.5,409.4 861.8,405.2 858.3,402.6 862.7,402.6" fill="#10f5d5"/>
<polygon points="873.8,392.4 875.2,396.6 879.6,396.6 876.0,399.2 877.3,403.4 873.8,400.9 870.2,403.4 871.5,399.2 868.0,396.6 872.3,396.6" fill="#10f5d5"/>
<polygon points="889.8,385.2 891.3,389.4 895.6,389.4 892.1,392.0 893.4,396.2 889.8,393.7 886.3,396.2 887.6,392.0 884.0,389.4 888.4,389.4" fill="#10f5d5"/>
<polygon points="919.1,368.8 920.5,373.0 924.9,373.0 921.3,375.6 922.6,379.8 919.1,377.3 915.5,379.8 916.8,375.6 913.3,373.0 917.7,373.0" fill="#10f5d5"/>
<polygon points="939.8,355.6 941.2,359.8 945.6,359.8 942.1,362.4 943.4,366.6 939.8,364.1 936.2,366.6 937.5,362.4 934.0,359.8 938.4,359.8" fill="#10f5d5"/>
<polygon points="969.0,336.9 970.4,341.1 974.8,341.1 971.3,343.7 972.6,347.9 969.0,345.4 965.4,347.9 966.7,343.7 963.2,341.1 967.6,341.1" fill="#10f5d5"/>
<polygon points="989.8,324.2 991.2,328.4 995.6,328.4 992.0,331.0 993.3,335.2 989.8,332.7 986.2,335.2 987.5,331.0 984.0,328.4 988.3,328.4" fill="#10f5d5"/>
<polygon points="1005.8,313.4 1007.3,317.6 1011.6,317.6 1008.1,320.2 1009.4,324.4 1005.8,321.9 1002.3,324.4 1003.6,320.2 1000.0,317.6 1004.4,317.6" fill="#10f5d5"/>
<polygon points="1019.0,305.3 1020.4,309.5 1024.8,309.5 1021.3,312.1 1022.6,316.3 1019.0,313.8 1015.4,316.3 1016.7,312.1 1013.2,309.5 1017.6,309.5" fill="#10f5d5"/>
<polygon points="1030.1,297.8 1031.5,302.0 1035.9,302.0 1032.4,304.6 1033.7,308.8 1030.1,306.3 1026.5,308.8 1027.8,304.6 1024.3,302.0 1028.7,302.0" fill="#10f5d5"/>
<polygon points="1039.7,291.7 1041.1,295.9 1045.5,295.9 1042.0,298.5 1043.3,302.7 1039.7,300.2 1036.1,302.7 1037.4,298.5 1033.9,295.9 1038.3,295.9" fill="#10f5d5"/>
<polygon points="1055.8,280.2 1057.2,284.4 1061.6,284.4 1058.1,287.0 1059.4,291.2 1055.8,288.7 1052.2,291.2 1053.5,287.0 1050.0,284.4 1054.4,284.4" fill="#10f5d5"/>
<polygon points="1085.0,262.0 1086.4,266.2 1090.8,266.2 1087.3,268.8 1088.6,273.0 1085.0,270.5 1081.4,273.0 1082.7,268.8 1079.2,266.2 1083.6,266.2" fill="#10f5d5"/>
<polygon points="1105.8,237.8 1107.2,242.0 1111.6,242.0 1108.0,244.6 1109.3,248.8 1105.8,246.3 1102.2,248.8 1103.5,244.6 1100.0,242.0 1104.3,242.0" fill="#10f5d5"/>
<polygon points="1135.0,218.5 1136.4,222.7 1140.8,222.7 1137.3,225.3 1138.6,229.5 1135.0,227.0 1131.4,229.5 1132.7,225.3 1129.2,222.7 1133.6,222.7" fill="#10f5d5"/>
<polygon points="1155.7,205.7 1157.1,209.9 1161.5,209.9 1158.0,212.5 1159.3,216.7 1155.7,214.2 1152.1,216.7 1153.4,212.5 1149.9,209.9 1154.3,209.9" fill="#10f5d5"/>
</g>
<g>
<path d="M226.50 350.0V395.0" stroke="#7d6391" stroke-width="1.3" fill="none"/><path d="M222.50 350.5H230.50M222.50 394.5H230.50" stroke="#7d6391" stroke-width="1.2" fill="none"/>
<path d="M255.50 363.0V407.0" stroke="#7d6391" stroke-width="1.3" fill="none"/><path d="M251.50 363.5H259.50M251.50 406.5H259.50" stroke="#7d6391" stroke-width="1.2" fill="none"/>
<path d="M275.50 367.0V411.0" stroke="#7d6391" stroke-width="1.3" fill="none"/><path d="M271.50 367.5H279.50M271.50 410.5H279.50" stroke="#7d6391" stroke-width="1.2" fill="none"/>
<path d="M305.50 370.0V414.0" stroke="#7d6391" stroke-width="1.3" fill="none"/><path d="M301.50 370.5H309.50M301.50 413.5H309.50" stroke="#7d6391" stroke-width="1.2" fill="none"/>
<path d="M325.50 372.0V416.0" stroke="#7d6391" stroke-width="1.3" fill="none"/><path d="M321.50 372.5H329.50M321.50 415.5H329.50" stroke="#7d6391" stroke-width="1.2" fill="none"/>
<path d="M342.50 373.0V417.0" stroke="#7d6391" stroke-width="1.3" fill="none"/><path d="M338.50 373.5H346.50M338.50 416.5H346.50" stroke="#7d6391" stroke-width="1.2" fill="none"/>
<path d="M355.50 373.0V417.0" stroke="#7d6391" stroke-width="1.3" fill="none"/><path d="M351.50 373.5H359.50M351.50 416.5H359.50" stroke="#7d6391" stroke-width="1.2" fill="none"/>
<path d="M366.50 373.0V417.0" stroke="#7d6391" stroke-width="1.3" fill="none"/><path d="M362.50 373.5H370.50M362.50 416.5H370.50" stroke="#7d6391" stroke-width="1.2" fill="none"/>
<path d="M375.50 373.0V418.0" stroke="#7d6391" stroke-width="1.3" fill="none"/><path d="M371.50 373.5H379.50M371.50 417.5H379.50" stroke="#7d6391" stroke-width="1.2" fill="none"/>
<path d="M391.50 373.0V418.0" stroke="#7d6391" stroke-width="1.3" fill="none"/><path d="M387.50 373.5H395.50M387.50 417.5H395.50" stroke="#7d6391" stroke-width="1.2" fill="none"/>
<path d="M421.50 373.0V417.0" stroke="#7d6391" stroke-width="1.3" fill="none"/><path d="M417.50 373.5H425.50M417.50 416.5H425.50" stroke="#7d6391" stroke-width="1.2" fill="none"/>
<path d="M441.50 373.0V417.0" stroke="#7d6391" stroke-width="1.3" fill="none"/><path d="M437.50 373.5H445.50M437.50 416.5H445.50" stroke="#7d6391" stroke-width="1.2" fill="none"/>
<path d="M471.50 370.0V415.0" stroke="#7d6391" stroke-width="1.3" fill="none"/><path d="M467.50 370.5H475.50M467.50 414.5H475.50" stroke="#7d6391" stroke-width="1.2" fill="none"/>
<path d="M491.50 365.0V410.0" stroke="#7d6391" stroke-width="1.3" fill="none"/><path d="M487.50 365.5H495.50M487.50 409.5H495.50" stroke="#7d6391" stroke-width="1.2" fill="none"/>
<path d="M507.50 364.0V408.0" stroke="#7d6391" stroke-width="1.3" fill="none"/><path d="M503.50 364.5H511.50M503.50 407.5H511.50" stroke="#7d6391" stroke-width="1.2" fill="none"/>
<path d="M521.50 363.0V407.0" stroke="#7d6391" stroke-width="1.3" fill="none"/><path d="M517.50 363.5H525.50M517.50 406.5H525.50" stroke="#7d6391" stroke-width="1.2" fill="none"/>
<path d="M532.50 362.0V407.0" stroke="#7d6391" stroke-width="1.3" fill="none"/><path d="M528.50 362.5H536.50M528.50 406.5H536.50" stroke="#7d6391" stroke-width="1.2" fill="none"/>
<path d="M541.50 361.0V406.0" stroke="#7d6391" stroke-width="1.3" fill="none"/><path d="M537.50 361.5H545.50M537.50 405.5H545.50" stroke="#7d6391" stroke-width="1.2" fill="none"/>
<path d="M557.50 353.0V397.0" stroke="#7d6391" stroke-width="1.3" fill="none"/><path d="M553.50 353.5H561.50M553.50 396.5H561.50" stroke="#7d6391" stroke-width="1.2" fill="none"/>
<path d="M587.50 351.0V396.0" stroke="#7d6391" stroke-width="1.3" fill="none"/><path d="M583.50 351.5H591.50M583.50 395.5H591.50" stroke="#7d6391" stroke-width="1.2" fill="none"/>
<path d="M607.50 336.0V381.0" stroke="#7d6391" stroke-width="1.3" fill="none"/><path d="M603.50 336.5H611.50M603.50 380.5H611.50" stroke="#7d6391" stroke-width="1.2" fill="none"/>
<path d="M637.50 328.0V373.0" stroke="#7d6391" stroke-width="1.3" fill="none"/><path d="M633.50 328.5H641.50M633.50 372.5H641.50" stroke="#7d6391" stroke-width="1.2" fill="none"/>
<path d="M657.50 316.0V361.0" stroke="#7d6391" stroke-width="1.3" fill="none"/><path d="M653.50 316.5H661.50M653.50 360.5H661.50" stroke="#7d6391" stroke-width="1.2" fill="none"/>
<path d="M673.50 314.0V359.0" stroke="#7d6391" stroke-width="1.3" fill="none"/><path d="M669.50 314.5H677.50M669.50 358.5H677.50" stroke="#7d6391" stroke-width="1.2" fill="none"/>
<path d="M687.50 314.0V358.0" stroke="#7d6391" stroke-width="1.3" fill="none"/><path d="M683.50 314.5H691.50M683.50 357.5H691.50" stroke="#7d6391" stroke-width="1.2" fill="none"/>
<path d="M698.50 319.0V364.0" stroke="#7d6391" stroke-width="1.3" fill="none"/><path d="M694.50 319.5H702.50M694.50 363.5H702.50" stroke="#7d6391" stroke-width="1.2" fill="none"/>
<path d="M707.50 317.0V362.0" stroke="#7d6391" stroke-width="1.3" fill="none"/><path d="M703.50 317.5H711.50M703.50 361.5H711.50" stroke="#7d6391" stroke-width="1.2" fill="none"/>
<path d="M723.50 316.0V360.0" stroke="#7d6391" stroke-width="1.3" fill="none"/><path d="M719.50 316.5H727.50M719.50 359.5H727.50" stroke="#7d6391" stroke-width="1.2" fill="none"/>
<path d="M753.50 293.0V337.0" stroke="#7d6391" stroke-width="1.3" fill="none"/><path d="M749.50 293.5H757.50M749.50 336.5H757.50" stroke="#7d6391" stroke-width="1.2" fill="none"/>
<path d="M773.50 289.0V334.0" stroke="#7d6391" stroke-width="1.3" fill="none"/><path d="M769.50 289.5H777.50M769.50 333.5H777.50" stroke="#7d6391" stroke-width="1.2" fill="none"/>
<path d="M803.50 275.0V320.0" stroke="#7d6391" stroke-width="1.3" fill="none"/><path d="M799.50 275.5H807.50M799.50 319.5H807.50" stroke="#7d6391" stroke-width="1.2" fill="none"/>
<path d="M823.50 273.0V318.0" stroke="#7d6391" stroke-width="1.3" fill="none"/><path d="M819.50 273.5H827.50M819.50 317.5H827.50" stroke="#7d6391" stroke-width="1.2" fill="none"/>
<path d="M839.50 272.0V316.0" stroke="#7d6391" stroke-width="1.3" fill="none"/><path d="M835.50 272.5H843.50M835.50 315.5H843.50" stroke="#7d6391" stroke-width="1.2" fill="none"/>
<path d="M853.50 257.0V301.0" stroke="#7d6391" stroke-width="1.3" fill="none"/><path d="M849.50 257.5H857.50M849.50 300.5H857.50" stroke="#7d6391" stroke-width="1.2" fill="none"/>
<path d="M864.50 253.0V297.0" stroke="#7d6391" stroke-width="1.3" fill="none"/><path d="M860.50 253.5H868.50M860.50 296.5H868.50" stroke="#7d6391" stroke-width="1.2" fill="none"/>
<path d="M873.50 249.0V294.0" stroke="#7d6391" stroke-width="1.3" fill="none"/><path d="M869.50 249.5H877.50M869.50 293.5H877.50" stroke="#7d6391" stroke-width="1.2" fill="none"/>
<path d="M889.50 246.0V291.0" stroke="#7d6391" stroke-width="1.3" fill="none"/><path d="M885.50 246.5H893.50M885.50 290.5H893.50" stroke="#7d6391" stroke-width="1.2" fill="none"/>
<path d="M919.50 228.0V273.0" stroke="#7d6391" stroke-width="1.3" fill="none"/><path d="M915.50 228.5H923.50M915.50 272.5H923.50" stroke="#7d6391" stroke-width="1.2" fill="none"/>
<path d="M939.50 215.0V259.0" stroke="#7d6391" stroke-width="1.3" fill="none"/><path d="M935.50 215.5H943.50M935.50 258.5H943.50" stroke="#7d6391" stroke-width="1.2" fill="none"/>
<path d="M969.50 208.0V251.0" stroke="#7d6391" stroke-width="1.3" fill="none"/><path d="M965.50 208.5H973.50M965.50 250.5H973.50" stroke="#7d6391" stroke-width="1.2" fill="none"/>
<path d="M989.50 185.0V228.0" stroke="#7d6391" stroke-width="1.3" fill="none"/><path d="M985.50 185.5H993.50M985.50 227.5H993.50" stroke="#7d6391" stroke-width="1.2" fill="none"/>
<path d="M1005.50 183.0V227.0" stroke="#7d6391" stroke-width="1.3" fill="none"/><path d="M1001.50 183.5H1009.50M1001.50 226.5H1009.50" stroke="#7d6391" stroke-width="1.2" fill="none"/>
<path d="M1018.50 173.0V216.0" stroke="#7d6391" stroke-width="1.3" fill="none"/><path d="M1014.50 173.5H1022.50M1014.50 215.5H1022.50" stroke="#7d6391" stroke-width="1.2" fill="none"/>
<path d="M1030.50 173.0V216.0" stroke="#7d6391" stroke-width="1.3" fill="none"/><path d="M1026.50 173.5H1034.50M1026.50 215.5H1034.50" stroke="#7d6391" stroke-width="1.2" fill="none"/>
<path d="M1039.50 171.0V214.0" stroke="#7d6391" stroke-width="1.3" fill="none"/><path d="M1035.50 171.5H1043.50M1035.50 213.5H1043.50" stroke="#7d6391" stroke-width="1.2" fill="none"/>
<path d="M1055.50 137.0V180.0" stroke="#7d6391" stroke-width="1.3" fill="none"/><path d="M1051.50 137.5H1059.50M1051.50 179.5H1059.50" stroke="#7d6391" stroke-width="1.2" fill="none"/>
<path d="M1085.50 131.0V174.0" stroke="#7d6391" stroke-width="1.3" fill="none"/><path d="M1081.50 131.5H1089.50M1081.50 173.5H1089.50" stroke="#7d6391" stroke-width="1.2" fill="none"/>
<path d="M1105.50 89.0V132.0" stroke="#7d6391" stroke-width="1.3" fill="none"/><path d="M1101.50 89.5H1109.50M1101.50 131.5H1109.50" stroke="#7d6391" stroke-width="1.2" fill="none"/>
<path d="M223.0 365.0L229.0 371.0M223.0 371.0L229.0 365.0" stroke="#7d6391" stroke-width="1.2" fill="none"/>
<path d="M252.2 377.5L258.2 383.5M252.2 383.5L258.2 377.5" stroke="#7d6391" stroke-width="1.2" fill="none"/>
<path d="M273.0 381.5L279.0 387.5M273.0 387.5L279.0 381.5" stroke="#7d6391" stroke-width="1.2" fill="none"/>
<path d="M302.2 384.6L308.2 390.6M302.2 390.6L308.2 384.6" stroke="#7d6391" stroke-width="1.2" fill="none"/>
<path d="M322.9 386.5L328.9 392.5M322.9 392.5L328.9 386.5" stroke="#7d6391" stroke-width="1.2" fill="none"/>
<path d="M339.0 387.6L345.0 393.6M339.0 393.6L345.0 387.6" stroke="#7d6391" stroke-width="1.2" fill="none"/>
<path d="M352.1 387.8L358.1 393.8M352.1 393.8L358.1 387.8" stroke="#7d6391" stroke-width="1.2" fill="none"/>
<path d="M363.3 387.8L369.3 393.8M363.3 393.8L369.3 387.8" stroke="#7d6391" stroke-width="1.2" fill="none"/>
<path d="M372.9 388.1L378.9 394.1M372.9 394.1L378.9 388.1" stroke="#7d6391" stroke-width="1.2" fill="none"/>
<path d="M389.0 388.1L395.0 394.1M389.0 394.1L395.0 388.1" stroke="#7d6391" stroke-width="1.2" fill="none"/>
<path d="M418.2 387.6L424.2 393.6M418.2 393.6L424.2 387.6" stroke="#7d6391" stroke-width="1.2" fill="none"/>
<path d="M438.9 387.6L444.9 393.6M438.9 393.6L444.9 387.6" stroke="#7d6391" stroke-width="1.2" fill="none"/>
<path d="M468.1 385.2L474.1 391.2M468.1 391.2L474.1 385.2" stroke="#7d6391" stroke-width="1.2" fill="none"/>
<path d="M488.9 380.4L494.9 386.4M488.9 386.4L494.9 380.4" stroke="#7d6391" stroke-width="1.2" fill="none"/>
<path d="M505.0 378.8L511.0 384.8M505.0 384.8L511.0 378.8" stroke="#7d6391" stroke-width="1.2" fill="none"/>
<path d="M518.1 377.7L524.1 383.7M518.1 383.7L524.1 377.7" stroke="#7d6391" stroke-width="1.2" fill="none"/>
<path d="M529.2 377.1L535.2 383.1M529.2 383.1L535.2 377.1" stroke="#7d6391" stroke-width="1.2" fill="none"/>
<path d="M538.8 376.0L544.8 382.0M538.8 382.0L544.8 376.0" stroke="#7d6391" stroke-width="1.2" fill="none"/>
<path d="M554.9 367.6L560.9 373.6M554.9 373.6L560.9 367.6" stroke="#7d6391" stroke-width="1.2" fill="none"/>
<path d="M584.1 366.3L590.1 372.3M584.1 372.3L590.1 366.3" stroke="#7d6391" stroke-width="1.2" fill="none"/>
<path d="M604.9 351.1L610.9 357.1M604.9 357.1L610.9 351.1" stroke="#7d6391" stroke-width="1.2" fill="none"/>
<path d="M634.1 343.4L640.1 349.4M634.1 349.4L640.1 343.4" stroke="#7d6391" stroke-width="1.2" fill="none"/>
<path d="M654.8 331.3L660.8 337.3M654.8 337.3L660.8 331.3" stroke="#7d6391" stroke-width="1.2" fill="none"/>
<path d="M670.9 329.4L676.9 335.4M670.9 335.4L676.9 329.4" stroke="#7d6391" stroke-width="1.2" fill="none"/>
<path d="M684.1 328.9L690.1 334.9M684.1 334.9L690.1 328.9" stroke="#7d6391" stroke-width="1.2" fill="none"/>
<path d="M695.2 334.2L701.2 340.2M695.2 340.2L701.2 334.2" stroke="#7d6391" stroke-width="1.2" fill="none"/>
<path d="M704.8 332.2L710.8 338.2M704.8 338.2L710.8 332.2" stroke="#7d6391" stroke-width="1.2" fill="none"/>
<path d="M720.9 330.7L726.9 336.7M720.9 336.7L726.9 330.7" stroke="#7d6391" stroke-width="1.2" fill="none"/>
<path d="M750.1 307.8L756.1 313.8M750.1 313.8L756.1 307.8" stroke="#7d6391" stroke-width="1.2" fill="none"/>
<path d="M770.8 304.3L776.8 310.3M770.8 310.3L776.8 304.3" stroke="#7d6391" stroke-width="1.2" fill="none"/>
<path d="M800.1 290.4L806.1 296.4M800.1 296.4L806.1 290.4" stroke="#7d6391" stroke-width="1.2" fill="none"/>
<path d="M820.8 288.3L826.8 294.3M820.8 294.3L826.8 288.3" stroke="#7d6391" stroke-width="1.2" fill="none"/>
<path d="M836.9 286.5L842.9 292.5M836.9 292.5L842.9 286.5" stroke="#7d6391" stroke-width="1.2" fill="none"/>
<path d="M850.0 271.5L856.0 277.5M850.0 277.5L856.0 271.5" stroke="#7d6391" stroke-width="1.2" fill="none"/>
<path d="M861.1 267.5L867.1 273.5M861.1 273.5L867.1 267.5" stroke="#7d6391" stroke-width="1.2" fill="none"/>
<path d="M870.8 264.4L876.8 270.4M870.8 270.4L876.8 264.4" stroke="#7d6391" stroke-width="1.2" fill="none"/>
<path d="M886.8 261.4L892.8 267.4M886.8 267.4L892.8 261.4" stroke="#7d6391" stroke-width="1.2" fill="none"/>
<path d="M916.1 243.3L922.1 249.3M916.1 249.3L922.1 243.3" stroke="#7d6391" stroke-width="1.2" fill="none"/>
<path d="M936.8 230.4L942.8 236.4M936.8 236.4L942.8 230.4" stroke="#7d6391" stroke-width="1.2" fill="none"/>
<path d="M966.0 223.3L972.0 229.3M966.0 229.3L972.0 223.3" stroke="#7d6391" stroke-width="1.2" fill="none"/>
<path d="M986.8 200.3L992.8 206.3M986.8 206.3L992.8 200.3" stroke="#7d6391" stroke-width="1.2" fill="none"/>
<path d="M1002.8 198.4L1008.8 204.4M1002.8 204.4L1008.8 198.4" stroke="#7d6391" stroke-width="1.2" fill="none"/>
<path d="M1016.0 187.7L1022.0 193.7M1016.0 193.7L1022.0 187.7" stroke="#7d6391" stroke-width="1.2" fill="none"/>
<path d="M1027.1 187.5L1033.1 193.5M1027.1 193.5L1033.1 187.5" stroke="#7d6391" stroke-width="1.2" fill="none"/>
<path d="M1036.7 185.8L1042.7 191.8M1036.7 191.8L1042.7 185.8" stroke="#7d6391" stroke-width="1.2" fill="none"/>
<path d="M1052.8 152.3L1058.8 158.3M1052.8 158.3L1058.8 152.3" stroke="#7d6391" stroke-width="1.2" fill="none"/>
<path d="M1082.0 146.4L1088.0 152.4M1082.0 152.4L1088.0 146.4" stroke="#7d6391" stroke-width="1.2" fill="none"/>
<path d="M1102.8 104.6L1108.8 110.6M1102.8 110.6L1108.8 104.6" stroke="#7d6391" stroke-width="1.2" fill="none"/>
</g>
<rect x="949.7" y="405.6" width="428.0" height="216.5" fill="#fff" stroke="#2a2a2a" stroke-width="2"/>
<path d="M973.50 409.0V426.0" stroke="#ff0000" stroke-width="1.3" fill="none"/><path d="M969.30 409.5H977.70M969.30 425.5H977.70" stroke="#ff0000" stroke-width="1.2" fill="none"/>
<circle cx="973.2" cy="417.4" r="4.7" fill="#ff0000"/>
<text x="996.6" y="423.8" font-size="16.72" font-weight="bold" fill="#111">FTS1050AB2_vs_FTS1050AB7_10_10_B_sigma</text>
<path d="M973.50 430.0V447.0" stroke="#e8689c" stroke-width="1.3" fill="none"/><path d="M969.30 430.5H977.70M969.30 446.5H977.70" stroke="#e8689c" stroke-width="1.2" fill="none"/>
<polygon points="967.6,435.7 978.8,435.7 973.2,445.2" fill="#e8689c"/>
<text x="996.6" y="445.3" font-size="16.72" font-weight="bold" fill="#111">FTS1050AB3_vs_FTS1050AB7_10_10_B_sigma</text>
<path d="M973.50 452.0V469.0" stroke="#0d9eff" stroke-width="1.3" fill="none"/><path d="M969.30 452.5H977.70M969.30 468.5H977.70" stroke="#0d9eff" stroke-width="1.2" fill="none"/>
<rect x="969.6" y="456.8" width="7.2" height="7.2" fill="#0d9eff"/>
<text x="996.6" y="466.8" font-size="16.72" font-weight="bold" fill="#111">FTS1050AB3_vs_FTS1050AB7_10_10_sigma</text>
<path d="M973.50 473.0V490.0" stroke="#8b5a09" stroke-width="1.3" fill="none"/><path d="M969.30 473.5H977.70M969.30 489.5H977.70" stroke="#8b5a09" stroke-width="1.2" fill="none"/>
<polygon points="967.6,485.1 978.8,485.1 973.2,475.6" fill="#8b5a09"/>
<text x="996.6" y="488.3" font-size="16.72" font-weight="bold" fill="#111">FTS1050AB4_vs_FTS1050AB7_10_10_sigma</text>
<path d="M973.50 495.0V512.0" stroke="#0d50ff" stroke-width="1.3" fill="none"/><path d="M969.30 495.5H977.70M969.30 511.5H977.70" stroke="#0d50ff" stroke-width="1.2" fill="none"/>
<polygon points="973.2,497.8 977.9,503.4 973.2,509.0 968.5,503.4" fill="#0d50ff"/>
<text x="996.6" y="509.8" font-size="16.72" font-weight="bold" fill="#111">FTS1050AB5_vs_FTS1050AB7_10_10_sigma</text>
<path d="M973.50 516.0V533.0" stroke="#0f8273" stroke-width="1.3" fill="none"/><path d="M969.30 516.5H977.70M969.30 532.5H977.70" stroke="#0f8273" stroke-width="1.2" fill="none"/>
<polygon points="976.4,519.3 976.4,530.5 966.9,524.9" fill="#0f8273"/>
<text x="996.6" y="531.3" font-size="16.72" font-weight="bold" fill="#111">FTS1050AB6_vs_FTS1050AB7_10_10_sigma</text>
<path d="M973.50 538.0V555.0" stroke="#0a640a" stroke-width="1.3" fill="none"/><path d="M969.30 538.5H977.70M969.30 554.5H977.70" stroke="#0a640a" stroke-width="1.2" fill="none"/>
<polygon points="973.2,541.3 974.7,543.9 977.6,543.9 976.1,546.4 977.6,548.9 974.7,548.9 973.2,551.5 971.8,548.9 968.8,548.9 970.3,546.4 968.8,543.9 971.8,543.9" fill="#0a640a"/>
<text x="996.6" y="552.8" font-size="16.72" font-weight="bold" fill="#111">FTS1050AB7_vs_FTS1050AB10_10_10_sigma</text>
<path d="M973.50 559.0V576.0" stroke="#d488fb" stroke-width="1.3" fill="none"/><path d="M969.30 559.5H977.70M969.30 575.5H977.70" stroke="#d488fb" stroke-width="1.2" fill="none"/>
<polygon points="970.0,562.3 970.0,573.5 979.5,567.9" fill="#d488fb"/>
<text x="996.6" y="574.3" font-size="16.72" font-weight="bold" fill="#111">FTS1050AB7_vs_FTS1050AB11_10_10_sigma</text>
<path d="M973.50 581.0V598.0" stroke="#10f5d5" stroke-width="1.3" fill="none"/><path d="M969.30 581.5H977.70M969.30 597.5H977.70" stroke="#10f5d5" stroke-width="1.2" fill="none"/>
<polygon points="973.2,583.3 974.6,587.5 979.0,587.5 975.5,590.1 976.8,594.3 973.2,591.8 969.6,594.3 970.9,590.1 967.4,587.5 971.8,587.5" fill="#10f5d5"/>
<text x="996.6" y="595.8" font-size="16.72" font-weight="bold" fill="#111">FTS1050AB9_vs_FTS1050AB7_10_10_sigma</text>
<path d="M973.50 602.0V619.0" stroke="#7d6391" stroke-width="1.3" fill="none"/><path d="M969.30 602.5H977.70M969.30 618.5H977.70" stroke="#7d6391" stroke-width="1.2" fill="none"/>
<path d="M970.2 607.9L976.2 613.9M970.2 613.9L976.2 607.9" stroke="#7d6391" stroke-width="1.2" fill="none"/>
<text x="996.6" y="617.3" font-size="16.72" font-weight="bold" fill="#111">FTS1150A2_vs_FTS1050AB7_10_10_sigma</text>
<text x="225.8" y="657.7" font-size="19" font-weight="bold" fill="#111" text-anchor="middle">10<tspan font-size="15.2" dy="-9.2" dx="-0.3">-1</tspan></text>
<text x="391.8" y="657.7" font-size="19" font-weight="bold" fill="#111" text-anchor="middle">10<tspan font-size="15.2" dy="-9.2" dx="-0.3">0</tspan></text>
<text x="557.7" y="657.7" font-size="19" font-weight="bold" fill="#111" text-anchor="middle">10<tspan font-size="15.2" dy="-9.2" dx="-0.3">1</tspan></text>
<text x="723.7" y="657.7" font-size="19" font-weight="bold" fill="#111" text-anchor="middle">10<tspan font-size="15.2" dy="-9.2" dx="-0.3">2</tspan></text>
<text x="889.6" y="657.7" font-size="19" font-weight="bold" fill="#111" text-anchor="middle">10<tspan font-size="15.2" dy="-9.2" dx="-0.3">3</tspan></text>
<text x="1055.6" y="657.7" font-size="19" font-weight="bold" fill="#111" text-anchor="middle">10<tspan font-size="15.2" dy="-9.2" dx="-0.3">4</tspan></text>
<text x="1221.6" y="657.7" font-size="19" font-weight="bold" fill="#111" text-anchor="middle">10<tspan font-size="15.2" dy="-9.2" dx="-0.3">5</tspan></text>
<text x="1387.5" y="657.7" font-size="19" font-weight="bold" fill="#111" text-anchor="middle">10<tspan font-size="15.2" dy="-9.2" dx="-0.3">6</tspan></text>
<text x="219.6" y="65.0" font-size="19" font-weight="bold" fill="#111" text-anchor="end">10<tspan font-size="15.2" dy="-9.2" dx="-0.3">-9</tspan></text>
<text x="219.6" y="179.4" font-size="19" font-weight="bold" fill="#111" text-anchor="end">10<tspan font-size="15.2" dy="-9.2" dx="-0.3">-10</tspan></text>
<text x="219.6" y="293.8" font-size="19" font-weight="bold" fill="#111" text-anchor="end">10<tspan font-size="15.2" dy="-9.2" dx="-0.3">-11</tspan></text>
<text x="219.6" y="408.3" font-size="19" font-weight="bold" fill="#111" text-anchor="end">10<tspan font-size="15.2" dy="-9.2" dx="-0.3">-12</tspan></text>
<text x="219.6" y="522.7" font-size="19" font-weight="bold" fill="#111" text-anchor="end">10<tspan font-size="15.2" dy="-9.2" dx="-0.3">-13</tspan></text>
<text x="219.6" y="637.1" font-size="19" font-weight="bold" fill="#111" text-anchor="end">10<tspan font-size="15.2" dy="-9.2" dx="-0.3">-14</tspan></text>
<text x="807.3" y="683.5" font-size="18.67" font-weight="bold" fill="#111" text-anchor="middle">Time Scale (secs)</text>
<text transform="translate(167.9,340.9) rotate(-90)" font-size="18.67" font-weight="bold" fill="#111" text-anchor="middle">Modified Allan Deviation</text>
</svg>
</body></html>
